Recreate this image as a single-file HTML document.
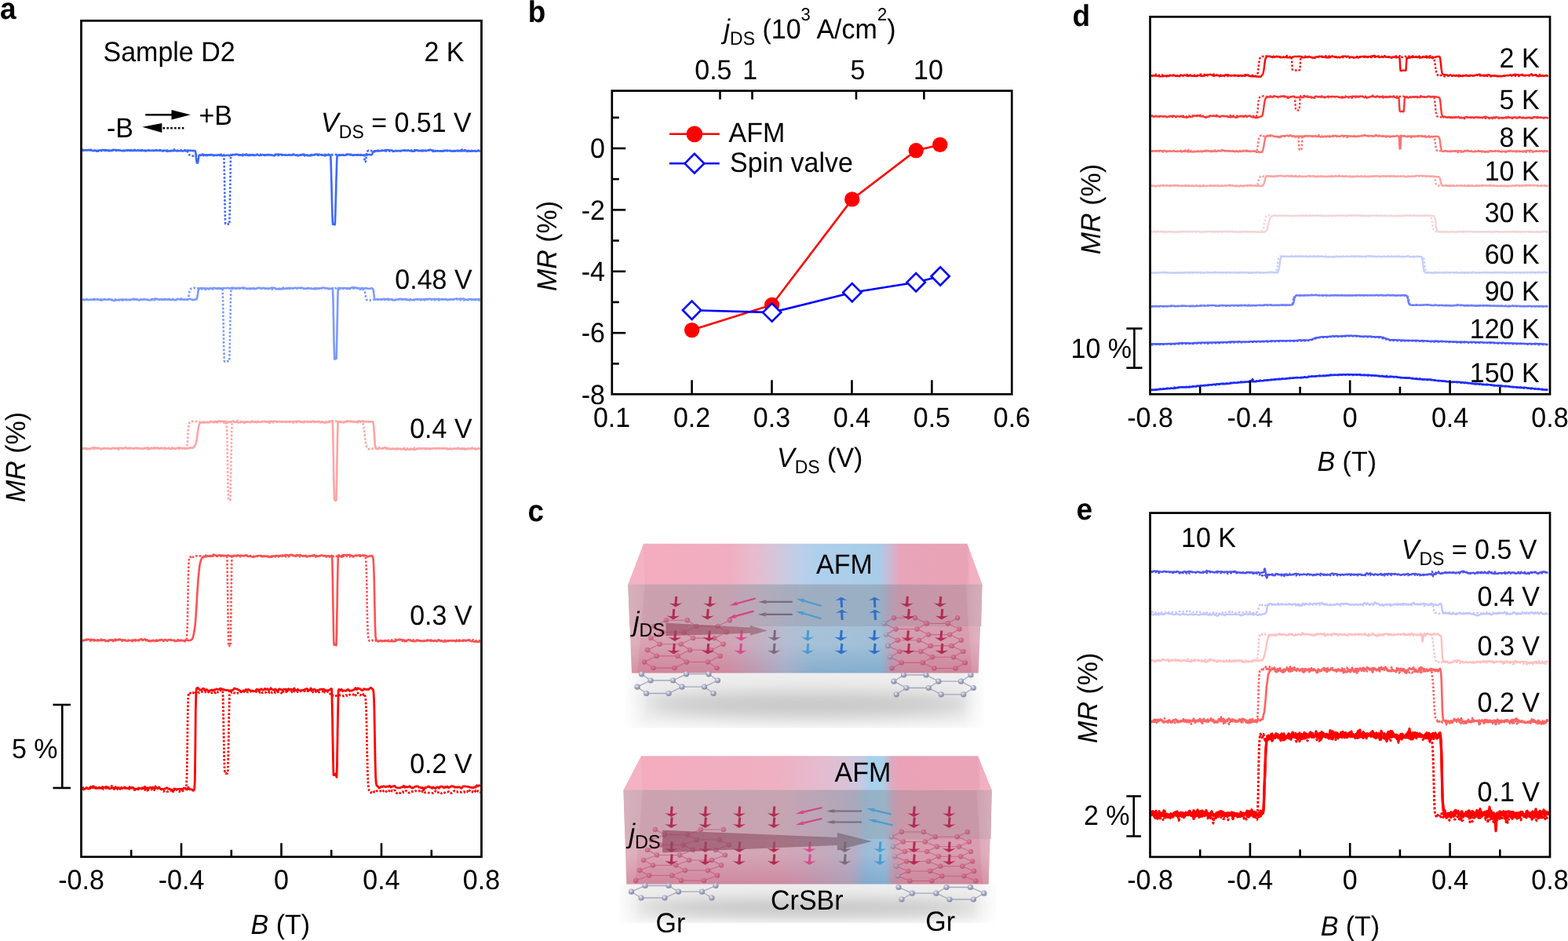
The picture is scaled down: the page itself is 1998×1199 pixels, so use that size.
<!DOCTYPE html>
<html><head><meta charset="utf-8"><title>Figure</title>
<style>
html,body{margin:0;padding:0;background:#fff;overflow:hidden;}
svg{display:block;}
text{font-family:"Liberation Sans", Arial, Helvetica, sans-serif;fill:#000;text-rendering:geometricPrecision;}
</style></head><body>
<svg width="1998" height="1199" viewBox="0 0 1998 1199">
<rect width="1998" height="1199" fill="#fff"/>
<g id="pa">
<path d="M105 191.8l1.5 0 1.5-.4 1.5-.1 1.5 0 1.5-.3 1.5 .4 1.5 0 1.5 .1 1.5 .8 1.5-.3 1.5-.5 1.5 1.1 1.5-.9 1.5-.1 1.5-.1 1.5 0 1.5-.6 1.5 .3 1.5 .8 1.5-.6 1.5 .2 1.5 .5 1.5 0 1.5-.2 1.5 .1 1.5-1.2 1.5 .1 1.5 .1 1.5 .3 1.5 .1 1.5 0 1.5 .3 1.5 .3 1.5 .1 1.5 0 1.5 .1 1.5-.7 1.5-.2 1.5-.1 1.5 .8 1.5 0 1.5-.1 1.5-.2 1.5 .3 1.5-.4 1.5 .5 1.5-.6 1.5 .5 1.5-.5 1.5 .7 1.5-.6 1.5 .4 1.5 .1 1.5 .4 1.5-.9 1.5 .1 1.5 .4 1.5-.4 1.5 .3 1.5-.1 1.5 .2 1.5-.6 1.5 .5 1.5-.2 1.5-.3 1.5 .6 1.5-.5 1.5 .9 1.5-.7 1.5 0 1.5 .5 1.5 .6 1.5-.4 1.5-.1 1.5 0 1.5-.3 1.5 .1 1.5-.4 1.5 .1 1.5 .5 1.5-.2 1.5 0 1.5-.3 1.5-.3 1.5 1 1.5-.3 1.5-.5 1.5 .7 1.5-.9 1.5 .1 1.5 .1 .3 0 .3 0 .4 .1 .3 0 .2 0 .2 0 .3 0 .1 0 .3 .1 .3 0 .1 0 .1 0 .1 0 .1 0 .2 0 .1 0 .2 0 .2 0 .1 .1 .2 0 .1 0 .1 0 .2 0 .2 0 .1 0 .2 0 .2-.1 .2 0 .1 0 .1 0 .1 0 .2 0 .1 0 .1 0 .1 0 .1 0 .1 0 .2 0 .2 .1 .1 0 0 .1 .2 .1 .2 .1 0 .1 .1 .3 .1 .1 .1 .3 0 .1 .1 .1 .1 1 .2 1.7 0 .3 0 .1 .2 1.7 .1 1.7 0 .3 0 .1 .2 1.5 .2 1.4 0 .2 0 .1 .2 1.1 .1 1 0 .1 0 .2 .1 0 .1 .8 .2 .7 0 .1 .2 0 .1 .1 .1 0 .1 0 .2 0 .2 0 .1 0 0-.1 .1-.2 .1-.4 .2-.9 0-.1 0-.1 .1-.9 .2-1.1 0-.2 .1-.1 .1-1.1 .2-1.1 0-.2 0-.1 .2-1 .1-.9 0-.1 0-.1 .2-.6 .2-.4 .2-.1 .1 0 .1 0 .1-.1 .2 0 .2 0 .1-.1 .1 0 .1 0 .1-.1 .1 .1 .2 0 .1 0 .2 .1 .2 0 .1 0 .2 .1 .2 0 .2 0 .1-.1 .2-.2 .2-.1 .2-.2 .2-.1 .1-.2 .2-.2 .2-.1 .1-.1 .1 0 .1 .1 .2 .1 .2 .1 .3 .2 .4 .2 .2 .1 .1 0 .4 0 .3 0 .4 .1 .3 0 1.5 .8 1.5-.2 1.5-.7 1.5 .5 1.5-.9 1.5 .7 1.5-.2 1.5 .3 1.5-.1 1.5 .3 1.5-.2 1.5-.4 1.5 .7 1.5 .3 1.5 0 1.5-.4 1.5 .3 1.5-.1 1.5-.3 1.5-.1 1.5 .7 1.5-1 1.5 .3 1.5-.6 1.5 .2 1.5-.4 1.5-.2 1.5 .1 1.5 1 1.5-.4 1.5 .2 1.5 .7 1.5-.8 1.5-.4 1.5 .7 1.5-.5 1.5 .8 1.5-1.1 1.5 .4 1.5-.2 1.5 .5 1.5-.3 1.5 .3 1.5-.4 1.5-.2 1.5 .8 1.5 .1 1.5-.2 1.5-.7 1.5 .2 1.5 .1 1.5 .3 1.5-.7 1.5 0 1.5 .4 1.5 0 1.5 .4 1.5 .2 1.5 .4 1.5-1 1.5-.6 1.5-.3 1.5 .2 1.5 .1 1.5-.1 1.5 .5 1.5 .1 1.5 .4 1.5 .1 1.5-.1 1.5-.6 1.5 .3 1.5 0 1.5 .3 1.5-1.2 1.5 .6 1.5 .7 1.5 0 1.5 .6 1.5-.3 1.5-.3 1.5-.3 1.5-.8 1.5-.2 1.5 1.1 1.5-.1 1.5 .2 1.5 .5 1.5 .2 1.5-.1 1.5-.6 1.5-.2 1.5 0 1.5-.7 1.5-.4 1.5 .3 1.5 0 1.5 .4 1.5 .1 1.5 .2 1.5 .3 .9 .4 .3 .2 .3 .1 .1 0 .3-.1 .4-.1 .3-.2 .4-.1 .3-.1 .4-.1 .3-.1 .4-.1 .1-.1 .2 0 .4 0 .3 0 .4 .1 .1 0 .1 0 .1 0 .1-.1 .3 0 .1 0 .2 0 .1 0 .3 0 .1 0 .2 0 .1 0 .3 0 .1 0 .2 0 .2 .1 .2 0 .1 0 .2 4.1 .1 2.1 .1 1.3 .2 6 .1 4.5 .2 7.4 .1 5.2 .3 8.2 .1 5.5 .2 8.3 .1 5.3 .1 1.9 .2 5.8 .1 4.8 .1 4.5 .1 2.1 .1 3.8 .2 3.3 .1 1.5 .1 2.5 .1-.1 .1 0 .2 0 .1-.1 .1 .1 .1 .1 .1 0 .1 .1 .2 .1 .1 0 .1 .1 .1 .1 .1 .1 .1 0 .1 .1 .2 .1 .1 0 .1 0 .1-.1 .1 0 .1-.1 .2 0 .1 0 .1-.1 .1-2.6 .1-1.5 .1-3.4 .2-4 .2-6.7 .1-4.8 .2-7.8 .2-5.3 .2-8.3 .1-5.5 .2-8.1 .2-5.2 .2-7.4 .1-3.3 0-1.2 .2-5.9 .2-3.3 .2-3.9 .1 0 .2 .1 .2 .1 .2 .1 .1 .1 .1 0 .1-.1 .2-.1 .2-.2 .1-.1 .2-.1 .2-.1 .2-.2 .1-.1 .2-.1 .1 0 .1 .1 .3 .1 .4 .1 .3 .1 .3 .1 .1 0 .3 0 .4 .1 .3 0 .4 0 .3-.1 .4-.1 .3-.2 .4-.1 .1 0 .2 .1 .4 .1 .9 .5 1.5-.1 1.5-.3 1.5-1.1 1.5 .4 1.5 0 1.5-.1 1.5 1 1.5-.2 1.5 .1 1.5-.2 1.5-.2 1.5-.1 1.5 .5 1.5 .1 1.5-.2 1.5 .3 1.5-.2 1.5 .3 1.5-.6 1.3 .2 .2 .1 .1-.1 .4-.1 .4-.2 .3-.1 .3-.1 .1 0 .3 0 .4 0 .3 0 .3 0 .1 0 .3 .1 .3 .1 .4 .1 .4 .1 .1 0 .2 0 .4-.1 .3-.2 .4-.3 .2-.3 .1-.1 .3-.5 .4-.9 .3-.8 .4-.5 .4-.6 .3-.3 .4-.3 .3-.1 .1-.1 .2 0 .4 0 .3 .1 .4 0 .2 0 .1 0 .4-.1 .4-.1 .3-.1 .3-.1 .1 0 .3 .1 .4 .2 .3 .1 .3 .1 .1 0 1.5 0 1.5-.3 1.5-.6 1.5 .1 1.5 .3 1.5-.6 1.5-.1 1.5-.2 1.5 .2 1.5 .3 1.5-.1 1.5 0 1.5 1.4 1.5-.2 1.5-.8 1.5 .4 1.5-.1 1.5-.1 1.5 .3 1.5-.6 1.5-.1 1.5-.1 1.5-.3 1.5 .6 1.5 .1 1.5-.4 1.5 .6 1.5 0 1.5 .5 1.5-.1 1.5 0 1.5-.8 1.5-.6 1.5 .7 1.5 .1 1.5 .1 1.5-.1 1.5 .5 1.5-.5 1.5-.3 1.5 .5 1.5-.4 1.5-.5 1.5-.4 1.5-.1 1.5 1 1.5 1.2 1.5-.2 1.5-.8 1.5 .3 1.5-.1 1.5 .3 1.5 0 1.5-.1 1.5 .2 1.5-.2 1.5-.4 1.5-.1 1.5 0 1.5 .1 1.5-.2 1.5 .4 1.5 .4 1.5-.2 1.5-.3 1.5 .1 1.5-.3 1.5 .5 1.5 0 1.5-.4 1.5 .6 1.5-.7 1.5 .3 1.5 0 1.5-.2 1.5 .8 1.5-.7 1.5 .7 1.5-.5 1.5 .5 1.5-.5 1.5 0 1.5 .3 1.5 .2 1.5-1.1 1.5 .5 1.5 .6" fill="none" stroke="#3d68ff" stroke-width="2.6" stroke-linejoin="round"/>
<path d="M105 190.4l1.5 .8 1.5 .1 1.5 .1 1.5 0 1.5-.3 1.5 .1 1.5-.5 1.5 .4 1.5 .2 1.5 .4 1.5 .8 1.5-.2 1.5 .1 1.5 .4 1.5 0 1.5-.5 1.5-.5 1.5-.2 1.5-.5 1.5 .5 1.5 .1 1.5-.1 1.5 0 1.5 .9 1.5-.4 1.5-.3 1.5-.1 1.5 .4 1.5-.2 1.5 .1 1.5-.4 1.5 .1 1.5-.6 1.5 .4 1.5 .4 1.5-.4 1.5 0 1.5 .5 1.5-.9 1.5 .1 1.5-.1 1.5-.2 1.5-.2 1.5 .3 1.5 .1 1.5 .4 1.5 .1 1.5-.1 1.5-.3 1.5 .3 1.5-.2 1.5 .4 1.5-.3 1.5 .5 1.5-.8 1.5 .2 1.5 .3 1.5-.3 1.5 .5 1.5-.1 1.5 .2 1.5-.7 1.5 .2 1.5 .5 1.5-.1 1.5-.5 1.5 1 1.5 .3 1.5-.5 1.5-.6 1.5 .2 1.5-.2 1.5 .2 1.5-.2 1.5 .6 1.5-.6 1.5 .2 1.5-1.2 1.5-.3 1.5 1.2 1.5 .4 1.5-.3 1.5 .8 1.5-.5 1.5-.4 .3 0 .4 0 .4 0 .3 0 .1 0 .2 0 .4 0 .3-.1 .4 0 .2-.1 .2 0 .3 .1 .3 0 .4 0 .3 0 .1 0 .3 .1 .3 0 .4 .2 .3 .3 .1 .1 .3 .5 .3 .9 .4 1 .3 1.1 .2 .4 .2 .4 .4 .5 .3 .3 .3 .1 .3 0 .1 .1 .3 .1 .4 .2 .3 .1 .4 .1 .3 .1 .4 0 .4 .1 .3 .1 .1 0 .2 .1 .4 .2 .3 .2 .4 .2 .2 .1 .2-.1 .3-.2 1-.5 1.5 .5 1.5-1.1 1.5 0 1.5 .2 1.5 .2 1.5 .1 1.5-.9 1.5 1.2 1.5-1.1 1.5 0 1.5 .4 1.5 .7 1.5-.8 1.5-.1 1.5 .3 1.5 .5 1.5-.1 1.5 .1 1.5-.4 1.4 0 .1 0 .3-.1 .3-.1 .4-.1 .3-.1 .2 0 .2 0 .3 .1 .4 .1 .3 .1 .3 .1 .1-.1 .3-.3 .4-.3 .3-.3 .4-.2 0-.1 .3 .2 .4 .1 0 .1 .3 .1 .1 0 .3 .2 .1 0 .2 0 .1 0 .3 0 .3-.1 .1 0 .3 0 .2 0 .1 0 .4 5.4 0 1.1 .3 15.3 .1 1.6 .3 19 0 1.8 .3 18 0 1.1 .1 1.7 .3 15.6 0 1.2 .3 6.4 .1 0 .3 0 .3 0 .1 0 .3 .1 .3 0 .1 0 .3 0 .3 0 .1 0 .1 0 .2 0 .3 .1 .1 0 .3 0 .3 0 .1 .1 .2 0 .1 0 .3 .1 .1 .1 .3 .1 .3 .1 .1 0 .3-6.3 0-1.2 .4-15.7 0-1.7 .3-19.1 0-1.8 .4-19 0-1.7 .3-15.3 0-1.1 .1-2.4 .2-3 .1 0 .3-.2 .3-.1 .1-.1 .3-.1 .2-.1 .1 0 .1 0 .3-.1 .4 0 .3-.1 .3 0 .1 0 .3 .1 .4 .1 .3 .1 .4 .1 .3-.1 .4-.1 .3-.1 .4-.2 .1 0 .2 0 .4 .1 .3 .1 .4 .1 .2 .1 .1 0 1.4 .1 1.5 .3 1.5-.7 1.5-.3 1.5 .2 1.5-.1 1.5-.4 1.5 .2 1.5 .2 1.5 .4 1.5 .8 1.5 0 1.5-.5 1.5-.3 1.5 1 1.5-.7 1.5-.6 1.5 .1 1.5 0 1.5 0 1.5 .2 1.5 .4 1.5 .3 1.5 .1 1.5-.5 1.5-.1 1.5 .1 1.5 .4 1.5-.4 1.5 .4 1.5 .3 1.5 0 1.5-1.4 1.5 1 1.5 .5 1.5-.4 1.5-.4 1.5 .2 1.5 0 1.5-.1 1.5-.5 1.5 .6 1.5-.3 1.5 .3 1.5-.2 1.5 .2 1.5 0 1.5-.6 1.5 0 1.5 .8 1.5-.1 1.5-.4 1.5 .4 1.5-.4 1.5 .1 1.5-.5 1.5 .8 1.5 .8 1.5-.7 1.5 .3 1.5-.5 1.5 .4 1.5-.8 1.5-.2 1.5 .9 1.5-.8 1.5-.1 1.5 .5 1.5 .3 1.5 .2 1.5-.3 1.5-.2 1.5 .2 1.5-.3 1.5-.6 1.5 .9 1.5-.4 1.5-.7 1.5 1.1 1.5-.7 1.5 0 1.5 .6 1.5-.6 1.5 0 1.5 .1 1.5 .8 1.5 .1 1.5 0 1.5-.1 1.5-.8 1.5 .7 1.5 .1 1.5-.8 1.5 .2 1.5 .1 1.5 .1 1.5-.3 1.5 1.5 1.5-.7 1.5-.5 1.5 0 1.5 .1 1.5-.1 .2-.1 .4-.2 .3-.1 .4-.2 .2-.1 .1 0 .4 .1 .3 0 .1 .1 .3 0 .1 0 .2 .1 .1 0 .3 0 .1 0 .2 0 .1 0 .2 0 .1 0 .2 .1 .1 0 .1 0 .1 0 .1 0 .1 0 .1 0 .2 .1 .1 0 .1 0 .1 0 .1 0 .1 0 .1 .1 .1 0 .1 0 .1 0 .1 0 .1 0 .1 0 .1 0 .1 .1 .1 0 .1 0 .1 0 .1 0 .1 0 .1 0 .1 0 .1 0 .1 0 .1 0 .1 0 0 .2 .1 .3 .2 .8 0 .7 .1 .4 .1 .5 .1 1.1 .1 .8 .1 .5 0 .5 .2 1 0 .7 .1 .4 .1 .3 .1 .6 .1 0 .1 0 .1-.1 .1 0 .1-.1 .1 0 .1-.1 .1 0 .1 0 0-.1 .1-.2 .1-.5 .1-.4 .1-.4 .1-1.2 .1-.9 .1-.6 0-.5 0-.1 .1-1.5 .1-.9 .1-.7 .1-.6 .1-1.5 .1-.9 0-.5 .1-.4 .2-.4 0-.2 .1-.1 .1-.1 .1-.1 .1-.1 .1-.1 .1 0 .1-.1 0-.1 .1-.1 .1 0 .1-.2 .1 0 .1-.1 .1-.1 .1-.1 .1 0 .1 0 .1-.1 .1-.1 .1 0 .1-.1 .1 0 .1 0 .1 0 .1 0 .1 0 .1 0 .1-.1 .2 0 .1 0 .1 0 .1 0 .1 0 .2 0 .1 0 .1 0 .1 0 .2 0 .2 0 .1 0 .1 0 .1 0 .2 0 .1 0 .3 0 .1 0 .2 .1 .1 .1 .3 .1 .1 .1 .2 .1 .1 .1 .3 .1 .1 .1 .2 0 1.3 .2 1.5 .6 1.5-.8 1.5-.8 1.5 .1 1.5-.2 1.5-.2 1.5 .6 1.5-.2 1.5 .4 1.5 .1 1.5 .2 1.5-.4 1.5 0 1.5 .4 1.5-.4 1.5 .8 1.5-.3 1.5-.7 1.5 .1 1.5 .1 1.5 0 1.5 .3 1.5-.3 1.5 .3 1.5-.6 1.5-.1 1.5 .3 1.5-.6 1.5 .5 1.5-.6 1.5 0 1.5 .1 1.5 0 1.5 .2 1.5-.7 1.5 .3 1.5 0 1.5 .8 1.5-.1 1.5 .1 1.5 0 1.5-.8 1.5 1.1 1.5-.4 1.5 0 1.5-.2 1.5 0 1.5-.5 1.5 0 1.5 .2 1.5 .2 1.5-.5 1.5 1.1 1.5-.1 1.5-.3 1.5 .4 1.5 .2 1.5-.2 1.5 .3 1.5-.9 1.5 .2 1.5-.6 1.5 .9 1.5-.3 1.5 .4 1.5 0 1.5 .6 1.5-.6 1.5 .5 1.5-.4 1.5-.6 1.5 0 1.5 .1 1.5-.3 1.5-.7 1.5-.3 1.5 1.5 1.5-1 1.5 1.1 1.5 .8 1.5-1.3 1.5 .8 1.5-.2 1.5-.7 1.5-.2 1.5 .7 1.5-.1 1.5-.3 1.5 .3 1.5-.3 1.5-.2" fill="none" stroke="#3d68ff" stroke-width="2.6" stroke-linejoin="round" stroke-dasharray="2.6 2.2"/>
<path d="M105 381.8l1.5-.1 1.5 .5 1.5-.4 1.5-.3 1.5 .8 1.5-.3 1.5-.3 1.5 .2 1.5-.3 1.5 .6 1.5-.7 1.5 0 1.5 .1 1.5 .1 1.5 .6 1.5 .4 1.5-.4 1.5-.8 1.5 .3 1.5-.1 1.5 .1 1.5-.4 1.5-.2 1.5 .6 1.5 .7 1.5 0 1.5 .8 1.5-1.1 1.5 .2 1.5-.4 1.5-.3 1.5 .3 1.5-.5 1.5 .1 1.5 .2 1.5-.1 1.5 .3 1.5-.2 1.5 .2 1.5-.2 1.5 .2 1.5-.5 1.5-.4 1.5-.3 1.5 .8 1.5-.1 1.5 .6 1.5 .3 1.5-.3 1.5-.1 1.5-.2 1.5-.4 1.5 .1 1.5 .3 1.5-.3 1.5 .5 1.5 .4 1.5-.5 1.5-.7 1.5-.1 1.5 .2 1.5-.8 1.5 .5 1.5 0 1.5 .8 1.5-.2 1.5-.4 1.5 .7 1.5-.1 1.5-1 1.5 .9 1.5-.1 1.5 0 1.5 .3 1.5-.1 1.5 .2 1.5-.1 1.5 .1 1.5 .5 1.5-.6 1.5-1 1.5 .4 1.5-.1 1.5-.7 1.5 1.2 1.5 .1 1.5-.4 1.5 .4 1.5 .1 1.5-.5 1.5-.7 1.5 .5 1.5 .4 .5 .2 .3 .1 .4 .1 .3 .1 .1 0 .3 0 .3 0 .4 0 .3-.1 .1 0 .3-.1 .3-.1 .4-.1 .3-.2 .2 0 .2 0 .4 0 .3-.1 .3-.2 .3-.2 .1-.1 .3-.7 .4-1.2 .3-1.9 .4-2.3 .3-2.6 .4-2 .4-1.5 .3-.9 .1-.2 .2-.1 .4-.1 .3 .1 .4 .1 .2 .1 .2-.1 .3-.2 .3-.1 .4-.2 .3-.1 .1 0 .3 .1 .4 .1 .3 .1 .3 .1 .1 0 .3 0 .3-.1 .4-.1 .5-.1 1.5 .8 1.5-.6 1.5 .3 1.5 .5 1.5-.8 1.5-.1 1.5 .3 1.5-.1 1.5-.6 1.5 .7 1.5 0 1.5 .5 1.5-1.1 1.5 .7 1.5 .1 1.5-.5 1.5-.2 1.5 .2 1.5 0 1.5-.2 1.5-.1 1.5 .5 1.5 0 1.5-.8 1.5 .5 1.5-.2 1.5 .6 1.5-.6 1.5 .4 1.5-.6 1.5 .5 1.5-.3 1.5-.3 1.5 .2 1.5 .1 1.5 .8 1.5 .1 1.5-.1 1.5-.1 1.5 0 1.5-.1 1.5 .2 1.5 .4 1.5-.1 1.5-.5 1.5-.4 1.5-.4 1.5 .2 1.5 .5 1.5 0 1.5-.6 1.5 .4 1.5 .4 1.5-.1 1.5 .3 1.5-.2 1.5-.6 1.5-.4 1.5 .4 1.5-.3 1.5 .7 1.5 .6 1.5 .2 1.5 .2 1.5 .1 1.5-.6 1.5 .3 1.5-.3 1.5-.2 1.5 0 1.5 0 1.5-.7 1.5-.2 1.5 .5 1.5 .1 1.5-.4 1.5 .1 1.5-.3 1.5 .6 1.5-.6 1.5 .2 1.5-.1 1.5 0 1.5 0 1.5 1.1 1.5-.1 1.5-.1 1.5-.4 1.5 0 1.5 0 1.5 .4 1.5 .2 1.5 0 1.5 0 1.5 .5 1.5-1.2 1.5 .7 1.5-.3 1.5-.5 1.5 .1 1.5-.7 1.5 .2 1.5 0 1.5 .4 .8 0 .4 .1 .3 0 .4 .2 .3 .2 .4 .2 .3 .1 .1 .1 .3-.1 .3-.2 .4-.1 .3-.2 .2 0 .2 0 .2 .1 .1 0 .2 .1 .2 0 .2 .1 .1 0 .2 0 .1 .1 .1-.1 .2 0 .1 0 .2-.1 .2 0 .2 0 .1 0 .2-.1 .2 0 .2 0 .1 0 .2 0 .2 .1 .2 0 .1 .4 .2 6.3 .2 4.3 .1 4.3 0 .9 .1 4.3 .1 5.6 .1 5.3 .1 6 .2 6.1 .1 5.6 .1 6.1 .1 5.9 .1 5.3 .1 5.4 .2 5 .1 4.1 .1 4 .1 3.3 .1 1.8 .2-.1 .1 0 .1 0 .1-.1 .1 0 .1 0 .2-.1 .1 0 .1 0 .1-.1 .1 0 .1 0 .1-.1 .2 0 .1-.1 .1 0 .1 0 .1-.1 .1 0 .2-.1 .1-1.8 .1-3.4 .1-4 .1-3 0-1.2 .1-5 .2-5.4 .1-5.3 .1-5.9 .1-6.1 .1-5.6 .2-6.1 .1-6 .1-5.4 .1-5.5 .2-9.6 .1-2.5 .1-1.7 .2-6.2 .1-.3 .2 .1 .1 0 .3 .1 .1 .1 .2 .1 .1 .1 .1 0 .2-.1 .1 0 .2 0 .1-.1 .3 0 .1 0 .2-.1 .2 0 .1 0 .1 0 .1 0 .2 0 .2 0 .2 0 .3 0 .4 0 .3 0 .4 .1 .3 .1 .4 .1 .1 0 .2 0 .4-.2 .3-.1 .4-.1 .2 0 .1 0 1.4 .2 1.5-.1 1.5 .3 1.5-.2 1.5 .2 1.5-.2 1.5-1 1.5 .4 1.5-.5 1.5 1 1.5-.3 1.5 .7 1.5-.2 1.5 .4 1.5-.4 1.5-.2 1.5 .4 1.5 0 1.5-.5 1.5 .7 1.4 0 .1 0 .2 .1 .4 0 .3 .1 .4 .1 .2 0 .1-.1 .4-.1 .4-.2 .3-.2 .3-.1 .1 0 .3 0 .4 0 .3 0 .3 0 .1 0 .3 .2 .3 .2 .4 .3 .4 .7 .1 .4 .2 .7 .4 2 .3 2.9 .4 2.8 .2 1.5 .1 .5 .3 1.1 .4 .6 .3 .2 .4 .1 .4 0 .3 0 .4 0 .3 0 .1 0 .2 .1 .4 .1 .3 .1 .4 .1 .2 .1 .1-.1 .4-.1 .4-.1 .3-.1 .3-.1 .1 0 1.4-.1 1.5 0 1.5 .1 1.5-.6 1.5 .1 1.5 .6 1.5-.6 1.5-.1 1.5 .6 1.5 0 1.5 .1 1.5 1 1.5-.3 1.5-.5 1.5-.1 1.5-.3 1.5 0 1.5-.7 1.5 .9 1.5-.5 1.5 .4 1.5-.3 1.5-.3 1.5 1.2 1.5 0 1.5 .3 1.5-.3 1.5 .1 1.5-.1 1.5 .4 1.5-1.2 1.5 .2 1.5 .3 1.5-.7 1.5 .8 1.5-.6 1.5 .4 1.5-.3 1.5 .1 1.5-.5 1.5 .7 1.5-.6 1.5-.4 1.5 .6 1.5-.2 1.5 .1 1.5-.3 1.5 .3 1.5 .1 1.5 0 1.5-.5 1.5 .8 1.5-.1 1.5-.2 1.5 .1 1.5 .2 1.5-.4 1.5 1 1.5-.5 1.5-.1 1.5-.5 1.5 .7 1.5-.4 1.5-.1 1.5-.5 1.5-.3 1.5 .7 1.5-.3 1.5-.4 1.5 .2 1.5 .3 1.5-.4 1.5 .9 1.5 .2 1.5 .1 1.5-.4 1.5-.1 1.5-.3 1.5 .2 1.5 .6 1.5-.3 1.5-.2 1.5 .2 1.5 .1 1.5-.4 1.5 0" fill="none" stroke="#7a9aff" stroke-width="2.6" stroke-linejoin="round"/>
<path d="M105 382.7l1.5-.9 1.5 .4 1.5-.8 1.5 0 1.5-.4 1.5 .8 1.5-.1 1.5 .2 1.5-.9 1.5 0 1.5-.8 1.5 .6 1.5 .4 1.5 .5 1.5-.2 1.5-.1 1.5 .6 1.5-.4 1.5-.3 1.5 .6 1.5 .6 1.5-.7 1.5-.3 1.5 .5 1.5-.3 1.5-.1 1.5 .3 1.5-.5 1.5 .5 1.5 1 1.5-.4 1.5-.5 1.5 .5 1.5 .2 1.5-.3 1.5-.1 1.5-.5 1.5 .9 1.5-.6 1.5 .1 1.5-.1 1.5-.4 1.5-.3 1.5 .6 1.5-.3 1.5-.6 1.5 .6 1.5 .4 1.5-.4 1.5-.3 1.5 .6 1.5-.3 1.5-.3 1.5 .4 1.5 .3 1.5 .1 1.5 .3 1.5-.5 1.5 .3 1.5-.8 1.5 1 1.5-.8 1.5 .5 1.5-.7 1.5 .4 1.5-.6 1.5 .4 1.5-.3 1.5-.1 1.5 .8 1.5-.3 1.5-.4 1.5 0 1.5 0 1.5-.2 1.5 .2 1.5-.2 1.5 .1 1.5 0 1.5 .2 1.5 .4 1.5-.3 1.5-.2 1.5 .3 1.5-.5 1.5 .7 .3-.1 .4 0 .4 0 .3-.1 .1 0 .2 0 .4 0 .3-.1 .4 0 .2 0 .2 0 .3 0 .3 0 .4 0 .3-.1 .1 0 .3 0 .3-.3 .4-.4 .3-.7 .1-.2 .3-1.3 .3-2 .4-2.2 .3-2.3 .2-.9 .2-.8 .4-1 .3-.7 .3-.3 .3-.1 .1-.1 .3-.3 .4-.2 .3-.2 .4-.1 .3-.1 .4-.1 .4 0 .3-.1 .1 0 .2-.1 .4-.1 .3 0 .4-.1 .2-.1 .2 .1 .3 .2 1 .4 1.5-.1 1.5-.1 1.5 .4 1.5 .5 1.5-.1 1.5 .6 1.5-.4 1.5 .3 1.5 .4 1.5-.5 1.5-.1 1.5 0 1.5-.6 1.5 .6 1.5 .2 1.5-.6 1.5-.1 1-.4 .4-.1 .1 0 .2 0 .4 0 .3 0 .4 0 .2 .1 .1 0 .4 0 .3 .1 .4 .1 .3 0 .4 .1 .3 0 .4 0 .3 0 .1 0 .3 .1 .3 .1 .4 0 .3 .1 .2 .1 .2-.1 .2 0 .1 0 .2 0 .2-.1 .2 0 .1 0 .2-.1 .1 0 .1 0 .1 3.8 .2 5.7 .2 7.2 .2 7.8 .1 8.9 .2 8.8 .2 9.5 .2 8.7 0 1.6 .1 7.3 .2 7.6 .2 7.1 .2 5.5 .2 3.2 .1 0 .2 0 .2 0 .1 .1 .1 0 .1-.1 .2 0 .2 0 .1 0 .2 0 .2 0 .2 0 .1 0 .1 0 .1-.1 .2 0 .2 0 .1-.1 .2 0 .2-.1 .2 0 .2-.1 .1 0 .2 0 .2 .1 .2 0 .1 0 .2 0 .2 .1 .1 0 .2 0 .1 0 .1 0 .2 0 .1 0 .2-.1 .2 0 .2 0 .1-.1 .2-3.2 .2-5.4 .2-7.1 .2-7.7 .1-8.8 .2-8.7 .2-9.5 .2-8.8 .1-8.8 .2-7.8 .1-4.1 .1-3.1 .1-5.6 .2-3.8 .2 0 .2 0 .1 0 .2 0 .2 0 .2 0 .1 0 .2 0 .4 .1 .3 0 .4 .1 .1 0 .2 0 .4-.1 .3 0 .4 0 .2 0 .1 0 .4-.1 .3 0 .4 0 .3 0 .4 0 .3-.1 .4 0 .3-.1 .1 0 .3 0 .3 0 .9-.1 1.5 .3 1.5-.1 1.5 .2 1.5 .1 1.5-.3 1.5 .8 1.5-.5 1.5 .3 1.5-.9 1.5 .9 1.5-.3 1.5-.1 1.5-.7 1.5 .3 1.5-.5 1.5 .4 1.5-.3 1.5-.2 1.5 .4 1.5 .6 1.5 .2 1.5-.7 1.5 .5 1.5 .1 1.5 .1 1.5 0 1.5 .1 1.5 .8 1.5-.2 1.5-.7 1.5 .6 1.5-.6 1.5 .1 1.5-.5 1.5 0 1.5 .5 1.5-.3 1.5-.6 1.5-.9 1.5 1.2 1.5-.2 1.5-.3 1.5 .4 1.5 .5 1.5-.8 1.5 .8 1.5-.6 1.5 .2 1.5 .1 1.5-.1 1.5 .1 1.5 .1 1.5-.8 1.5 .5 1.5 .8 1.5-.7 1.5 .1 1.5 .1 1.5-.9 1.5 .8 1.5-.2 1.5 .2 1.5 0 1.5 .5 1.5-.7 1.5-.2 1.5 .8 1.5-.8 1.5 .7 1.5-.4 1.5-.3 1.5-.1 1.5 .8 1.5-.6 1.5 .2 1.5-.1 1.5 .5 1.5 .4 1.5 .1 1.5-.7 1.5-.6 1.5 .9 1.5-.8 1.5 1.1 1.5 .2 1.5 0 1.5 0 1.5 0 1.5-.6 1.5-.2 1.5 .2 1.5 0 1.5 .1 1.5-1 1.5 1.1 1.5-.4 1.5 .5 1.5-.5 1.5-.3 1.5 .1 1.5-.8 1.5 1.2 1.5 .2 .9 .5 .4 .2 .2 .1 .1-.1 .3-.2 .4-.3 .3-.3 .4-.2 .4 .3 .3 .3 .4 .3 .3 .3 .1 .1 .2-.2 .4-.1 .3-.1 .4 0 .2 .1 .1 .1 .4 .5 .4 .7 .3 1 .3 1.2 .1 .3 .3 2 .4 2.1 .3 1.8 .3 1.6 .1 .1 .3 .8 .3 .6 .4 .4 .4 .2 .1 .1 .2 .1 .4 .2 .3 .1 .4 .1 .2 0 .1 .1 .3 0 .4 .1 .3 0 .4 0 .4-.2 .3-.2 .4-.1 .4-.3 1.5-.1 1.5-.3 1.5 .1 1.5-.5 1.5 .2 1.5-.2 1.5 .9 1.5-.5 1.5-.1 1.5 .3 1.5 .3 1.5-.5 1.5 .5 1.5-.2 1.5 .1 1.5-.5 1.5 .6 1.5-.8 1.5 .3 1.5 1 1.5-.7 1.5 .2 1.5-.2 1.5-.8 1.5 .2 1.5-.1 1.5 .4 1.5-.2 1.5 .4 1.5 .1 1.5-.5 1.5-.2 1.5 .1 1.5-.4 1.5 .2 1.5 .4 1.5 .1 1.5-.3 1.5-.3 1.5 .2 1.5 .1 1.5 .8 1.5-.4 1.5 .4 1.5-.6 1.5 .7 1.5-1.1 1.5-.4 1.5 .3 1.5 .1 1.5 .2 1.5 .6 1.5 0 1.5 .5 1.5-.9 1.5 .1 1.5 .1 1.5 .5 1.5-.4 1.5-.1 1.5-.5 1.5 .2 1.5-.4 1.5 .2 1.5 .5 1.5 0 1.5-.5 1.5 .4 1.5 .1 1.5-.4 1.5 .2 1.5 .2 1.5-.8 1.5 1.1 1.5-.2 1.5 .3 1.5 0 1.5 .4 1.5-.1 1.5-.5 1.5 .1 1.5-.2 1.5 .4 1.5-.3 1.5 .1 1.5-.2 1.5 .2 1.5-.2 1.5 .2 1.5-.6 1.5-.1 1.5 1.1 1.5-.8" fill="none" stroke="#7a9aff" stroke-width="2.6" stroke-linejoin="round" stroke-dasharray="2.6 2.2"/>
<path d="M105 570.6l1.5 1.2 1.5-.4 1.5 0 1.5 0 1.5 .5 1.5 0 1.5 0 1.5-1.4 1.5 .3 1.5-.5 1.5 .5 1.5 0 1.5 0 1.5 .4 1.5 .1 1.5 .6 1.5-.2 1.5-.5 1.5-.2 1.5 .3 1.5 .2 1.5-.4 1.5 .7 1.5 .2 1.5-.5 1.5-1 1.5 1 1.5-.1 1.5-.6 1.5 1.1 1.5-1.2 1.5 .2 1.5-.2 1.5 1.1 1.5-.4 1.5-.7 1.5 .6 1.5 .2 1.5 .1 1.5-.6 1.5 .4 1.5-.6 1.5 .8 1.5 0 1.5-.9 1.5 .4 1.5 .5 1.5-.5 1.5 .1 1.5 .6 1.5-.2 1.5 .1 1.5-1 1.5 .4 1.5-.6 1.5 0 1.5 1.8 1.5-1.2 1.5-.4 1.5 .9 1.5-.4 1.5 .3 1.5-1 1.5 .7 1.5 .7 1.5-.7 1.5-.6 1.5 .7 1.5-.1 1.5-.6 1.5 .8 1.5 .1 1.5 0 1.5 .1 1.5 .5 1.5-.5 1.5-.4 1.5 .2 1.5 .2 1.5-.6 1.5-.2 1.5-.8 1.5 1.2 1.5-.4 1.5 .5 1.5-.2 1.5-.1 1.5 .3 1.5 0 1.5 .1 1.5-.7 1.5-.5 1.5 .8 .3-.1 .4 0 .4-.1 .3-.1 .1-.1 .2-.2 .4-.4 .3-.4 .4-.4 .2-.3 .2-.1 .3-.4 .3-.4 .4-.6 .3-.6 .1-.1 .3-.9 .3-1.2 .4-1.4 .3-1.7 .1-.3 .3-2 .3-2.4 .4-2.6 .3-2.6 .2-1.1 .2-1.4 .4-2.2 .3-2 .3-1.7 .3-1.1 .1-.3 .3-1.1 .4-.8 .3-.7 .4-.5 .3-.2 .4 0 .4 0 .3 .1 .1 0 .2-.1 .4-.1 .3 0 .4-.1 .2 0 .1 0 .4-.2 1-.3 1.5 .7 1.5-.6 1.5 .2 1.5 .4 1.5-.7 1.5-.5 1.5-.3 1.5 .9 1.5-.5 1.5-.6 1.5 1.4 1.5-1.2 1.5-.4 1.5 .4 1.5-.3 1.5 0 1.5 .2 1.5 0 1.5 .1 1.5 .7 1.5 .4 1.5-.7 1.5 .5 1.5-1 1.5-.4 1.5 .7 1.5 .4 1.5 .1 1.5 .5 1.5 .3 1.5-.4 1.5-.1 1.5-.2 1.5-.2 1.5-.1 1.5 .3 1.5-.6 1.5 .4 1.5 .4 1.5 .1 1.5-1.7 1.5 1.2 1.5 .3 1.5-1 1.5 1.3 1.5-1.2 1.5 .7 1.5 0 1.5 .1 1.5-.3 1.5-.4 1.5-.3 1.5 .5 1.5 .5 1.5-.7 1.5 1.3 1.5-2 1.5 .9 1.5-.6 1.5 .1 1.5 0 1.5 .5 1.5-.2 1.5 .1 1.5 0 1.5 .6 1.5-.3 1.5 0 1.5-.3 1.5 .4 1.5 0 1.5 .2 1.5-.8 1.5 .3 1.5-.1 1.5 0 1.5-.1 1.5-.1 1.5-.2 1.5 .3 1.5-.5 1.5 .7 1.5 .7 1.5-.1 1.5-.6 1.5-.4 1.5 .5 1.5-.4 1.5 .4 1.5 .3 1.5-.7 1.5 0 1.5-.1 1.5 0 1.5 .7 1.5-.3 1.5-.4 1.5 .6 1.5 .7 1.5 0 1.5-.3 1.5-.1 1.5 .8 1.5-1 .6 .1 .4 0 .3 .1 .2 0 .2 0 .3 0 .4 .1 .3 0 .3 0 .1 0 .3-.4 .4-.3 .3-.3 .4-.3 0-.1 .2 .1 .1 0 .2 .1 .2 .1 .2 .1 .1 0 .2 .1 .2 0 .1 .1 .1 0 .1-.1 .2-.1 .2 0 .2-.1 .1 0 .2-.1 .2 0 .2-.1 .1 0 .2 0 .2 .1 .2 0 .1 .5 .2 7 .2 4.7 .1 4.9 .1 5.8 .1 5.1 0 1.1 .1 5.8 .1 6.7 .2 6.7 .1 6.2 .1 6.8 .1 6.5 .1 5.8 .1 5.9 .2 5.6 .1 4.5 .1 4.4 .1 3.7 .1 2 .1 .1 .2 .2 .1 .1 .1 .1 .1 .2 .1 .1 .2 .1 .1 .1 .1 .2 .1 .1 .1 .1 .1 .2 .1 0 .1 0 .1 0 .1-.1 .1 0 .1 0 .1-.1 .1 0 .2 0 .1-2.1 .1-3.7 .1-4.5 .1-4.6 .1-5.6 .1-2.5 .1-3.6 .1-5.8 .1-6.7 .1-6.8 .1-6.2 .1-6.9 .2-6.7 .1-5.9 .1-6.2 .2-10.7 .2-4.7 .1-5 .1-2 .1-.5 .2 .1 .2 .1 .2 .1 .1 .1 .2 .1 .1 0 .3 .1 .1 0 .2-.1 .1-.1 .3-.1 .1-.1 .2-.1 .1 0 .3-.1 .1-.1 .2 .2 .2 .1 .2 .1 .3 .3 .4 .2 .2 .2 .1 0 .4-.1 .3-.1 .4 0 .3-.1 .4 .1 .3 .2 .4 .1 .3 .1 .1 .1 1.5-1.1 1.5 .3 1.5-.9 1.5 .2 1.5 .2 1.5 0 1.5-.2 1.5 .6 1.5 .2 1.5-.1 1.5-.5 1.5 .8 1.5-1.6 1.5 1.1 1.5-.5 1.5-.7 1.5 1 1.5 0 1.5 .1 1.5 0 1.5 .1 .5 0 .4 0 .3 0 .3 .1 .1 0 .3-.1 .4-.1 .3 0 .3-.1 .1 0 .3 .1 .3 0 .4 0 .4 .1 .1 .1 .2-.1 .4 0 .3 .1 .4 .4 .2 .5 .1 .3 .3 1.9 .4 3.1 .3 4.6 .4 5.9 .4 5.9 .3 4.7 .4 3.1 .3 1.9 .1 .4 .2 .6 .4 .5 .3 .2 .4 .1 .2 0 .1 .1 .4 0 .4 .1 .3 .1 .3 0 .1 0 .3-.2 .4-.2 .3-.2 .3-.2 .1 0 .3 0 .3 .1 .9 .1 1.5 .2 1.5-.3 1.5-.1 1.5-1 1.5 .7 1.5 .2 1.5 .2 1.5 .8 1.5 .3 1.5-.7 1.5 .1 1.5 .6 1.5-.7 1.5 1.1 1.5-.9 1.5 0 1.5 .2 1.5 .6 1.5-.8 1.5 .1 1.5 1.1 1.5-.1 1.5-.4 1.5 0 1.5 .1 1.5 0 1.5-.4 1.5 .2 1.5 .2 1.5 .4 1.5-.9 1.5-.4 1.5-.3 1.5-.1 1.5 .5 1.5-.6 1.5 .3 1.5-.2 1.5 .3 1.5-.2 1.5 .1 1.5 .7 1.5-.2 1.5-.8 1.5 .1 1.5 .3 1.5-.4 1.5 0 1.5-.1 1.5 .2 1.5 0 1.5 .2 1.5-.3 1.5-.1 1.5 0 1.5 .7 1.5-.2 1.5 .8 1.5-.7 1.5-.4 1.5 1.1 1.5-.6 1.5 0 1.5-.2 1.5 .1 1.5-1 1.5 .9 1.5 .2 1.5-.5 1.5 .9 1.5-1 1.5 .6 1.5 .6 1.5-.1 1.5-.6 1.5 .3 1.5-.1 1.5-1.2 1.5 1 1.5 0 1.5 .8 1.5-.4 1.5-.5 1.5-.1 1.5 .7" fill="none" stroke="#ffa4a4" stroke-width="2.6" stroke-linejoin="round"/>
<path d="M105 572l1.5-1.2 1.5 1.3 1.5 0 1.5 .1 1.5-.5 1.5-.1 1.5 .1 1.5-.1 1.5 .2 1.5 .3 1.5-1.6 1.5 .7 1.5 .6 1.5-.1 1.5 .3 1.5 .3 1.5 0 1.5-.7 1.5 .2 1.5 .3 1.5-.3 1.5-.2 1.5 .5 1.5-.1 1.5-.4 1.5-.1 1.5-.5 1.5 .5 1.5 .4 1.5-.3 1.5 1.2 1.5-.5 1.5-.5 1.5-.5 1.5-.6 1.5-.3 1.5-.3 1.5 .7 1.5-.2 1.5 .1 1.5 .7 1.5-.1 1.5 .2 1.5-.8 1.5 .6 1.5-.3 1.5-.1 1.5 .5 1.5-.1 1.5 .1 1.5 .1 1.5 .3 1.5-.5 1.5 .5 1.5 .2 1.5 .4 1.5 .3 1.5-1.1 1.5-.8 1.5-.2 1.5-.4 1.5 .5 1.5-.4 1.5 .3 1.5 .5 1.5 .7 1.5-.8 1.5 .4 1.5 .2 1.5 .7 1.5-1.3 1.5-.6 1.5 .4 1.5-.2 1.5-.2 1.5-.3 1.5 1.6 1.5-.4 1.5 .9 1.5-.4 1.5-.2 1.5 .3 1.5-1.3 1.5 .1 1.5 .8 .3 .1 .4 .1 .4 .1 .3 .1 .1 .1 .2-.1 .4-.1 .3-.1 .4-.1 .2 0 .2 0 .3 0 .3 0 .4-.1 .3-.1 .1 0 .3-.2 .3-.4 .4-1 .3-1.7 .1-.3 .3-2.8 .3-4.7 .4-5.9 .3-5.9 .2-2.2 .2-2.2 .4-2.8 .3-1.5 .3-.6 .3-.2 .1-.2 .3-.6 .4-.4 .3-.4 .4-.4 .3 0 .4-.1 .4-.1 .3 0 .1-.1 .2 .1 .4 0 .3 .1 .4 .1 .2 0 .2 0 .3 0 1 .1 1.5 .3 1.5-.5 1.5 .8 1.5-.1 1.5 .2 1.5-.3 1.5 .2 1.5 .3 1.5-.2 1.5-.2 1.5 .5 1.5-.3 1.5-.4 1.5-.4 1.5 .3 1.5 0 1.5 1 1.5-.3 1.5 .8 1.5-.9 1.5 .5 1.5-1.7 .6 .6 .4 .3 .3 .3 .2 .2 .2 0 .3 0 .4 0 .3 .1 .3 0 .1 0 .3 .1 .4 .1 .3 .1 .4 .1 .2 .1 .1 0 .2 0 .2 0 .2 .1 .1 0 .2 0 .2 0 .1 0 .1 0 .1-.1 .2-.2 .2-.1 .2-.2 .1-.1 .2-.1 .2-.1 .2-.2 .1 0 .2 .1 .2 0 .2 .1 .1 .5 .2 7 .2 4.6 .1 4.8 .1 5.7 .1 5.1 0 1 .1 5.8 .1 6.6 .2 6.7 .1 6.1 .1 6.6 .1 6.5 .1 5.7 .1 5.9 .2 5.4 .1 4.5 .1 4.4 .1 3.6 .1 1.9 0 .1 .1 0 .2 .1 .1 0 .1 .1 .1 0 .1 .1 .2 0 .1 .1 .1 0 .1 0 .1 .1 .1 0 .1 .1 .1 0 .1 0 .1 0 .1 .1 .1 0 .1 0 .1 0 .2 .1 .1-2 .1-3.6 .1-4.4 .1-4.5 .1-5.4 .1-2.5 .1-3.5 .1-5.7 .1-6.5 .1-6.7 .1-6.2 .1-6.7 .2-6.6 .1-5.9 .1-6.1 .2-10.5 .2-4.6 .1-4.9 .1-2.1 .1-.5 .2-.1 .2 0 .2-.1 .1 0 .2-.1 .1-.1 .3-.1 .1 0 .2 0 .1 0 .3 0 .1 0 .2 0 .1 0 .3-.1 .1 0 .2-.1 .2-.1 .2-.1 .3-.2 .4-.2 .2-.2 .1 0 .4 0 .3-.1 .4 0 .3 0 .4-.2 .3-.2 .4-.2 .3-.2 .1-.1 1.5 .7 1.5 .2 1.5 .9 1.5 1 1.5 0 1.5 .3 1.5-.5 1.5-.5 1.5-.7 1.5 1.1 1.5-.5 1.5-.3 1.5-.1 1.5 .4 1.5-.5 1.5-.2 1.5 .4 1.5 .1 1.5-.4 1.5 0 1.5-.1 1.5 0 1.5 .1 1.5 .2 1.5-.2 1.5 .5 1.5 .9 1.5-.8 1.5 .1 1.5 .3 1.5 0 1.5-.3 1.5-.2 1.5 .2 1.5 .3 1.5-1.3 1.5 1.7 1.5-1.5 1.5 1.1 1.5-.3 1.5 .1 1.5-.8 1.5 1 1.5-.6 1.5 0 1.5 .4 1.5 .5 1.5 .6 1.5-.9 1.5-.3 1.5 0 1.5-.8 1.5 0 1.5 .5 1.5 .5 1.5 .1 1.5-.4 1.5 .3 1.5-.6 1.5-.1 1.5 .1 1.5 .5 1.5-.6 1.5-.2 1.5 .9 1.5-.5 1.5-.1 1.5-.2 1.5-.4 1.5 .8 1.5-.6 1.5 .4 1.5 0 1.5 .2 1.5 .6 1.5-.9 1.5 0 1.5 .4 1.5-.8 1.5-.7 1.5 .6 1.5 .3 1.5-.6 1.5 .1 1.5 0 1.5 .8 1.5 .2 1.5 0 1.5 .1 1.5 .2 1.5-.6 1.5 .4 1.5-1.7 1.5 .1 1.5 .3 1.5 .5 1.5 .4 1.5-.1 1.5 .2 1.5-.6 1.5 1 1.5 .6 1.5-.1 .3-.1 .3 0 .4-.1 .4-.1 .1 0 .2-.2 .4-.2 .3-.3 .4-.2 .2-.1 .1 .1 .3 .2 .4 .4 .3 .4 .4 .6 .4 .7 .3 .9 .4 1.3 .3 1.8 .1 .5 .2 1.7 .4 2.7 .3 3.2 .4 3.3 .2 2 .1 1.3 .4 2.9 .4 2.5 .3 2 .3 1.3 .1 .3 .3 1.2 .4 .9 .3 .7 .3 .4 .1 .1 .3 .4 .3 .5 .4 .4 .4 .4 .1 .1 .2-.1 .4-.1 .3-.1 .4-.1 .2-.2 .1 .1 .3 .1 1.1 .2 1.5-.1 1.5-.7 1.5 .7 1.5-.9 1.5 .7 1.5-.8 1.5-.6 1.5 .1 1.5 .3 1.5 .5 1.5 .3 1.5 0 1.5 .2 1.5 .6 1.5-1.2 1.5 .9 1.5-.4 1.5 .4 1.5-.2 1.5-1.1 1.5 .8 1.5-.1 1.5-.3 1.5 .6 1.5 0 1.5-.4 1.5 .1 1.5 .1 1.5-.4 1.5 1.1 1.5-1 1.5 .8 1.5 .1 1.5-.4 1.5-.7 1.5-.2 1.5-.1 1.5 .2 1.5 .8 1.5-.4 1.5 .2 1.5 .6 1.5-.6 1.5-.1 1.5 .3 1.5 0 1.5 .7 1.5 0 1.5-.6 1.5-.4 1.5 .7 1.5-.7 1.5 0 1.5 .8 1.5-.8 1.5 .5 1.5-.2 1.5-.2 1.5-.3 1.5 .3 1.5-.3 1.5 0 1.5 .1 1.5 .2 1.5 .7 1.5-.3 1.5-.1 1.5 .2 1.5-.6 1.5 0 1.5 .3 1.5-.3 1.5 .3 1.5-.4 1.5 .6 1.5 .2 1.5 .1 1.5-.6 1.5 1.3 1.5-.7 1.5-.2 1.5-.7 1.5-.1 1.5 1 1.5-.1 1.5-1.4 1.5 .9 1.5 .1 1.5-.5 1.5-.1 1.5 .5 1.5-.3 1.5 .8" fill="none" stroke="#ffa4a4" stroke-width="2.6" stroke-linejoin="round" stroke-dasharray="2.6 2.2"/>
<path d="M105 815.8l1.5 .1 1.5-.1 1.5-.9 1.5 0 1.5-.3 1.5 .9 1.5-.7 1.5 .8 1.5-.5 1.5 0 1.5 .7 1.5 .2 1.5-.7 1.5 .7 1.5-.1 1.5-1.3 1.5 1.4 1.5-.8 1.5 1.2 1.5 .7 1.5-.6 1.5-.2 1.5-1 1.5 .5 1.5-.7 1.5 1.9 1.5-1.6 1.5 1 1.5-1.3 1.5 .5 1.5-.4 1.5-.7 1.5 1 1.5-.1 1.5 .2 1.5 .4 1.5 .4 1.5 .3 1.5-.4 1.5-.3 1.5 0 1.5-.2 1.5-.4 1.5 .3 1.5-.6 1.5 .7 1.5 .3 1.5-.9 1.5 0 1.5-1.2 1.5 1.1 1.5 .3 1.5-1 1.5 1 1.5-.2 1.5 1.7 1.5-.4 1.5 .7 1.5-1 1.5 .2 1.5-.5 1.5 1.3 1.5-.8 1.5 .3 1.5-1.1 1.5 .3 1.5-1 1.5 .5 1.5 .3 1.5-.6 1.5 .2 1.5 .8 1.5-.8 1.5-.1 1.5-.3 1.5 .8 1.5 .1 1.5 .3 1.5 1 1.5-.6 1.5 .2 1.5-1 1.5 .9 1.5-.6 1.5 .1 1.5 .3 1.5-.7 1.5 .1 1.5-.1 1.5 .2 1.5 .2 1.5-.4 1-.6 .3-.3 .2-.1 .2-.3 .4-.6 .3-.7 .3-.9 .3-.7 .1-.3 .3-1.3 .4-1.5 .3-1.7 .4-2.1 .3-2.1 .4-2.5 .4-2.9 .3-3.4 .1-1 .2-3.1 .4-4.8 .3-5.2 .4-5.6 .2-3.3 .2-2.5 .3-5.9 .3-5.9 .4-5.8 .3-4.8 .1-.7 .3-4.7 .3-4.4 .4-3.8 .3-3.3 .1-.5 .3-2.8 .3-2.8 .4-2.5 .3-2 .2-.8 .2-.9 .4-1.3 .3-1 .3-.9 .3-.5 .1-.2 .3-.9 .4-.7 .3-.6 .4-.5 1.5 .1 1.5-1.4 1.5-1.1 1.5 .6 1.5 .4 1.5 .1 1.5 .2 1.5-.3 1.5-1.7 1.5 0 1.5 .5 1.5 .4 1.5 .9 1.5-1.5 1.5 .3 1.5 .1 1.5 .5 1.5-.4 1.5 .3 1.5 .1 1.5-.2 1.5-.4 1.5 1 1.5-.1 1.5 .3 1.5-.3 1.5 0 1.5-.4 1.5 .1 1.5-.8 1.5 .9 1.5-.3 1.5-.2 1.5 .6 1.5 0 1.5-.2 1.5-.7 1.5 1 1.5 .7 1.5-.6 1.5 .1 1.5 .9 1.5 .4 1.5-.7 1.5-.3 1.5-.4 1.5-.3 1.5-.2 1.5 0 1.5 0 1.5 1.5 1.5-1.3 1.5 .6 1.5-.1 1.5-.1 1.5 .5 1.5 .8 1.5-1 1.5-.2 1.5-.3 1.5 .1 1.5-.3 1.5-.1 1.5-.1 1.5 .5 1.5-.4 1.5-.2 1.5 .5 1.5-.4 1.5-.5 1.5-.5 1.5 .3 1.5 .8 1.5-.9 1.5-.3 1.5 0 1.5 .6 1.5 .8 1.5-.4 1.5-.8 1.5 .5 1.5-.1 1.5-.4 1.5 .8 1.5 .7 1.5-.3 1.5 0 1.5 .7 1.5 .5 1.5-1 1.5 0 1.5-.1 1.5-.5 1.5-.1 1.5-.7 1.5 2.2 1.5-1.2 1.5 .8 1.5-.5 1.5-.4 1.5-.6 1.5 .5 1.5 .3 1.5-.3 1.3 .7 .2 .1 .2 0 .3 0 .4 0 .3-.1 .3 0 .1 0 .3-.1 .4-.1 .3-.1 .4-.1 .3 .3 .4 .2 .3 .3 .4 .2 .1 .1 .2-.1 .2-.1 .2-.1 .1-.1 .2-.1 .2-.1 .2-.1 .1-.1 .1-.1 .1 0 .1-.1 .3-.1 .1 0 .2-.1 .1-.1 .3-.1 .1 0 .2-.1 .1 1.3 .3 7.2 .1 5.4 .2 10.5 .2 6.9 .2 12.5 .1 7.7 .2 13.1 .1 4.7 .1 2.9 .1 7.3 .1 4.9 .1 6.7 .1 6.2 .1 4 .1 5.1 .2 4.4 .1 2.4 .1 .7 .1 0 .1-.1 .1 0 .1 0 .1 0 .1-.1 .1 0 .1 0 .1 0 .1 0 .2 0 .1 0 .1 0 .1-.1 .1 0 .2 0 .1 0 .1 .1 .1 .1 .1 .1 .1 .1 .2 .2 .1 .1 .1 .1 .1 .1 .1-.6 .1-2.4 .1-4.3 .2-5.1 .1-3.9 0-1.3 .1-5 .1-6.9 .2-12.4 .2-7.7 .2-13.2 .1-7.7 .2-12.5 .2-7 .2-10.6 .1-5.3 .2-7.3 .2-1.3 .2-.1 .1 0 .2-.1 .2-.1 .2-.1 .1-.1 0 .1 .2 .1 .2 .1 .2 .2 .1 .1 .2 .1 .2 .1 .2 .2 .1 .1 .1 0 .1 .1 .2 .1 .3 .3 .4 .3 .3 .3 .2 .1 .2-.3 .3-.6 .4-.5 .3-.6 .3-.5 .1 0 .3 .1 .4 .1 .3 0 .4 .1 .3-.1 1.2-.2 1.5 .4 1.5-.4 1.5 .1 1.5-.4 1.5 .9 1.5 .3 1.5 1.3 1.5-1.1 1.5-.4 1.5-.1 1.5 .1 1.5-.3 1.5-.1 1.5 .7 1.5-.3 1.5 .3 1.5-.3 1.5 .3 1.5 1.3 1.5-.4 .7-.3 .4-.1 .3-.1 .1-.1 .2 0 .4 0 .3 .1 .4 0 .2 0 .1-.1 .4-.1 .4-.1 .3-.1 .3 0 .1 0 .3 .3 .4 .5 .3 .9 .3 1.7 .1 .3 .3 2.8 .3 5.7 .4 9.7 .4 14.6 .1 7.5 .2 10.7 .4 18.2 .3 14.5 .4 9.6 .2 4.4 .1 1.2 .3 2.8 .4 1.3 .3 .6 .4 .1 .4 .6 .3 .4 .4 .4 .3 .3 .1 .1 .2-.1 .4-.1 .3-.2 .4-.2 .2-.1 .1 0 .4 0 .4-.1 .6-.1 1.5-.4 1.5 .9 1.5-.4 1.5 .4 1.5-.4 1.5 .5 1.5 0 1.5 .2 1.5-.5 1.5 .3 1.5 .3 1.5 0 1.5-.5 1.5-1 1.5-.5 1.5-.2 1.5-.5 1.5 1 1.5 1.2 1.5-1.4 1.5 1.9 1.5-1.2 1.5-.4 1.5-.6 1.5 .2 1.5 .8 1.5 .8 1.5 0 1.5 .2 1.5-.2 1.5-.6 1.5-.8 1.5 1 1.5 .2 1.5 .3 1.5-.1 1.5 0 1.5-.1 1.5-.6 1.5 .2 1.5-.4 1.5-.1 1.5-.4 1.5 .5 1.5 1 1.5-.9 1.5 .7 1.5 .3 1.5-.8 1.5-.9 1.5 1.4 1.5-.1 1.5 .3 1.5 .7 1.5-.8 1.5 .5 1.5-1.2 1.5 .8 1.5-.8 1.5 0 1.5 .4 1.5-.1 1.5-.3 1.5 .3 1.5-.9 1.5 1.1 1.5 .3 1.5-.7 1.5 .2 1.5 .2 1.5-1.2 1.5 .7 1.5 .3 1.5-.9 1.5 .5 1.5 0 1.5 .7 1.5 .4 1.5-.4 1.5 .9 1.5-.1 1.5-.5 1.5 1 1.5-.7 1.5-.2" fill="none" stroke="#ff5050" stroke-width="2.6" stroke-linejoin="round"/>
<path d="M105 816.8l1.5-.7 1.5-.3 1.5-.3 1.5-.2 1.5 .9 1.5-.2 1.5 .4 1.5 0 1.5 .4 1.5-.5 1.5 .1 1.5-.6 1.5 .6 1.5-.1 1.5-.2 1.5 0 1.5-.4 1.5-.3 1.5 0 1.5 1 1.5-.6 1.5 1.2 1.5 .4 1.5-.9 1.5-1.2 1.5 .7 1.5-.2 1.5-1.3 1.5 .2 1.5 .3 1.5-.3 1.5 .4 1.5 .3 1.5 1.5 1.5-.9 1.5-.5 1.5 0 1.5 .9 1.5-.8 1.5 .9 1.5 .2 1.5 .2 1.5 .4 1.5-1.2 1.5 .5 1.5-1.1 1.5 .2 1.5 .5 1.5 .5 1.5-.4 1.5-.7 1.5 .9 1.5-.2 1.5-.5 1.5 .5 1.5 1 1.5-1.3 1.5 .5 1.5-.3 1.5-.4 1.5 .1 1.5-.1 1.5-.2 1.5 0 1.5 .6 1.5-.6 1.5 1.1 1.5-.1 1.5 .3 1.5-.2 1.5-.4 1.5 .2 1.5-.7 1.5-.1 1.5-.1 1.5 .8 1.5-.3 1.5 .1 1.5-1.2 1.5 .1 1.5 .2 1.5 .3 1.5 .4 1.5-.4 1.4 1.2 .1 .1 .2 0 .4 0 .3 0 .4 0 .2 0 .2 .1 .3 0 .3 0 .4 .1 .3 0 .1 0 .3 .1 .3 .1 .4 0 .3-.1 .1-.1 .3-.7 .3-1.5 .4-2.8 .3-5.2 .2-3.5 .2-5.9 .4-15 .3-19.8 .3-19.9 .3-11.3 .1-3.7 .3-9.3 .4-4.9 .3-2.5 .4-1.2 .3-.3 .4 0 .4 .1 .3 .2 .1 0 .2-.3 .4-.4 .3-.4 .4-.4 .2-.2 .2 .1 .3 .4 .3 .4 .4 .4 .3 .3 .1 0 .3-.3 1.1-.9 1.5-.2 1.5 0 1.5 .2 1.5 .4 1.5-.8 1.5 .2 1.5-.2 1.5 1 1.5-1 1.5 1.3 1.5-1.3 1.5-.2 1.5 .1 1.5 .5 1.5 .9 1.5-1 1.5-.5 1.5 .7 1.5-.1 1.5 .1 1.5 .1 1.5-.4 1.2 .2 .3 0 .4-.2 .3-.2 .4-.2 .3-.2 .1 0 .3 .1 .3 .1 .4 .1 .3 .1 .2 .1 .2 0 .2 0 .1 0 .2 0 .2 0 .2 0 .1 .1 .2 0 .1 0 .1 .1 .2 .2 .1 .1 .2 .2 .2 .1 .2 .2 .1 .1 .2 .2 .2 .2 .2-.1 .1-.1 .2-.1 .2-.1 .2-.1 .1 0 .1-.1 .1 0 .2 2.6 .1 3.7 0 1.3 .1 5.1 .1 7.6 .1 5.7 .1 8.9 .2 9.5 .1 6.7 .1 9.8 .1 9.6 .1 6.6 .1 9 .2 8.4 .1 5.3 .1 6.8 .1 5.3 .1 2.3 .2-.1 .1 0 .1-.1 .1-.1 .1 0 .1-.1 .2 0 .1-.1 .1-.1 .1 0 .1-.1 .1 .1 .1 0 .2 .1 .1 .1 .1 0 .1 .1 .1 0 .1 .1 .2 .1 .1-2.3 .1-5.4 .1-6.6 .1-4 0-1.3 .1-8.4 .2-9.1 .1-6.6 .1-9.7 .1-9.8 .1-6.8 .2-9.5 .1-8.9 .1-5.8 .1-7.6 .1-6.5 .1-3.8 .1-2.7 .1 0 .2 .1 .1 .1 .2 .1 .1 0 .3 .1 .1 .1 .2 .1 .1 .1 .1 0 .2-.2 .1-.1 .2-.3 .1-.1 .3-.3 .1-.1 .2-.3 .2-.1 .1-.2 .1 .1 .1 .2 .2 .2 .2 .2 .2 .3 .3 .4 .4 .4 0 .1 .3-.2 .4-.3 .3-.2 .4-.2 .1-.1 .2 .1 .4 .1 .3 .2 .4 .1 .2 .1 1.5 .6 1.5-.7 1.5 .2 1.5-.3 1.5-.8 1.5 .8 1.5 .5 1.5-1.6 1.5 .6 1.5 .7 1.5-1 1.5 0 1.5 .5 1.5 .5 1.5 0 1.5-.1 1.5-.3 1.5 .9 1.5-1.1 1.5 .3 1.5 .1 1.5 .2 1.5-.1 1.5 .2 1.5-.1 1.5 .6 1.5 .8 1.5-.7 1.5-.1 1.5-.1 1.5 .3 1.5-.7 1.5 0 1.5 .7 1.5-.5 1.5-1.2 1.5 .5 1.5-1 1.5 .5 1.5 .5 1.5 .9 1.5-.8 1.5 .4 1.5-.3 1.5-1 1.5-.2 1.5 .4 1.5-.5 1.5 1.1 1.5 .1 1.5 .1 1.5-.1 1.5 .8 1.5-.3 1.5-.8 1.5 .3 1.5 .3 1.5-1.1 1.5 1.3 1.5 .1 1.5-.5 1.5-.3 1.5 1.1 1.5-1.2 1.5 1.1 1.5 .1 1.5-.9 1.5 .7 1.5-.6 1.5-.6 1.5 .1 1.5-.5 1.5 .5 1.5-.4 1.5 1.7 1.5-.4 1.5 .4 1.5-.6 1.5 1.3 1.5-.8 1.5-.7 1.5-.4 1.5-.6 1.5 1.1 1.5-.3 1.5 .1 1.5 .3 1.5-1 1.5 1.4 1.5-.6 1.5-.9 1.5 .3 1.5 .7 1.5-.3 1.5 .9 1.5-1.4 1.5 .6 1.5 .5 1.5-1.4 1.5 .5 1.5-.4 1.5 .9 1.5-.6 1.5 .6 1.5-.8 .1 0 .3-.2 .4-.1 .3-.2 .4-.1 .4 .1 .3 .2 .4 .1 .3 .2 .1 0 .2 0 .4 0 .3 0 .4 .2 .2 .2 .1 .2 .4 .8 .4 1.6 .3 3.1 .3 4.6 .1 1 .3 9.7 .4 14.6 .3 18.2 .3 18.2 .1 2.4 .3 12.2 .3 9.6 .4 5.7 .4 3.2 .1 .8 .2 .8 .4 .8 .3 .5 .4 .2 .2 .1 .1 0 .3 0 .4 0 .3 0 .4-.1 .4-.2 .3-.2 .4-.2 .3-.2 .1-.1 .2 .2 1.3 .6 1.5 .6 1.5-1.1 1.5 2.2 1.5-.8 1.5-.4 1.5 1.3 1.5-1.2 1.5 .3 1.5 .1 1.5-1.5 1.5 .6 1.5-.1 1.5-.7 1.5-.9 1.5 .7 1.5-.1 1.5-.2 1.5-.6 1.5 .2 1.5 .3 1.5 .3 1.5-.6 1.5 .4 1.5 .1 1.5 0 1.5 .8 1.5 .1 1.5 .6 1.5 .1 1.5-.5 1.5-.2 1.5-1 1.5-.2 1.5 .3 1.5 .4 1.5-1 1.5 .8 1.5 1 1.5-.2 1.5 0 1.5 .2 1.5-.1 1.5 .1 1.5-.9 1.5 0 1.5-.3 1.5 .8 1.5 .9 1.5-.2 1.5-.1 1.5 0 1.5-.1 1.5-.9 1.5 .7 1.5-.9 1.5 .3 1.5 .9 1.5-.5 1.5 .1 1.5 .4 1.5-1.1 1.5 .4 1.5-.1 1.5 .4 1.5-.5 1.5 .2 1.5 0 1.5-.1 1.5 1.1 1.5 .1 1.5-.2 1.5-.6 1.5-.8 1.5 .4 1.5-.2 1.5 .1 1.5 1 1.5-1.6 1.5 1.2 1.5 .1 1.5-.8 1.5-.7 1.5 .8 1.5 0 1.5-.8 1.5 1.5 1.5 .2 1.5-.7 1.5 .3 1.5 0 1.5-.1" fill="none" stroke="#ff5050" stroke-width="2.6" stroke-linejoin="round" stroke-dasharray="2.6 2.2"/>
<path d="M105 1003.2l1.5 2.8 1.5-1 1.5-.5 1.5-.7 1.5 1.4 1.5-.7 1.5-2.1 1.5 1.3 1.5-1.9 1.5 .7 1.5 2 1.5-.3 1.5 .2 1.5-1.1 1.5 .8 1.5 .4 1.5-1.8 1.5 .3 1.5 .7 1.5-1.3 1.5 .4 1.5 1.7 1.5 .3 1.5-.2 1.5-1 1.5 .3 1.5 1.4 1.5-2.7 1.5 1 1.5 .6 1.5-.1 1.5 .6 1.5-.2 1.5 0 1.5-.8 1.5-.8 1.5 1.7 1.5-.4 1.5 .6 1.5-2.1 1.5 1.1 1.5 .6 1.5-.9 1.5 1.5 1.5 .1 1.5 .3 1.5-.6 1.5-.9 1.5 .8 1.5 0 1.5-1 1.5 1.2 1.5-2.4 1.5 2.8 1.5-1.5 1.5 1.6 1.5-1.9 1.5-.2 1.5 1.5 1.5-1.8 1.5 1.4 1.5-.2 1.5-.2 1.5 .3 1.5-1.4 1.5 2 1.5 .9 1.5-.4 1.5 .6 1.5-1.3 1.5-.1 1.5-.8 1.5 1.4 1.5-.1 1.5 1.1 1.5-.1 1.5 2.6 1.5-2.5 1.5-.9 1.5 .6 1.5-.4 1.5-.1 1.5-.1 1.5 .2 1.5-.2 1.5-1 1.5-.1 1.5 .3 1.5 1.6 1.5-2.9 1.5 2.6 .5-.1 .3 0 .4 0 .3 0 .1 0 .3 .1 .3 0 .4 .1 .3 .1 .1 0 .3 .2 .3 .4 .4 .3 .3 .3 .2 .1 .2 0 .4-.1 .3-.1 .3-.3 .3-.5 .1-.5 .3-3.1 .4-7.9 .3-19.1 .4-36 .3-32.8 .4-18.7 .4-7.6 .3-2.6 .1-.4 .2-.5 .4-.4 .3-.2 .4-.1 .2-.1 .2 .2 .3 .4 .3 .4 .4 .4 .3 .3 .1 0 .3 .3 .3 .2 .4 .2 .3 .3 .1 0 .3 .1 .3 0 .4 .1 .5 0 1.5-1.5 1.5-.4 1.5 2.5 1.5-1.3 1.5 .3 1.5 1.9 1.5-.7 1.5-.2 1.5-.9 1.5 1.2 1.5-1.1 1.5-.4 1.5-.7 1.5 .4 1.5 .3 1.5-1.4 1.5 .3 1.5 1.2 1.5-.3 1.5 .8 1.5 .1 1.5 .1 1.5 .3 1.5 .8 1.5-.9 1.5 0 1.5-.4 1.5-2.2 1.5 .5 1.5 .4 1.5 .6 1.5 .9 1.5 .6 1.5 1.4 1.5-.7 1.5-.9 1.5 .7 1.5-2.1 1.5 1 1.5-1 1.5 1.1 1.5 .8 1.5-.3 1.5 .8 1.5-.2 1.5 0 1.5-2.2 1.5 0 1.5 2.2 1.5-2.1 1.5-.7 1.5 1.3 1.5 0 1.5-1.6 1.5 1 1.5-.8 1.5 1.1 1.5 0 1.5-2 1.5 1.4 1.5 .7 1.5 .2 1.5-1.2 1.5 2 1.5 .7 1.5-2.7 1.5 .3 1.5 .6 1.5 .7 1.5-1.1 1.5-.1 1.5-.1 1.5 2.7 1.5-3.2 1.5 .8 1.5 0 1.5 .2 1.5-.2 1.5-1.4 1.5 2.5 1.5 0 1.5-1.3 1.5 1.2 1.5 .7 1.5-.7 1.5-.3 1.5 .3 1.5-1 1.5-.8 1.5 0 1.5 2.2 1.5-.4 1.5-2.5 1.5 1.6 1.5 .3 1.5-.6 1.5 .8 1.5 1.5 1.5-1.3 1.5-.2 1.5-1 1.5 .2 1.5 0 1.5-.2 1.5 1.1 .8 .4 .4 .1 .3 .2 .4-.1 .3 0 .4-.1 .3 0 .1 0 .3-.1 .3 0 .4 0 .3 0 .2 0 .2-.1 .3-.1 .4-.1 .3-.2 .3-.1 .1 0 .2-.2 .1-.1 .3-.2 .1-.1 .2-.2 .1 0 .3-.2 .1-.1 .2-.1 .1 0 .3-.1 .1 0 .2-.1 .1 0 .3 2.6 .1 2.9 .1 4.1 .1 6.5 .1 4.4 .3 13.9 .1 5.1 .2 15.5 .1 5.3 .3 15.2 .1 5.1 .2 10.8 .1 2.4 0 4 .3 9.5 .1 2.5 .2 .2 .1 0 .2-.1 .1 0 .1 0 .2 0 .1 0 0-.1 .2-.1 .1-.1 .1-.1 .2-.2 .1-.1 .2-.2 .1-.1 .1 0 .2-.2 .1-.1 .1-.1 .1 .3 .1 .3 .1 .2 .2 .5 .1 .2 0 .3 .2 .4 .1 .3 .1 .2 .2 .5 .1 .3 .2 .7 0-.3 .1-2.5 .3-9.7 .1-4.1 .2-13.4 .1-5.1 .3-15.3 0-5.4 .3-15.6 .1-5.2 .3-14.1 .1-4.3 .2-10.8 .1-3 .3-2.8 .1 0 .2-.2 .1 0 .1 0 .2 .1 .1 .1 .2 .2 .1 .1 .3 .2 .1 .1 .2 .2 .1 .1 .2 .2 .1-.1 0-.1 .3-.3 .4-.3 .3-.4 .4-.4 .3 .5 .4 .5 .3 .6 .4 .6 .1 .2 .2-.1 .4-.2 .3-.2 .4-.2 .2-.1 .1 0 .4 .1 .3 .1 .7 .1 1.5 .3 1.5-1.7 1.5 0 1.5 1.8 1.5-.5 1.5 0 1.5-.8 1.5-.8 1.5-1.8 1.5 2.2 1.5-2.1 1.5 1 1.5 .2 1.5 1.3 1.5 .6 1.5-2.1 1.5 .4 1.5 .5 1.5-.5 1.5 .4 1.1-.8 .3-.3 .1 0 .3-.3 .3-.3 .4-.2 .4-.3 .1-.1 .2 .2 .4 .3 .3 .3 .4 .3 .2 .3 .1 0 .3 .1 .4 .3 .3 .4 .4 .9 .4 2.1 .3 3.8 .4 6.7 .3 11.3 .1 4.3 .2 12.2 .4 20.6 .3 20.5 .4 16.3 .2 6.8 .1 4.1 .4 6.5 .4 3.5 .3 1.9 .3 .9 .1 .1 .3 .5 .4 .2 .3 .2 .3 0 .1 .1 .3 .4 .3 .5 .4 .5 .4 .5 .1 .2 .2-.1 .4-.1 .3-.1 .4-.2 .2 0 1.5-1.4 1.5 .4 1.5-.8 1.5 .8 1.5 0 1.5-.5 1.5 .4 1.5-1.2 1.5 1.8 1.5-.8 1.5-.3 1.5-.6 1.5 1.6 1.5 .6 1.5 .3 1.5 0 1.5 .1 1.5-.9 1.5-.3 1.5-1.4 1.5 2 1.5-.8 1.5 .4 1.5-.3 1.5-.9 1.5 1.6 1.5 .8 1.5-.4 1.5-.9 1.5-.6 1.5-.3 1.5 0 1.5 1.5 1.5 0 1.5 .4 1.5-.3 1.5 3.1 1.5-2.9 1.5-.2 1.5-.7 1.5-.8 1.5 1.1 1.5 0 1.5 1.4 1.5-1.7 1.5 1.3 1.5 .3 1.5-1.5 1.5 .1 1.5 1.3 1.5-2.2 1.5 .1 1.5 .2 1.5 1.5 1.5-1.3 1.5 .7 1.5-1.4 1.5 1.8 1.5-.7 1.5-.7 1.5-.7 1.5 .2 1.5 1.3 1.5-.2 1.5 .1 1.5 .1 1.5-.4 1.5 1 1.5 .7 1.5-2 1.5-.5 1.5 0 1.5 .3 1.5 .2 1.5 .1 1.5 .7 1.5 .1 1.5 .2 1.5 .2 1.5-.8 1.5 .4 1.5-2.5 1.5 .9 1.5-1 1.5 .8" fill="none" stroke="#ff0000" stroke-width="2.8" stroke-linejoin="round"/>
<path d="M105 1005.2l1.5-1.9 1.5-.2 1.5 .3 1.5 1.4 1.5-.3 1.5 .4 1.5-.8 1.5-.7 1.5 .1 1.5 .4 1.5-1.5 1.5 1.8 1.5 .3 1.5-.1 1.5-.8 1.5 .8 1.5 .1 1.5 1.2 1.5-.9 1.5-.6 1.5 1.5 1.5-2.1 1.5-.5 1.5 .3 1.5-2 1.5 1.9 1.5 2 1.5-1.2 1.5 .4 1.5 1.2 1.5-1.9 1.5 1.6 1.5-2.1 1.5 1.3 1.5-.7 1.5 .5 1.5-.4 1.5 .4 1.5 0 1.5 .9 1.5-1.7 1.5-.1 1.5 .5 1.5 2.4 1.5 .1 1.5-.5 1.5-.1 1.5-.1 1.5 .5 1.5-.8 1.5-.7 1.5 1.2 1.5 .5 1.5-1 1.5 1.7 1.5-.8 1.5-.7 1.5 .1 1.5 0 1.5-.5 1.5 1.5 1.5-4.9 1.5 2.7 1.5 .3 1.5-1.1 1.5 1 1.5 .8 1.5 1.7 1.5 1.1 1.5-.7 1.5-.1 1.5 1.1 1.5-.4 1.5-.8 1.5-.2 1.5 .1 1.5-1.8 1.5-.6 1.5 2.5 1.5-1.1 1.5 1.5 1.5 .6 1.5 0 1.5 .8 .8-.7 .3-.3 .4-.3 .3-.2 .4-.2 .4-.2 .3-.2 .1-.1 .2 0 .4 0 .3 0 .4 0 .2 0 .2-.2 .3-.4 .3-.5 .4-.8 .3-1 .1-.1 .3-1.9 .3-4.4 .4-9.7 .3-17.9 .1-3.2 .3-22.1 .3-28.2 .4-18 .3-9.9 .2-2.5 .2-1.9 .4-1.5 .3-.3 .3 .2 .3 .2 .1 0 .3 0 .4 .1 .3 0 .4 .1 .3 .1 .4 .2 .4 .1 .3 .2 .1 0 .2-.2 .4-.4 .3-.3 .4-.3 .2-.2 1.5 2.1 1.5-2 1.5-.4 1.5-1.1 1.5 1.6 1.5-1.2 1.5-.1 1.5 .2 1.5 .4 1.5 .2 1.5-.9 1.5-.7 1.5 1.5 1.5-.4 1.5 1.7 1.5-.6 1.5-.8 1.5-.4 1.5 1.5 1.4-1.7 .1-.1 .3 .1 .3 .2 .4 .2 .3 .2 .2 .1 .2-.3 .3-.5 .4-.5 .3-.5 .3-.4 .1 0 .3-.2 .4-.1 .3-.2 .4-.1 .3 .1 .4 .1 .3 .1 .1 0 .3 .1 .1 0 .2 0 .1 0 .3 .1 .3 0 .1 0 .3 0 .2 .1 .1 0 .4 4.7 0 .9 .3 12.4 .1 1.3 .3 15.8 0 1.6 .3 16.2 0 1.1 .1 1.6 .3 16.5 0 1.5 .3 14.6 .1 1.3 .3 10.9 0 .8 .3 2 .1-.1 0-.1 .3 .6 0 .1 .3 .5 0 .1 .1 0 .3 .6 0 .1 .3 .5 .1 .1 .1 .2 .2 0 .3 0 .1 0 0-.1 .3 0 .3 0 .1-.1 .2 0 .1 0 0-.1 .3-.3 .1 0 .3-2.7 0-.8 .3-11.6 .1-1.3 .3-15.3 0-1.6 .4-17.2 0-1.6 .3-17.4 0-1.6 .4-15.7 0-1.4 .3-12.4 0-.9 .1-2.1 .2-2.1 .1 0 .3 .5 .3 .4 .1 .1 .3 .4 .2 .3 .1 .1 .1 0 .3 .4 .4 .3 .3 .4 .3 .3 .1-.1 .3-.1 .4-.1 .3-.2 .4-.1 .3 .2 .4 .2 .3 .3 .4 .2 .1 .1 .2 .1 .4 .3 .3 .2 .4 .3 .2 .1 .1 0 1.4-.3 1.5-.6 1.5 .3 1.5-1.9 1.5 .4 1.5-.7 1.5 .2 1.5 0 1.5 1.5 1.5-1 1.5 0 1.5-.3 1.5-.7 1.5 1.5 1.5-2 1.5 2.1 1.5-.5 1.5-.9 1.5-.7 1.5 .8 1.5 1.5 1.5-1.2 1.5 1.5 1.5-.5 1.5 .1 1.5-.6 1.5-1.4 1.5 .9 1.5 1.1 1.5-1.3 1.5 1.3 1.5-.9 1.5-.3 1.5 1.5 1.5-1.2 1.5 .4 1.5-.5 1.5 .5 1.5 1.1 1.5-3 1.5 2.5 1.5-.9 1.5-.4 1.5 .3 1.5-2.3 1.5-.8 1.5 .4 1.5 2.9 1.5-1.8 1.5 1.1 1.5 .2 1.5-.6 1.5 .9 1.5-.2 1.5-.2 1.5-.9 1.5 .1 1.5 .4 1.5-.4 1.5-1.1 1.5 1 1.5 .2 1.5 0 1.5-.1 1.5-1.9 1.5 3.6 1.5 1 1.5-1.6 1.5-.1 1.5 1.3 1.5-.7 1.5-.3 1.5-.1 1.5-.5 1.5-1.9 1.5 3.1 1.5 .4 1.5-1.1 1.5-.2 1.5 1 1.5 3.5 1.5 1.1 1.5-.9 1.5 .9 1.5-.3 1.5-.3 1.5-.8 1.5-.2 1.5 .6 1.5-.3 1.5 .4 1.5 1.1 1.5-.5 1.5-1 1.5 1 1.5-1.3 1.5-.3 1.5 .6 1.5-.2 1.5-.4 1.5-1.3 1.5 2.3 1.5-3.1 1.5 0 1.5 1.9 1.5 1 1.5-1 .1-.1 .3-.3 .4-.4 .3-.3 .4-.4 .4 .6 .3 .5 .4 .5 .3 .6 .1 .1 .2-.3 .4-.3 .3-.3 .4 0 .2 .2 .1 .7 .4 2.1 .4 3.4 .3 5.3 .3 6.7 .1 1.3 .3 11.4 .4 15.4 .3 18 .3 14.1 .1 2.4 .3 12.7 .3 11.2 .4 7.4 .4 4.5 .1 1.3 .2 1.6 .4 1.8 .3 1.1 .4 .8 .2 .4 .1 .1 .3 .4 .4 .3 .3 .3 .4 .3 .4-.2 .3-.1 .4-.2 .3-.2 .1 0 .2 .2 1.3 .9 1.5-1.9 1.5 .9 1.5-1.4 1.5-.6 1.5 .8 1.5-.2 1.5-.5 1.5 1.4 1.5-1.6 1.5-.5 1.5 1.8 1.5-1.7 1.5 .3 1.5 1.1 1.5 1.3 1.5-2.3 1.5 .8 1.5-1.1 1.5 .3 1.5 3.4 1.5-1.2 1.5 .2 1.5 .9 1.5-1.9 1.5-.1 1.5 1.1 1.5-1 1.5-1.1 1.5 1.8 1.5 .8 1.5-.3 1.5-1.3 1.5-.2 1.5 .5 1.5-.2 1.5-1 1.5 .6 1.5 .1 1.5-.6 1.5-.4 1.5-.8 1.5 2.3 1.5-.7 1.5 1.6 1.5-.1 1.5 .1 1.5 .4 1.5 .1 1.5 .1 1.5 0 1.5 .2 1.5-.5 1.5-2.4 1.5 2 1.5-.1 1.5 .1 1.5-.3 1.5 1.5 1.5-1 1.5 .7 1.5-.8 1.5-.9 1.5 .2 1.5-.4 1.5 1.9 1.5 .1 1.5-.3 1.5-.9 1.5-2 1.5 .3 1.5 .4 1.5 1.3 1.5 .1 1.5-.4 1.5 .5 1.5-.6 1.5-.7 1.5 1.2 1.5-1 1.5 .2 1.5-2.9 1.5 1.6 1.5 2 1.5-.2 1.5-.9 1.5 1.3 1.5-2.1 1.5 1.7 1.5-1.6 1.5 1.7 1.5 .4" fill="none" stroke="#ff0000" stroke-width="2.8" stroke-linejoin="round" stroke-dasharray="2.6 2.2"/>
<rect x="103.5" y="26.4" width="510.0" height="1065.3999999999999" fill="none" stroke="#000" stroke-width="2.7"/>
<line x1="231" y1="1091.8" x2="231" y2="1074.3" stroke="#000" stroke-width="2.6"/>
<line x1="358.5" y1="1091.8" x2="358.5" y2="1074.3" stroke="#000" stroke-width="2.6"/>
<line x1="486" y1="1091.8" x2="486" y2="1074.3" stroke="#000" stroke-width="2.6"/>
<line x1="167.2" y1="1091.8" x2="167.2" y2="1082.8" stroke="#000" stroke-width="2.6"/>
<line x1="294.8" y1="1091.8" x2="294.8" y2="1082.8" stroke="#000" stroke-width="2.6"/>
<line x1="422.2" y1="1091.8" x2="422.2" y2="1082.8" stroke="#000" stroke-width="2.6"/>
<line x1="549.8" y1="1091.8" x2="549.8" y2="1082.8" stroke="#000" stroke-width="2.6"/>
<text x="103.5" y="1133.2" font-size="34" text-anchor="middle" transform="matrix(1 0 0 1.04 0 -45.3)">-0.8</text>
<text x="231" y="1133.2" font-size="34" text-anchor="middle" transform="matrix(1 0 0 1.04 0 -45.3)">-0.4</text>
<text x="358.5" y="1133.2" font-size="34" text-anchor="middle" transform="matrix(1 0 0 1.04 0 -45.3)">0</text>
<text x="486" y="1133.2" font-size="34" text-anchor="middle" transform="matrix(1 0 0 1.04 0 -45.3)">0.4</text>
<text x="613.5" y="1133.2" font-size="34" text-anchor="middle" transform="matrix(1 0 0 1.04 0 -45.3)">0.8</text>
<text x="357.3" y="1190.4" font-size="34" text-anchor="middle" transform="matrix(1 0 0 1.04 0 -47.6)"><tspan font-style="italic">B</tspan> (T)</text>
<text transform="translate(31.5 582.5) rotate(-90) scale(1 1.04)" font-size="34" text-anchor="middle"><tspan font-style="italic">MR</tspan> (%)</text>
<line x1="79.3" y1="898" x2="79.3" y2="1004" stroke="#000" stroke-width="2.6"/>
<line x1="67.5" y1="898" x2="90" y2="898" stroke="#000" stroke-width="2.6"/>
<line x1="67.5" y1="1004" x2="90" y2="1004" stroke="#000" stroke-width="2.6"/>
<text x="15" y="966.2" font-size="34" transform="matrix(1 0 0 1.04 0 -38.6)">5 %</text>
<text x="131.5" y="78.3" font-size="34" transform="matrix(1 0 0 1.04 0 -3.1)">Sample D2</text>
<text x="591.5" y="78.3" font-size="34" text-anchor="end" transform="matrix(1 0 0 1.04 0 -3.1)">2 K</text>
<text x="600.8" y="168" font-size="34" text-anchor="end" transform="matrix(1 0 0 1.04 0 -6.7)"><tspan font-style="italic">V</tspan><tspan font-size="23" dy="7.7">DS</tspan><tspan dy="-7.7"> = 0.51 V</tspan></text>
<text x="601.6" y="367.8" font-size="34" text-anchor="end" transform="matrix(1 0 0 1.04 0 -14.7)">0.48 V</text>
<text x="601.6" y="557.6" font-size="34" text-anchor="end" transform="matrix(1 0 0 1.04 0 -22.3)">0.4 V</text>
<text x="601.6" y="795.6" font-size="34" text-anchor="end" transform="matrix(1 0 0 1.04 0 -31.8)">0.3 V</text>
<text x="601.6" y="984.8" font-size="34" text-anchor="end" transform="matrix(1 0 0 1.04 0 -39.4)">0.2 V</text>
<text x="136" y="174.6" font-size="34" transform="matrix(1 0 0 1.04 0 -7)">-B</text>
<text x="253.5" y="159" font-size="34" transform="matrix(1 0 0 1.04 0 -6.4)">+B</text>
<line x1="185.3" y1="146.3" x2="222" y2="146.3" stroke="#000" stroke-width="2.5"/>
<path d="M218.5 140.1 L242.8 146.3 L218.5 152.5 Z" fill="#000"/>
<line x1="207.6" y1="163.2" x2="235" y2="163.2" stroke="#000" stroke-width="2.6" stroke-dasharray="2.5 2.35"/>
<path d="M206.4 156.9 L181.3 161.8 L206.4 168.9 Z" fill="#000"/>
</g>
<g id="pb">
<rect x="779.8" y="115.7" width="509.5" height="386.6" fill="none" stroke="#000" stroke-width="2.7"/>
<line x1="881.6" y1="502.3" x2="881.6" y2="484.3" stroke="#000" stroke-width="2.6"/>
<line x1="983.5" y1="502.3" x2="983.5" y2="484.3" stroke="#000" stroke-width="2.6"/>
<line x1="1085.5" y1="502.3" x2="1085.5" y2="484.3" stroke="#000" stroke-width="2.6"/>
<line x1="1187.4" y1="502.3" x2="1187.4" y2="484.3" stroke="#000" stroke-width="2.6"/>
<line x1="779.8" y1="189" x2="797.2" y2="189" stroke="#000" stroke-width="2.6"/>
<line x1="779.8" y1="267.4" x2="797.2" y2="267.4" stroke="#000" stroke-width="2.6"/>
<line x1="779.8" y1="345.8" x2="797.2" y2="345.8" stroke="#000" stroke-width="2.6"/>
<line x1="779.8" y1="424.2" x2="797.2" y2="424.2" stroke="#000" stroke-width="2.6"/>
<line x1="779.8" y1="149.8" x2="788.8" y2="149.8" stroke="#000" stroke-width="2.6"/>
<line x1="779.8" y1="228.2" x2="788.8" y2="228.2" stroke="#000" stroke-width="2.6"/>
<line x1="779.8" y1="306.6" x2="788.8" y2="306.6" stroke="#000" stroke-width="2.6"/>
<line x1="779.8" y1="385" x2="788.8" y2="385" stroke="#000" stroke-width="2.6"/>
<line x1="779.8" y1="463.4" x2="788.8" y2="463.4" stroke="#000" stroke-width="2.6"/>
<line x1="917.5" y1="115.7" x2="917.5" y2="126.7" stroke="#000" stroke-width="2.6"/>
<line x1="958.5" y1="115.7" x2="958.5" y2="126.7" stroke="#000" stroke-width="2.6"/>
<line x1="1091" y1="115.7" x2="1091" y2="126.7" stroke="#000" stroke-width="2.6"/>
<line x1="1177.4" y1="115.7" x2="1177.4" y2="126.7" stroke="#000" stroke-width="2.6"/>
<text x="779.6" y="543.6" font-size="34" text-anchor="middle" transform="matrix(1 0 0 1.04 0 -21.7)">0.1</text>
<text x="881.6" y="543.6" font-size="34" text-anchor="middle" transform="matrix(1 0 0 1.04 0 -21.7)">0.2</text>
<text x="983.5" y="543.6" font-size="34" text-anchor="middle" transform="matrix(1 0 0 1.04 0 -21.7)">0.3</text>
<text x="1085.5" y="543.6" font-size="34" text-anchor="middle" transform="matrix(1 0 0 1.04 0 -21.7)">0.4</text>
<text x="1187.4" y="543.6" font-size="34" text-anchor="middle" transform="matrix(1 0 0 1.04 0 -21.7)">0.5</text>
<text x="1289.4" y="543.6" font-size="34" text-anchor="middle" transform="matrix(1 0 0 1.04 0 -21.7)">0.6</text>
<text x="771" y="201.2" font-size="34" text-anchor="end" transform="matrix(1 0 0 1.04 0 -8)">0</text>
<text x="771" y="279.6" font-size="34" text-anchor="end" transform="matrix(1 0 0 1.04 0 -11.2)">-2</text>
<text x="771" y="358" font-size="34" text-anchor="end" transform="matrix(1 0 0 1.04 0 -14.3)">-4</text>
<text x="771" y="436.4" font-size="34" text-anchor="end" transform="matrix(1 0 0 1.04 0 -17.5)">-6</text>
<text x="771" y="514.8" font-size="34" text-anchor="end" transform="matrix(1 0 0 1.04 0 -20.6)">-8</text>
<text x="908.9" y="101.2" font-size="34" text-anchor="middle" transform="matrix(1 0 0 1.04 0 -4)">0.5</text>
<text x="955.6" y="101.2" font-size="34" text-anchor="middle" transform="matrix(1 0 0 1.04 0 -4)">1</text>
<text x="1093" y="101.2" font-size="34" text-anchor="middle" transform="matrix(1 0 0 1.04 0 -4)">5</text>
<text x="1183" y="101.2" font-size="34" text-anchor="middle" transform="matrix(1 0 0 1.04 0 -4)">10</text>
<text x="922.5" y="49" font-size="34" transform="matrix(1 0 0 1.04 0 -2)"><tspan font-style="italic">j</tspan><tspan font-size="23" dy="7.7">DS</tspan><tspan dy="-7.7"> (10</tspan><tspan font-size="22" dy="-22">3</tspan><tspan dy="22"> A/cm</tspan><tspan font-size="22" dy="-22">2</tspan><tspan dy="22">)</tspan></text>
<text x="990" y="595.2" font-size="34" transform="matrix(1 0 0 1.04 0 -23.8)"><tspan font-style="italic">V</tspan><tspan font-size="23" dy="7.7">DS</tspan><tspan dy="-7.7"> (V)</tspan></text>
<text transform="translate(708.8 313.5) rotate(-90) scale(1 1.04)" font-size="34" text-anchor="middle"><tspan font-style="italic">MR</tspan> (%)</text>
<polyline points="881.6,420.6 983.6,388.5 1085.8,253.9 1167.3,191.8 1197.8,184.4" fill="none" stroke="#ff0000" stroke-width="2.6"/>
<circle cx="881.6" cy="420.6" r="9.7" fill="#ff0000"/>
<circle cx="983.6" cy="388.5" r="9.7" fill="#ff0000"/>
<circle cx="1085.8" cy="253.9" r="9.7" fill="#ff0000"/>
<circle cx="1167.3" cy="191.8" r="9.7" fill="#ff0000"/>
<circle cx="1197.8" cy="184.4" r="9.7" fill="#ff0000"/>
<polyline points="881.6,395.2 983.6,398.1 1085.8,372.7 1167.2,359.7 1198.2,352" fill="none" stroke="#0000ff" stroke-width="2.6"/>
<path d="M870 395.2 L881.6 383.6 L893.2 395.2 L881.6 406.8 Z" fill="#fff" stroke="#0000ff" stroke-width="2.6"/>
<path d="M972 398.1 L983.6 386.5 L995.2 398.1 L983.6 409.7 Z" fill="#fff" stroke="#0000ff" stroke-width="2.6"/>
<path d="M1074.2 372.7 L1085.8 361.1 L1097.4 372.7 L1085.8 384.3 Z" fill="#fff" stroke="#0000ff" stroke-width="2.6"/>
<path d="M1155.6 359.7 L1167.2 348.1 L1178.8 359.7 L1167.2 371.3 Z" fill="#fff" stroke="#0000ff" stroke-width="2.6"/>
<path d="M1186.6 352 L1198.2 340.4 L1209.8 352 L1198.2 363.6 Z" fill="#fff" stroke="#0000ff" stroke-width="2.6"/>
<line x1="853" y1="170.8" x2="916.8" y2="170.8" stroke="#ff0000" stroke-width="2.6"/>
<circle cx="884.9" cy="170.8" r="10.4" fill="#ff0000"/>
<line x1="853" y1="208.3" x2="916.8" y2="208.3" stroke="#0000ff" stroke-width="2.6"/>
<path d="M872.5 208.3 L884.9 195.9 L897.3 208.3 L884.9 220.7 Z" fill="#fff" stroke="#0000ff" stroke-width="2.6"/>
<text x="928.5" y="181" font-size="34" transform="matrix(1 0 0 1.04 0 -7.2)">AFM</text>
<text x="930" y="218.7" font-size="34" transform="matrix(1 0 0 1.04 0 -8.7)">Spin valve</text>
</g>
<g id="pd">
<path d="M1467 96.1l1.5 0 1.5 .2 1.5 .3 1.5-.2 1.5 .3 1.5 .2 1.5 .5 1.5 0 1.5-.2 1.5 0 1.5-.6 1.5 .1 1.5 .8 1.5-1.2 1.5 .8 1.5-1.2 1.5 .4 1.5 .3 1.5-.6 1.5 .2 1.5 .9 1.5-.7 1.5 .3 1.5 .7 1.5-1.7 1.5 .4 1.5 .5 1.5-.7 1.5 0 1.5 .7 1.5 .1 1.5 0 1.5-.8 1.5 .6 1.5 .2 1.5 .1 1.5-.1 1.5 .5 1.5-.4 1.5-.5 1.5-.6 1.5 .9 1.5 .1 1.5 .1 1.5-.2 1.5-.6 1.5-.3 1.5 0 1.5-.6 1.5-.2 1.5 .6 1.5 .6 1.5 .7 1.5-.3 1.5-.7 1.5 .3 1.5-.1 1.5 1.2 1.5-.4 1.5-.1 1.5-.5 1.5 .6 1.5-1.7 1.5 .6 1.5-.6 1.5 .9 1.5 .4 1.5 .1 1.5-.3 1.5 .1 1.5-.7 1.5 .6 1.5 .5 1.5-.2 1.5 .2 1.5-.8 1.5 .8 1.5 0 1.5-.8 1.5-.7 1.5 .7 1.5-.4 1.5 1.3 1.5 .2 1.5 .2 1.5 .1 1.5-.3 1.5 .3 1.5 .4 1.5-.3 1.5 .5 .5-.2 .3 0 .4-.1 .3-.1 .4 .1 .3 .1 .4 .1 .4 0 .3-.3 .4-.5 .3-.4 .3-.5 .2-.3 .2-.1 .3-.3 .4-.6 .3-.7 .3-.8 .1-.3 .4-1.5 .3-2 .4-2.3 .3-2.6 .3-2.8 .4-2.5 .3-2.2 .4-1.8 .1-.4 .2-.7 .4-.8 .4-.5 .3-.3 .2-.1 .2-.1 .3-.2 .3-.2 .4-.1 .3-.1 .4 0 .3 0 .4 0 .4 .1 .3 0 .4 0 .3 0 .5 .1 1.5 .4 1.5 .8 1.5-.8 1.5 .3 1.5-.9 1.5 .7 1.5-.5 1.5 1.1 1.5 .1 1.5-.2 1.5 .1 1.5 0 1.5-.6 1.5 .8 1.5-.2 1.5 .3 1.5-.1 1.5 .5 1.5-1 1.5-.6 1.5-.3 1.5 .1 1.5 .1 1.5-.3 1.5 .2 1.5 0 1.5 .4 1.5 1 1.5 0 1.5-.5 1.5 0 1.5 .1 1.5-1.1 1.5 .9 1.5 .1 1.5 .9 1.5-.6 1.5-.1 1.5-.6 1.5-.3 1.5 0 1.5-.5 1.5 .5 1.5-.5 1.5 .9 1.5 0 1.5 .6 1.5 .2 1.5-.4 1.5 .3 1.5-.3 1.5-1.4 1.5 0 1.5 .7 1.5 .2 1.5-.2 1.5 1.2 1.5-.8 1.5 .7 1.5-.6 1.5-.8 1.5-.4 1.5 .1 1.5-.1 1.5 1 1.5-1 1.5 1 1.5 .6 1.5-.7 1.5 .3 1.5 .7 1.5-.1 1.5-.4 1.5-.2 1.5 .8 1.5-1.4 1.5 .1 1.5-.3 1.5 0 1.5-.1 1.5-.1 1.5 .9 1.5 .3 1.5-1.1 1.5 .6 1.5-1 1.5 .1 1.5-.7 1.5 .3 1.5 1.2 1.5-.6 1.5 .9 1.5 .4 1.5-.6 1.5 .1 1.5 .3 1.5-.7 1.5 .1 1.5 .5 1.5-.1 1.5 .4 1.5-.5 1.5 1.3 1.5-.7 1-.3 .3-.1 .2 0 .2-.1 .3-.1 .4-.1 .3 0 .3-.1 .1 0 .3 .3 .4 .2 .3 .2 .4 .2 0 .1 .3-.1 .4-.1 .3-.1 .4-.1 .1 0 .2 0 .3-.1 .1 0 .2 0 .1 0 .3-.1 .1 0 .2 0 .1 0 .3 .2 .1 .1 .2 .1 .1 .1 .3 .2 .1 0 .2 .6 .1 .5 0 .3 .3 3.7 .1 1.3 .2 4.6 .1 1.3 .3 3.6 .1 .6 .2 .1 .1 0 .1 0 .2 0 .1 0 .2 0 .1 0 .3 0 .1 0 .2 0 .1 0 .2 0 .1-.1 .1 0 .2-.1 .1 0 .2-.1 .1 0 .1 0 .2-.1 .1 0 0-.1 .2 0 .1 0 .1 0 .2 0 .1 .1 .2 0 .1 0 .1 0 .2 .1 .1 0 .2 .1 .1 0 .1 0 .2 0 .3 0 .1-.1 .3 0 .3 0 .1 0 .2 0 .1 0 .1 0 .2 0 .1-.7 .3-3.6 0-1.3 .3-4.5 .1-1.4 .3-3.7 0-.3 0-.4 .3-.3 .1 0 .3 .1 .3 .1 .1 0 .3 .1 .1 .1 .2-.1 .1 0 .3-.1 .1 0 .2-.1 .1 0 .3-.1 .2 0 .1 0 .4 0 .3-.1 .4 0 .3 0 .4-.3 .3-.3 .4-.3 .3-.3 .1-.1 .3 .2 .3 .2 .4 .2 .3 .2 .2 .1 .2-.1 .3-.1 1-.4 1.5 .4 1.5 0 1.5 .2 1.5-.9 1.5 1.7 1.5-.9 1.5 .3 1.5-1.3 1.5 .7 1.5-.1 1.5 .9 1.5-1.2 1.5 1.3 1.5-.4 1.5-.2 1.5 1.2 1.5-.9 1.5-.5 .7-.1 .3-.1 .4 0 .1-.1 .2 0 .4-.2 .4-.1 .3-.1 .2-.1 .2 0 .3 0 .3 0 .4 0 .3 .1 .4-.1 .3 0 .4 .1 .4 .4 0 .1 .3 .9 .4 1.5 .3 2.3 .3 3 .2 1.4 .2 1.9 .3 3.3 .4 2.8 .3 2 .3 1 .1 .3 .4 .9 .3 .5 .4 .3 .3 .1 .3 .2 .4 .2 .3 .2 .4 .1 .1 .1 .2-.1 .4 0 .4 0 .3-.1 .2 0 .2 0 .3 0 .3 0 .4 0 .3 0 1.5 .7 1.5-.1 1.5-.6 1.5 .6 1.5 .3 1.5-.3 1.5 .5 1.5 .1 1.5-.5 1.5 1.2 1.5-.3 1.5-.5 1.5 .6 1.5-.5 1.5 0 1.5-.8 1.5 .1 1.5 .9 1.5-.6 1.5-.2 1.5 0 1.5 .6 1.5-.6 1.5 .2 1.5-.7 1.5 .4 1.5-1 1.5-.3 1.5 1.5 1.5 .2 1.5 .1 1.5 .6 1.5-1 1.5-.3 1.5-.3 1.5-.1 1.5 1.5 1.5-.5 1.5 .3 1.5-.1 1.5 .4 1.5-.4 1.5 .6 1.5-.5 1.5 .6 1.5-.3 1.5 .2 1.5-.6 1.5 .4 1.5-.8 1.5 .3 1.5-.4 1.5 0 1.5-.7 1.5 1.1 1.5-1 1.5 .1 1.5-1.1 1.5 1.3 1.5-.6 1.5 .2 1.5 .7 1.5-.7 1.5 .1 1.5 .9 1.5 .1 1.5-.4 1.5-.1 1.5 0 1.5 .1 1.5-1 1.5-.7 1.5 1.8 1.5-.1 1.5-.6 1.5 .9 1.5 .7 1.5 .2 1.5-.8 1.5 .5 1.5-.6 1.5 .6 1.5-.1 1.5-.6 1.5 0 1.5 1.3" fill="none" stroke="#ff0000" stroke-width="2.4" stroke-linejoin="round"/>
<path d="M1467 96.3l1.5 .6 1.5-1 1.5-.1 1.5-1 1.5 .7 1.5 .4 1.5-.2 1.5 .5 1.5-.8 1.5 .5 1.5-.1 1.5 .8 1.5 0 1.5-.4 1.5 .1 1.5-.3 1.5-.6 1.5 .1 1.5 .1 1.5 .2 1.5 1.1 1.5-.3 1.5 0 1.5-.4 1.5-.6 1.5-.4 1.5 1.3 1.5-.9 1.5-.5 1.5-.3 1.5 .7 1.5 .9 1.5-1 1.5 1.2 1.5-.4 1.5 0 1.5-.6 1.5 1 1.5-.4 1.5-1.3 1.5 .2 1.5-.5 1.5 .4 1.5-.2 1.5 .1 1.5 .5 1.5-1.2 1.5 2.4 1.5-.8 1.5-1 1.5 .9 1.5-.8 1.5-.3 1.5 .9 1.5-.3 1.5 .5 1.5 .4 1.5 .2 1.5-.6 1.5 .2 1.5 .2 1.5 .9 1.5 .6 1.5-.7 1.5-.1 1.5 .6 1.5-.2 1.5-1.2 1.5 .7 1.5-.1 1.5-.1 1.5-.5 1.5-.6 1.5 1.1 1.5 .8 1.5-.2 1.5-1.1 1.5 .9 1.5-.2 1.5 0 1.5-.7 1.5 .2 1.5-.2 1.5 .1 1.5-.2 1.5 0 .7-.1 .3-.1 .4-.1 .1 0 .2 .1 .4 .2 .4 .1 .3 .2 .2 .1 .2 .1 .3 .1 .3 .2 .4 .2 .3 .1 .4-.2 .3-.3 .4-.5 .4-.6 0-.1 .3-.7 .4-1.4 .3-2 .3-2.8 .2-1.4 .2-2 .3-3.3 .4-2.9 .3-2.2 .3-1.1 .1-.4 .4-.9 .3-.7 .4-.4 .3-.2 .3-.3 .4-.2 .3-.2 .4-.2 .1-.1 .2 0 .4 0 .4 0 .3 0 .2 0 .2 0 .3 .2 .3 .1 .4 .1 .3 .1 1.5-.8 1.5-.1 1.5 .6 1.5 .2 1.5-.6 1.5 1.2 1.5-.4 1.5-.9 1.5 .1 1.5 .5 1.5-.4 1.5 1.3 1.5-1 1.5 .7 1.5-.4 1.5 .4 1.5-1.4 1.1-.3 .4-.1 .3 .1 .4 .1 .3 .1 .4 0 .1 .1 .2-.1 .4-.1 .3-.2 .4-.1 .2 0 .1 0 .4 .1 .3 .1 .4 .1 .3 .1 0 .1 .4 .3 .3 .3 .4 .2 .3 .3 .1 .1 .3-.2 .3-.2 .4-.2 .3-.2 0-.1 .2-.1 .2 .1 .3 2.7 0 .7 .3 6.2 .1 .9 .3 5.5 0 .5 .3 .7 .1 0 .3 0 .3 0 .1 0 .3 0 .4 0 .3 .1 .4 0 .3 0 .3 .1 .1 0 .1 0 .2 .1 .3 .1 .1 0 .3 .2 .3 .1 .1 0 .2 .1 .1 0 .3 0 .4 .1 .3 0 .1 0 .3 0 .3-.1 .4-.1 .3 0 0-.1 .4 0 0-.1 .1 0 .2 0 .4 0 .3-.1 .4 0 .2 0 .1 0 .1 0 .3-.7 0-.5 .3-5.5 0-.8 .4-6.2 0-.7 .3-2.6 .4 .2 .3 .2 .4 .2 .3 .1 .1 .1 .3-.2 .3-.1 .4-.2 .3-.2 .2-.2 .2 0 .3-.1 .4-.1 .3-.1 .3-.1 .1 0 .3 0 .4 0 .3 0 .4 0 .3 .4 .4 .5 .3 .5 .4 .5 .1 .2 .2-.2 .4-.4 .9-1 1.5-.3 1.5 1.1 1.5-.1 1.5 .1 1.5 .5 1.5 .2 1.5-.5 1.5-.5 1.5-.1 1.5-.4 1.5-.1 1.5 .6 1.5-.8 1.5-.4 1.5 0 1.5-.7 1.5 1.3 1.5-.7 1.5 .2 1.5 .5 1.5-.4 1.5 1.7 1.5-.4 1.5-.4 1.5-.2 1.5 .2 1.5 .5 1.5-.4 1.5 .1 1.5 .1 1.5 .3 1.5-1.3 1.5 .6 1.5 1 1.5 .3 1.5-.5 1.5 0 1.5 0 1.5-.2 1.5 .3 1.5-.8 1.5-.6 1.5-.3 1.5 .9 1.5-.3 1.5 .1 1.5 .2 1.5 .1 1.5 .2 1.5-.9 1.5 .6 1.5 .5 1.5-.5 1.5 .3 1.5-.5 1.5-.4 1.5 .7 1.5-.8 1.5-.6 1.5 .2 1.5 .2 1.5 .2 1.5 0 1.5 1 1.5-1.8 1.5 .5 1.5-.1 1.5 .7 1.5 0 1.5-.2 1.5 .5 1.5 .1 1.5-.3 1.5-.6 1.5-.2 1.5-.2 1.5 .2 1.5-.2 1.5-1.1 1.5 2.6 1.5-.7 1.5-.1 1.5-.2 1.5 .8 1.5-.6 1.5-.3 1.5-.2 1.5 .6 1.5-.8 1.5 .8 1.5 .6 1.5-.8 1.5-.7 1.5-.4 1.5 1.3 1.5-.6 1.5 .8 1.5-.3 1.5 .3 1.5-.8 1.5 .1 1.5 .7 1.5-.5 1-.6 .3-.1 .2-.1 .2 .2 .3 .4 .4 .4 .3 .3 .3 .3 .1 0 .4-.1 .3 0 .4-.1 .3 0 .3 .4 .4 .4 .3 .6 .4 .7 .1 .3 .2 .5 .4 1 .4 1.4 .3 1.8 .2 1.2 .2 1 .3 2.6 .3 2.5 .4 2.3 .3 1.7 0 .2 .4 1.5 .3 1.1 .4 .8 .4 .5 0 .1 .3 .4 .4 .3 .3 .3 .3 .2 .2 .1 .2 0 .3 .1 .4 .1 .3 0 .3 .1 .1-.1 .4-.1 .3-.2 .4-.2 .3-.1 1.5 0 1.5 .1 1.5 1.3 1.5-.4 1.5 .2 1.5-.4 1.5 .1 1.5-.1 1.5-.1 1.5 0 1.5 .1 1.5-.2 1.5-.7 1.5 .4 1.5-.5 1.5 .1 1.5-.3 1.5 1 1.5-.5 1.5 .9 1.5-.7 1.5 .2 1.5 .8 1.5-.6 1.5 .1 1.5 .4 1.5-.3 1.5-.6 1.5-.2 1.5-.4 1.5 .1 1.5 1.4 1.5-.7 1.5-.1 1.5-.1 1.5-.5 1.5 .1 1.5-.3 1.5 1.3 1.5 .1 1.5-.4 1.5 .5 1.5 .4 1.5-1.5 1.5 .3 1.5-.1 1.5 .7 1.5 .3 1.5 .2 1.5-1.2 1.5 1.1 1.5-.3 1.5-.6 1.5 .4 1.5 0 1.5-.9 1.5 .2 1.5 0 1.5 .8 1.5-.2 1.5 0 1.5-.1 1.5-.2 1.5 .7 1.5 .2 1.5-.3 1.5-.2 1.5-.5 1.5-1 1.5-.3 1.5 1.3 1.5 .1 1.5-.2 1.5 .1 1.5 .4 1.5-.5 1.5 1.1 1.5-1.4 1.5-.3 1.5 0 1.5-.1 1.5-.8 1.5 .6 1.5-.2 1.5-.1 1.5 1.2 1.5 .2 1.5 0 1.5 .5 1.5-1.1 1.5 .5" fill="none" stroke="#ff0000" stroke-width="2.4" stroke-linejoin="round" stroke-dasharray="2.6 2.2"/>
<path d="M1467 148l1.5-.3 1.5 1.2 1.5-.5 1.5-.3 1.5 .4 1.5-.1 1.5 .4 1.5-.9 1.5 .2 1.5 .5 1.5-.6 1.5 .6 1.5 .5 1.5-.1 1.5-.8 1.5-.2 1.5 .2 1.5-.5 1.5-.2 1.5 .6 1.5 1.3 1.5-1.5 1.5 .5 1.5-.1 1.5-.3 1.5 .5 1.5 .8 1.5 0 1.5-.2 1.5 .7 1.5-.2 1.5-1 1.5 .1 1.5 .3 1.5-.5 1.5-.8 1.5-.3 1.5 .5 1.5 .2 1.5-1 1.5 1 1.5 .2 1.5 0 1.5 .2 1.5 .4 1.5 .8 1.5-.2 1.5-.9 1.5-.6 1.5-.6 1.5 .2 1.5 .3 1.5-.4 1.5 .2 1.5 .7 1.5-.6 1.5 .5 1.5 .3 1.5-.1 1.5-.9 1.5 0 1.5 .3 1.5 .5 1.5-.1 1.5 .2 1.5 .5 1.5 .2 1.5 0 1.5-.5 1.5 .2 1.5 .4 1.5 .5 1.5-.5 1.5-.7 1.5-.4 1.5-.4 1.5 .2 1.5-.2 1.5 .5 1.5-1.1 1.5 1.4 1.5-.6 1.5-.3 1.5 .1 1.5 1 1.5 .7 1.5 0 1.5-.1 1.5 1 1.5-.7 1.4-.1 .1 0 .2-.1 .4-.1 .4-.1 .3-.2 .2-.1 .2 0 .3-.2 .3-.1 .4-.2 .3-.1 .4 0 .3 0 .4-.2 .4-.2 0-.1 .3-.5 .4-.9 .3-1.2 .3-1.6 .2-.8 .2-1.2 .3-2.5 .4-2.6 .3-2.7 .3-1.7 .1-.7 .4-2.1 .3-1.6 .4-1.2 .3-.9 .3-.5 .4-.4 .3-.2 .4-.1 .1 0 .2-.3 .4-.2 .4-.3 .3-.2 .2-.1 .2 0 .3 0 .3 .1 .4 0 .3 .1 .4 0 1.1 .1 1.5-.4 1.5 .7 1.5-1.3 1.5-.1 1.5 .3 1.5 .3 1.5 .2 1.5-.1 1.5-.6 1.5 .3 1.5-.8 1.5 1.4 1.5-.7 1.5 .6 1.5 1.6 1.5-.7 1.5-1 1.5 0 1.5-.4 1.5-.4 1.5 .9 1.5 .8 1.5-.3 1.5-.2 1.5 .5 1.5-.1 1.5-.4 1.5 .3 1.5-.9 1.5-.3 1.5 .7 1.5 0 1.5 .3 1.5-.5 1.5 1.2 1.5-.5 1.5 .4 1.5-1.1 1.5-.9 1.5 .6 1.5 .1 1.5-.2 1.5 .8 1.5-.6 1.5 .7 1.5-.4 1.5 .1 1.5 0 1.5-.8 1.5 .2 1.5 .4 1.5-.3 1.5-.2 1.5 .3 1.5 .3 1.5-.4 1.5-.1 1.5 .8 1.5 .3 1.5-.3 1.5 1 1.5-.8 1.5 .4 1.5-.7 1.5-.3 1.5 0 1.5 .3 1.5-.6 1.5 .3 1.5-.8 1.5 .4 1.5-.4 1.5 .4 1.5-.2 1.5 .3 1.5-.3 1.5-.1 1.5 .2 1.5 0 1.5 1.4 1.5-.9 1.5 1.4 1.5-.9 1.5 .2 1.5-.8 1.5-.3 1.5 .1 1.5-.2 1.5 .8 1.5-.4 1.5-.9 1.5 .7 1.5 1 1.5-1 1.5 .5 1.5 .9 1.5-1 1.5 .3 1.5-.1 1.5 .5 1.5-1.3 1.5 .7 1.5-.4 1.5 .1 .1 .1 .4 0 .3 .1 .4 0 .3 .1 .4 .1 .3 0 .4 .1 .3 .1 .1 0 .3 .1 .3 .2 .4 .1 .3 .2 .2 .1 .2 0 .3 .1 .4 0 .3 0 .3 .1 .1-.1 .3-.1 .4-.2 .3-.1 .1-.1 .3-.1 .3-.2 .4 3.4 0 .2 .3 6 0 .2 .4 5.6 0 .2 .1 1.2 .2 1 .1 0 .3 .2 .3 .1 .1 0 .3 .1 .2 .1 .1 0 .1 0 .3-.1 0-.1 .3-.1 .1 0 .3-.1 .3-.1 0 .1 .1 0 .3 .1 .3 .2 .1 0 .3 .1 .3 .2 .1 0 .3-.1 0-.1 .3-.1 .1 0 .3-2.4 0-.2 .3-6 .1-.2 .1-2.7 .2-3.4 0-.2 .3-3.4 .1 0 .3 .2 .3 .1 .1 0 .2 .1 .1 0 .4 0 .3 .1 .4 0 .3 0 .3 .1 .1 0 .3 .1 .4 .1 .3 .1 .1 .1 .3-.1 .3-.1 .4-.1 .3-.1 .2 0 .2 0 .3 0 .4-.1 .3 0 .3 0 .1 0 .3 0 .4 0 .7-.1 1.5-.8 1.5 .7 1.5-.2 1.5-.6 1.5 1.1 1.5-.7 1.5 .6 1.5-.7 1.5-.3 1.5 .3 1.5 .3 1.5 0 1.5-.1 1.5-.2 1.5-.8 1.5 .8 1.5 0 1.5-.4 1.5 .5 1.5-.2 .5 .1 .3 0 .4 0 .3 0 .4 .1 .3 .1 .4 0 .4 .1 .3 .1 .4 0 .3 .1 .3 .1 .2 0 .2 0 .3 .1 .4 .3 .3 .4 .3 .6 .1 .3 .4 1.6 .3 2.4 .4 3.1 .3 3.8 .3 3.4 .4 3 .3 2.1 .4 1.4 .1 .2 .2 .8 .4 .7 .4 .4 .3 .3 .2 .2 .2-.1 .3-.1 .3-.2 .4-.2 .3-.1 .4 .3 .3 .2 .4 .3 .4 .2 .3 0 .4 0 .3 0 .5 0 1.5-.1 1.5-.3 1.5 .5 1.5-.1 1.5 .7 1.5-.3 1.5-.1 1.5-.2 1.5-.2 1.5-.5 1.5 1.5 1.5-.1 1.5 .2 1.5-.4 1.5-.3 1.5-.4 1.5-.3 1.5 .8 1.5-.2 1.5 .2 1.5 0 1.5-.5 1.5 1.1 1.5-.8 1.5-.4 1.5 .7 1.5-.5 1.5 .6 1.5-.3 1.5 .5 1.5-.7 1.5-.5 1.5-.3 1.5 .7 1.5 .2 1.5 1.4 1.5-.7 1.5-.7 1.5 1.4 1.5-1.5 1.5 .3 1.5-.6 1.5 .2 1.5 .2 1.5 .7 1.5-.4 1.5 .6 1.5-.3 1.5 .2 1.5-.8 1.5 .9 1.5-1.7 1.5 1.2 1.5-.1 1.5-.2 1.5-.1 1.5 .1 1.5-.6 1.5 .8 1.5 .7 1.5-1 1.5 .2 1.5 .1 1.5 .1 1.5-.3 1.5 .6 1.5 .1 1.5 0 1.5-.5 1.5-.4 1.5 .3 1.5 1 1.5-.5 1.5-1.4 1.5 .3 1.5 .3 1.5-.7 1.5 1 1.5 .3 1.5-.4 1.5 .4 1.5-.1 1.5 0 1.5-.1 1.5-.1 1.5 1.3" fill="none" stroke="#ff3535" stroke-width="2.4" stroke-linejoin="round"/>
<path d="M1467 147.8l1.5-.2 1.5-.1 1.5 .7 1.5-.5 1.5 .3 1.5 .9 1.5-1 1.5-.3 1.5 .2 1.5 1 1.5-1.2 1.5 .6 1.5 .8 1.5-.8 1.5 .2 1.5-.5 1.5 .1 1.5 1 1.5-1.4 1.5 .9 1.5 .4 1.5 0 1.5-.5 1.5 0 1.5 .4 1.5-.8 1.5-.5 1.5 1 1.5-.9 1.5 1.1 1.5 .1 1.5-1.3 1.5 .6 1.5 0 1.5-1 1.5 .6 1.5 .4 1.5-.4 1.5-.8 1.5 1 1.5-.6 1.5-.8 1.5 1.7 1.5-.5 1.5 .4 1.5-.2 1.5 1.3 1.5-.4 1.5 .3 1.5-1.2 1.5 1 1.5-.7 1.5-.8 1.5-.1 1.5-.3 1.5 .2 1.5 1.3 1.5 .2 1.5 0 1.5-.1 1.5-.5 1.5 0 1.5 0 1.5-.3 1.5 .5 1.5 .1 1.5-1.5 1.5 2.1 1.5-.9 1.5-.8 1.5 .4 1.5 .3 1.5-.4 1.5 .8 1.5 0 1.5-.1 1.5-.9 1.5 1.4 1.5-.3 1.5-.9 1.5 .7 1.5 1.2 1.5-.5 1.5-1.2 1.5 .9 1.5-.2 .3-.2 .4-.2 .3-.2 .4-.1 .1-.1 .2 .1 .4 .2 .4 .2 .3 .2 .2 .1 .2 0 .3 .1 .3 .1 .4 0 .3 0 0-.1 .4-.4 .3-.7 .4-1 .4-1.7 0-.3 .3-2.1 .4-3.2 .3-3.8 .3-3.8 .2-1.5 .2-1.5 .3-2 .4-1.3 .3-.7 .3-.3 .1-.2 .4-.3 .3-.2 .4-.1 .3-.1 .3-.1 .4-.1 .3-.1 .4-.1 .1 0 .2-.1 .4-.2 .4-.2 .3-.1 .2-.1 .2 .1 .3 .1 1 .6 1.5 0 1.5 .2 1.5 .2 1.5-.3 1.5-.7 1.5-.1 1.5-.4 1.5 .4 1.5 .4 1.5 .6 1.5 0 1.5 .8 1.5-1.4 1.5 .3 1.5-.4 1.5 0 1.5 0 1.5 0 1.5 1.3 1.5-.5 1.2-.3 .3 0 .4 .1 .3 .2 .4 .1 .4 .2 .3-.2 .4-.1 .3-.2 .3-.2 .2-.1 .2 .1 .3 .2 .4 .2 .3 .2 .3 .2 .1 0 .4-.1 .3 0 .4-.1 .3-.1 .3 .1 .4 .1 .3 .1 .4 .1 .1 .9 .2 3.2 .4 5.8 .4 5.1 .3 1.2 .2-.1 .2 0 .3 .1 .3 .2 .4 .1 .3 .1 .4 0 .3-.1 .4 0 .4 0 .3-.2 .4-.2 .3-.2 .3-1.6 .2-2.1 .2-3.3 .3-6.1 .4-4.3 .3-.1 .3 0 .1 0 .4 0 .3 0 .4 0 .3 0 .3 0 .4 0 .3 .1 .4 0 .1 0 .2-.1 .4-.2 .4-.1 .3-.2 .2-.1 .2 .1 .3 .2 .3 .2 .4 .1 .3 .2 .4 0 .3 0 .4 0 .4 .1 1.5-.2 1.5 .5 1.5-.2 1.5 1 1.5 0 1.5 .5 1.5 .4 1.5-.7 1.5-.3 1.5-.4 1.5-.3 1.5-.6 1.5 0 1.5 1.8 1.5 .1 1.5-.1 1.5 .6 1.5-1.2 1.5 .7 1.5 .2 1.5-1 1.5-.7 1.5-.2 1.5 .6 1.5 0 1.5 .1 1.5 .5 1.5 .3 1.5-1.2 1.5 .7 1.5-.5 1.5 .4 1.5-.9 1.5 2.3 1.5-.4 1.5-.5 1.5 0 1.5 .7 1.5-.2 1.5-.2 1.5-.1 1.5-.3 1.5-.9 1.5 .9 1.5-.9 1.5 1 1.5-1.2 1.5 .7 1.5-.4 1.5-.3 1.5 1.3 1.5 0 1.5-.3 1.5-.7 1.5-.5 1.5-.8 1.5 1.1 1.5 .2 1.5 .5 1.5 .6 1.5 .1 1.5-1 1.5 0 1.5 .5 1.5-1.4 1.5 .4 1.5 .2 1.5 .5 1.5 .1 1.5 .1 1.5-.8 1.5-.4 1.5 .5 1.5-.7 1.5-.3 1.5 .2 1.5 .9 1.5-1.4 1.5 1.3 1.5 0 1.5 .2 1.5-.5 1.5 .4 1.5 1 1.5-.9 1.5 1 1.5-.8 1.5-.1 1.5 .3 1.5 .2 1.5-.4 1.5-.3 1.5 0 1.5 .9 1.5-1.2 1.5 .4 1.5-1 1.5 1.2 1.5 0 1.5 .1 1.5 .5 1.5-.4 1.5-.8 1.5 .4 1 .4 .3 .2 .2 .1 .2-.1 .3-.1 .4-.1 .3-.1 .3-.1 .1 0 .4 .2 .3 .1 .4 .2 .3 .2 .3-.2 .4-.1 .3 0 .4 .1 .1 .1 .2 .3 .4 .9 .4 1.5 .3 2.3 .2 1.6 .2 1.5 .3 3.9 .3 3.8 .4 3.3 .3 2.1 0 .3 .4 1.4 .3 .8 .4 .5 .4 .2 .3 .1 .4 0 .3 0 .3 0 .2 0 .2 0 .3 0 .4 0 .3 .1 .3 0 .1 0 .4 .2 .3 .1 .4 .2 .3 .1 1.5 1.1 1.5-.9 1.5-.5 1.5 .2 1.5 .8 1.5-.3 1.5-.6 1.5 1.2 1.5-.8 1.5 .3 1.5-.8 1.5 .3 1.5 .4 1.5 .1 1.5-.7 1.5 1.5 1.5-1 1.5 .6 1.5 .3 1.5 .9 1.5-1.6 1.5-.1 1.5-.1 1.5-1.1 1.5 .9 1.5-.1 1.5-.2 1.5 .6 1.5 .1 1.5-.4 1.5 .5 1.5-.2 1.5-.2 1.5-.1 1.5 .7 1.5 1 1.5-.4 1.5 .1 1.5 .4 1.5-.5 1.5-.7 1.5 1.4 1.5-.7 1.5-.9 1.5 .4 1.5 .5 1.5-1.1 1.5 .8 1.5 .5 1.5-.7 1.5 .1 1.5 .3 1.5-1.1 1.5-.3 1.5 .3 1.5 .1 1.5-1.4 1.5 1.4 1.5 .5 1.5 .9 1.5-.4 1.5 .4 1.5-.7 1.5-.1 1.5-.9 1.5 .3 1.5-.5 1.5 .7 1.5 .8 1.5-.6 1.5 .2 1.5 .2 1.5-.5 1.5 .3 1.5-.5 1.5 1 1.5-1 1.5-.1 1.5 .3 1.5-.1 1.5-.5 1.5 1.2 1.5-.5 1.5-.1 1.5-.1 1.5 .2 1.5 .6 1.5-.5 1.5 .2 1.5-.1 1.5-.3" fill="none" stroke="#ff3535" stroke-width="2.4" stroke-linejoin="round" stroke-dasharray="2.6 2.2"/>
<path d="M1467 193l1.5-.7 1.5 .1 1.5-.3 1.5 .7 1.5-.6 1.5 0 1.5-.2 1.5-.1 1.5 .2 1.5 .3 1.5-.6 1.5 .9 1.5-.2 1.5 .6 1.5-.7 1.5 0 1.5 .5 1.5-.4 1.5 0 1.5 .3 1.5 .1 1.5-.1 1.5 0 1.5 .1 1.5-1 1.5 1.7 1.5-.8 1.5 .1 1.5 .2 1.5-.9 1.5 1.2 1.5 .1 1.5-.6 1.5 .4 1.5 .2 1.5-.2 1.5-.3 1.5-.1 1.5 .1 1.5-.2 1.5 .5 1.5-.9 1.5 1 1.5-.7 1.5-.6 1.5-.1 1.5-.3 1.5 .6 1.5-.2 1.5 .7 1.5 .5 1.5-.5 1.5-.3 1.5 .1 1.5 .4 1.5-.3 1.5-.5 1.5 .4 1.5-.3 1.5-.1 1.5-.5 1.5 .2 1.5 .4 1.5-.1 1.5 0 1.5 .3 1.5 0 1.5 0 1.5-.3 1.5 .3 1.5 .9 1.5-.7 1.5 .1 1.5 .7 1.5-1.1 1.5 .7 1.5-.3 1.5-.7 1.5 .2 1.5 .3 1.5-1.1 1.5 1.2 1.5-.2 1.5 .1 1.5 0 1.5 0 1.5 0 1.5 0 1.5 .9 1.5 .5 1.5-.8 .3 .2 .4 .2 .3 .2 .3 .3 .2 .1 .2-.1 .3-.1 .4-.1 .3-.1 .3-.1 .1 0 .4 .1 .3 .1 .4 0 .3 0 .3-.6 .4-.7 .3-.9 .4-1.1 .1-.4 .2-1.1 .4-1.8 .4-2.1 .3-2.3 .2-1.4 .2-.8 .3-1.9 .3-1.5 .4-1.2 .3-.8 0-.1 .4-.8 .3-.5 .4-.3 .4-.3 0-.1 .3-.1 .4-.2 .3-.1 .3-.1 .2 0 .2 0 .3 .1 .4 .1 .3 .2 .3 0 .1 0 .4-.2 .3-.2 .7-.5 1.5 .6 1.5 .1 1.5 .8 1.5-.1 1.5 .3 1.5 .4 1.5 0 1.5 1 1.5-1.9 1.5 .2 1.5-.6 1.5 .4 1.5-.1 1.5-.6 1.5 .1 1.5 .5 1.5-1.1 1.5 1.1 1.5 0 1.5 .1 1.5 .2 1.5 .3 1.5-.5 1.5 .1 1.5 .1 1.5-.2 1.5 .4 1.5 .2 1.5-.6 1.5-.4 1.5 .2 1.5 .2 1.5-.5 1.5 .5 1.5 .1 1.5 .5 1.5-.4 1.5-.6 1.5 .6 1.5 .5 1.5-.5 1.5 .6 1.5 .5 1.5-.6 1.5 .3 1.5-.6 1.5-.2 1.5 .3 1.5-.5 1.5 .8 1.5 0 1.5-.3 1.5-.9 1.5 0 1.5 0 1.5-.1 1.5 .5 1.5 .5 1.5-.1 1.5-.2 1.5-1.1 1.5 .8 1.5-.3 1.5 .1 1.5 .2 1.5 0 1.5 0 1.5 .4 1.5-.4 1.5 .4 1.5-.2 1.5 .5 1.5-.2 1.5 .3 1.5-.6 1.5 0 1.5-.3 1.5-.5 1.5 .4 1.5-1 1.5 .4 1.5 .7 1.5-.2 1.5 .4 1.5-.5 1.5 .2 1.5-.1 1.5 .9 1.5-.9 1.5 0 1.5 0 1.5 .8 1.5-1.1 1.5 .6 1.5 .5 1.5 .1 1.5-.5 1.5 .3 1.5-.3 1.5 .1 1.5 .3 1.5 .7 1.5-.7 1.5-.1 .8 .1 .4 0 .3 0 .4 0 .3 0 .3 0 .1 0 .2 0 .1 0 .1 0 .2-.1 .1 0 .2-.1 .1 0 .3-.1 .1 0 .2-.1 .1 0 .2-.1 .1 0 .1 0 .2 0 .1 0 .2 0 .1 0 .1 0 .2-.1 .1 0 .2 0 .1 0 .1 0 .2 .1 .1 0 .2 .1 .1 0 .1 0 .2 .1 .1 0 .2 0 .1 .1 .1 0 .2 0 .1 0 .2 0 .1 0 .1 .6 .2 3.2 0 1.3 .1 1.4 .2 4.2 .1 1.3 .1 1.3 .1 1.9 .1 .8 .1 .2 .2-.1 .1-.1 .1 0 .2-.1 .1-.2 .2-2.9 .1-1.3 .1-1.3 .2-4.3 0-.5 0-.9 .1-1.3 .2-3.1 .1-.7 .1 .1 .2 0 .1 .1 .2 0 .1 0 .1 .1 .2 0 .1 .1 .2 0 .1 0 .1 0 .2 0 .1 0 .2 0 .1-.1 .1 0 .2 0 .1 0 .1 0 .1 0 .1 0 .1 0 .2 0 0-.1 .1 0 .2 0 .1 0 .1 0 .2-.1 .1 0 .2 0 .1 0 .3 .2 .3 .2 .1 0 .3 .1 .1 .1 .2 .1 .1 0 .3 .1 .3 .1 .4 .1 .3 0 .2 .1 .2 0 1.3-.1 1.5-.5 1.5-.3 1.5 .6 1.5-.4 1.5 0 1.5 .1 1.5-.1 1.5 .1 1.5 .1 1.5-.5 1.5 .3 1.5 .2 1.5 .3 1.5-.2 1.5 .8 1.5-.1 1.5-.3 1.5 .4 1.5-.1 1.5-.6 1.5 .4 1.5-.2 1.4-.4 .1-.1 .2 .1 .4 .1 .4 0 .3 .1 .2 0 .2 0 .3 0 .3 0 .4-.1 .3 0 .4 .1 .3 0 .4 .1 .4 .2 .3 .2 .4 .5 .3 .7 .3 1.1 .2 .7 .2 1 .3 2.4 .4 2.8 .3 2.7 .3 1.8 .1 .5 .4 1.7 .3 1 .4 .7 .3 .3 .3 .3 .4 .2 .3 .1 .4 0 .1 .1 .2-.1 .4-.1 .4-.1 .3-.1 .2-.1 .2 0 .3-.1 .3-.1 .4-.1 .3-.1 .4 .2 1.1 .6 1.5 .1 1.5-.2 1.5 .2 1.5 .2 1.5-.8 1.5 .1 1.5-.4 1.5 .4 1.5 0 1.5-.2 1.5 .1 1.5-.2 1.5 1.4 1.5-.3 1.5-.5 1.5-.2 1.5-.9 1.5 .1 1.5 1 1.5 0 1.5 .1 1.5 .4 1.5 .1 1.5-.9 1.5 .3 1.5 .1 1.5-.9 1.5 .9 1.5-.2 1.5 .8 1.5-.4 1.5-.2 1.5 .2 1.5-.1 1.5-.2 1.5-.4 1.5-.1 1.5 .4 1.5-.1 1.5 .5 1.5-.5 1.5-.2 1.5 0 1.5 .6 1.5-.2 1.5 .6 1.5-.4 1.5-.1 1.5 0 1.5 .3 1.5-.3 1.5-.2 1.5 .2 1.5-.9 1.5 .5 1.5 .6 1.5-.7 1.5 .6 1.5 .6 1.5-1.3 1.5 1.1 1.5-.5 1.5 0 1.5 .3 1.5-.7 1.5 .5 1.5-.7 1.5-.3 1.5 0 1.5 .3 1.5-.6 1.5 .5 1.5 .5 1.5 .4 1.5-.2 1.5-.3 1.5 .1 1.5 0 1.5-.3 1.5 .2 1.5-.2 1.5 .8 1.5-1.1 1.5 .3 1.5 .1 1.5 .3" fill="none" stroke="#ff7272" stroke-width="2.4" stroke-linejoin="round"/>
<path d="M1467 192.9l1.5-.1 1.5-.7 1.5-.1 1.5 .7 1.5-.9 1.5 .8 1.5 .2 1.5 .5 1.5-.2 1.5 .5 1.5-.7 1.5 .5 1.5-.4 1.5 .4 1.5-.5 1.5-.8 1.5 .2 1.5 0 1.5 .1 1.5 .4 1.5 .1 1.5 .2 1.5-.7 1.5 .1 1.5 .1 1.5-.5 1.5 .3 1.5-.4 1.5-.3 1.5 .6 1.5-.6 1.5-.8 1.5 2.1 1.5-1 1.5 0 1.5 .6 1.5 .7 1.5-.4 1.5-.3 1.5 0 1.5 .6 1.5-.2 1.5 0 1.5-.9 1.5 .7 1.5-.2 1.5-1.3 1.5 1.2 1.5-.2 1.5 .8 1.5-1.1 1.5 .6 1.5-.1 1.5-.9 1.5-.4 1.5 1.1 1.5-.7 1.5 .6 1.5-.4 1.5-.8 1.5 .4 1.5 .9 1.5 .3 1.5-.2 1.5 .8 1.5-.5 1.5-.5 1.5 .4 1.5 .1 1.5 .2 1.5-.1 1.5-.5 1.5 .5 1.5-.4 1.5 .1 1.5-.4 1.5 .2 1.5-.5 1.5 .7 1.5-.2 1.5 .3 1.5 0 1.5-.2 1.5 .9 1.5-.6 1.5-.7 .3 .1 .4 .1 .3 .1 .4 .1 .1 0 .2 .1 .4 .2 .4 .1 .3 .1 .2 .1 .2 0 .3 0 .3 0 .4 0 .3-.1 .4-.4 .3-.5 .4-.8 .4-1.2 0-.2 .3-1.5 .4-2.3 .3-2.7 .3-2.7 .2-1 .2-1.3 .3-1.7 .4-1.1 .3-.7 .3-.3 .1-.2 .4-.5 .3-.5 .4-.3 .3-.4 .3-.1 .4-.2 .3-.1 .4-.2 .1 0 .2 .2 .4 .3 .4 .3 .3 .3 .2 .2 .2 0 .3 .1 1 .1 1.5-.7 1.5 .8 1.5 0 1.5-.5 1.5 .6 1.5-.6 1.5 .5 1.5 .4 1.5 .1 1.5 .2 1.5 .4 1.5-.3 1.5-.8 1.5 1 1.5-1.2 1.5-.1 1.5 .4 1.5-.3 1.5 0 1.5 .1 1.5-.4 1.5-.9 1.5 .7 1.5 1.3 .3 0 .4-.1 .3-.1 .4 0 .1 0 .2 0 .4 .2 .4 .1 .3 .1 .2 0 .2 0 .1 0 .2 .1 .2 0 .1 0 .2 0 .2 0 .2 0 .1 0 .2 0 .2 0 .2 0 .2 0 .2 0 .1 0 .2 0 .2 0 .2 0 .1 0 .2 0 .2 0 .1 0 .2 0 .2 .1 .1 0 .1 0 .1 0 0 .4 .2 1.7 0 .7 .2 2.5 .1 2.7 .1 .9 .2 2.7 .1 2.3 0 .6 .2 1.5 .2 0 0-.1 .2 0 .1 0 .1 0 .1 0 .2 .1 .2 0 .1 0 .2 .1 .2 0 .1 .1 .2 0 .2-.1 .1 0 .1 0 .1 0 .2-.1 .2 0 .1-1.6 .1-.7 .2-2.4 .1-2.8 0-.9 .1-1 .1-1.8 .2-2.6 0-.7 .2-1.8 .1-.5 .1 0 .1 0 .2 0 .2 0 .1 0 .2-.1 .2 .1 .1 0 .2 .1 .2 0 .2 .1 .1 0 .2 .1 .2 0 .1 .1 .1-.1 .2-.1 .2-.1 .1-.1 .2-.1 .2-.1 .2-.2 .1-.1 .2-.1 .2 .1 .1 0 .2 .1 .2 .1 .3 .1 .4 .1 .1 .1 .2 0 .4 0 .4 0 .3 0 .2 0 .2-.1 .3-.1 1-.2 1.5 0 1.5 .1 1.5-.2 1.5 .7 1.5 0 1.5-1.1 1.5 .3 1.5-1.2 1.5 .6 1.5-.2 1.5 .9 1.5 .8 1.5 .1 1.5-.1 1.5 .5 1.5-.6 1.5-.1 1.5-1 1.5 .5 1.5 .5 1.5 .4 1.5-.2 1.5-.6 1.5 .8 1.5 .2 1.5-.7 1.5-.4 1.5 .4 1.5 .2 1.5 .2 1.5 0 1.5 .7 1.5 .1 1.5 .1 1.5-1.1 1.5-.7 1.5-.3 1.5 .3 1.5 .1 1.5 .4 1.5-.4 1.5 .1 1.5-1 1.5 .6 1.5 .1 1.5-.4 1.5-.3 1.5 .4 1.5 0 1.5 .7 1.5-.1 1.5 .4 1.5-.2 1.5-.1 1.5-.5 1.5-.6 1.5-.6 1.5 1.3 1.5-.2 1.5 0 1.5 0 1.5 .9 1.5-.7 1.5 1.3 1.5-.3 1.5 .6 1.5 .1 1.5-.2 1.5-1.3 1.5 .3 1.5 .1 1.5-.2 1.5-.6 1.5 0 1.5-.1 1.5 .2 1.5 .6 1.5-.9 1.5-.3 1.5 .7 1.5-.1 1.5-.3 1.5 .8 1.5-.2 1.5 .6 1.5 .5 1.5 .8 1.5-1 1.5-.1 1.5 0 1.5-.4 1.5 0 1.5-.8 1.5-.3 1.5 .2 1.5 .2 1.5 .4 1.5-.7 1.5 .6 1.5-.5 1.5 .5 1.5-.1 1 .4 .3 .1 .2 .1 .2 0 .3 0 .4 .1 .3 0 .3 0 .1 0 .4 0 .3 0 .4 0 .3 .1 .3 0 .4 .1 .3 .2 .4 .2 .1 .1 .2 .2 .4 .6 .4 1 .3 1.6 .2 1.2 .2 1 .3 2.8 .3 2.7 .4 2.3 .3 1.6 0 .1 .4 1.1 .3 .6 .4 .3 .4 .1 .3 .2 .4 .2 .3 .2 .3 .2 .2 0 .2 0 .3-.1 .4 0 .3-.1 .3-.1 .1 0 .4 0 .3 0 .4 0 .3 0 1.5 1.3 1.5-.7 1.5-.1 1.5 0 1.5-.5 1.5 .3 1.5-.3 1.5 0 1.5 .2 1.5-.3 1.5 .1 1.5 .6 1.5-.6 1.5 1 1.5 .9 1.5-1.4 1.5 .7 1.5-.8 1.5 .1 1.5-.9 1.5 .2 1.5 .7 1.5-.3 1.5-1.1 1.5 .6 1.5 .5 1.5-.5 1.5-.1 1.5 1.2 1.5-.4 1.5-.3 1.5-.5 1.5 1 1.5-.3 1.5-.3 1.5 .1 1.5 1.3 1.5 0 1.5-1.3 1.5 1.4 1.5-.7 1.5-1.4 1.5 .8 1.5 0 1.5-.3 1.5-.3 1.5 .8 1.5 .3 1.5-.8 1.5 .3 1.5 .8 1.5-.3 1.5 .5 1.5-.1 1.5 .5 1.5-1.2 1.5 .2 1.5-1.1 1.5 .3 1.5 .2 1.5 .5 1.5-.5 1.5-.1 1.5 .1 1.5 .7 1.5-.6 1.5-.1 1.5 1.2 1.5-1 1.5 1 1.5-.7 1.5 .8 1.5-.2 1.5 .2 1.5-.8 1.5 .9 1.5-.4 1.5 .6 1.5-1.3 1.5 .5 1.5-1 1.5 .4 1.5-.3 1.5 .2 1.5-.2 1.5 .3 1.5 .1 1.5 .5 1.5-.8 1.5 .7 1.5-.3" fill="none" stroke="#ff7272" stroke-width="2.4" stroke-linejoin="round" stroke-dasharray="2.6 2.2"/>
<path d="M1467 236.7l1.5 .1 1.5-.1 1.5 .3 1.5-.1 1.5-.3 1.5 0 1.5 .1 1.5-.4 1.5-.2 1.5-.2 1.5 .7 1.5 0 1.5-.3 1.5 .1 1.5 .3 1.5 .1 1.5-.4 1.5 .3 1.5-.7 1.5 .3 1.5 0 1.5-.1 1.5 .3 1.5 .1 1.5 0 1.5 .5 1.5-.3 1.5-.4 1.5 .6 1.5-.5 1.5 .2 1.5 .3 1.5-.1 1.5-.2 1.5 0 1.5 .2 1.5-.1 1.5 0 1.5 .1 1.5 .2 1.5 .1 1.5-.1 1.5 .3 1.5-.3 1.5 0 1.5 0 1.5-.2 1.5 0 1.5 0 1.5-.6 1.5 .2 1.5 .4 1.5-.4 1.5 0 1.5 0 1.5 0 1.5-.1 1.5 .5 1.5-.1 1.5-.3 1.5 .4 1.5-.2 1.5-.4 1.5 .4 1.5-.4 1.5 0 1.5-.3 1.5 .3 1.5 .3 1.5 0 1.5 .4 1.5 .4 1.5-.3 1.5 .1 1.5 0 1.5-.8 1.5 .4 1.5-.1 1.5 .1 1.5-.3 1.5-.4 1.5 .2 1.5 0 1.5-.1 1.5 .1 1.5 .3 1.5 0 1.5-.1 1.5 .1 1.5 .5 1.5-1 1 .6 .3 .2 .2 .1 .2 0 .3 0 .4 0 .3 0 .3 0 .1 0 .4 0 .3 0 .4 0 .3 0 .3-.2 .4-.2 .3-.3 .4-.4 .1-.1 .2-.3 .4-.5 .4-.8 .3-1.1 .2-.7 .2-.6 .3-1.4 .3-1.4 .4-1.2 .3-.8 0-.2 .4-.9 .3-.6 .4-.5 .4-.3 0-.1 .3 0 .4-.1 .3 0 .3 0 .2 0 .2 0 .3 0 .4 0 .3 0 .3 0 .1 .1 .4 0 .3 .1 .4 .1 .3 0 1.5 .2 1.5 .3 1.5-.7 1.5 0 1.5 0 1.5-.4 1.5 .2 1.5-.3 1.5 .2 1.5 .3 1.5-.2 1.5 .4 1.5 .2 1.5-.8 1.5 0 1.5 .5 1.5-.2 1.5 .8 1.5-.9 1.5 .7 1.5 .2 1.5-.2 1.5 0 1.5 .4 1.5-.9 1.5 .4 1.5-.2 1.5 .5 1.5-.4 1.5 .2 1.5-.2 1.5-.5 1.5-.2 1.5 .5 1.5-.1 1.5 0 1.5 .2 1.5 .4 1.5 .3 1.5-.8 1.5 .1 1.5 .2 1.5-.4 1.5 0 1.5 .6 1.5-.1 1.5 .1 1.5-.1 1.5 .2 1.5-.5 1.5 .1 1.5 .2 1.5 .2 1.5-.4 1.5-.2 1.5-.2 1.5 .4 1.5 0 1.5-.2 1.5 .1 1.5-.2 1.5 .1 1.5 .7 1.5-.7 1.5 .1 1.5 .2 1.5 .5 1.5 .1 1.5-.1 1.5-.2 1.5 .2 1.5-.1 1.5-.7 1.5 .4 1.5 0 1.5-.2 1.5 .4 1.5 0 1.5 0 1.5-.3 1.5 .2 1.5 0 1.5-.3 1.5 0 1.5 .1 1.5 .1 1.5-.3 1.5 .1 1.5-.5 1.5-.1 1.5 .3 1.5 .2 1.5 .6 1.5-.4 1.5-.4 1.5 .1 1.5 0 1.5 .2 1.5 0 1.5-.1 1.5-.3 1.5 .2 1.5 0 1.5-.1 1.5 .3 1.5 .1 1.5-.1 1.5 .5 1.5-.7 1.5 .1 1.5 0 1.5-.2 1.5 0 1.5 .4 1.5 .4 1.5 .2 1.5-.4 1.5-.1 1.5-.1 1.5 .1 1.5-.2 1.5 .1 1.5-.3 1.5-.4 1.5-.1 1.5 0 1.5 .3 1.5-.4 1.5 0 1.5 .3 1.5-.1 1.5 .5 1.5 .2 1.5-.4 1.5 .3 1.5-.2 1.5 .5 1.5-.6 1.5 .5 1.5 0 .1 0 .4 .1 .3 0 .4 .1 .3 .1 .3 0 .4 0 .3 0 .4 0 .1 0 .2 0 .4 0 .4 0 .3 .1 .2 0 .2 0 .3 .1 .3 .2 .4 .4 .3 .6 0 .1 .4 1 .3 1.3 .4 1.6 .4 1.7 0 .2 .3 1.2 .4 1.1 .3 .8 .3 .5 .2 .2 .2 .1 .3 0 .4 .1 .3 0 .3-.1 .1 0 .4 0 .3 0 .4 0 .3 0 .3 0 .4 0 .3 0 .4 0 .1 0 .2 .1 .4 .1 .9 .4 1.5-.5 1.5 .3 1.5 .2 1.5-.4 1.5-.3 1.5 .4 1.5 .2 1.5-.1 1.5-.4 1.5 .5 1.5-.6 1.5 .3 1.5 .2 1.5 0 1.5-.1 1.5-.1 1.5 .3 1.5 .4 1.5-.4 1.5-.2 1.5-.1 1.5 .2 1.5 .3 1.5-.1 1.5 .1 1.5-.6 1.5 .3 1.5 .3 1.5-.7 1.5-.2 1.5 .1 1.5 0 1.5 .1 1.5 .2 1.5 0 1.5 .2 1.5-.1 1.5-.1 1.5-.1 1.5 .4 1.5-.1 1.5 .3 1.5-.1 1.5 .1 1.5-.2 1.5-.2 1.5 .2 1.5-.3 1.5 .4 1.5 0 1.5-.1 1.5 .3 1.5-.5 1.5 .2 1.5-.1 1.5-.4 1.5 .3 1.5-.1 1.5-.3 1.5-.2 1.5 0 1.5 .6 1.5-.1 1.5 .2 1.5-.6 1.5 .1 1.5-.4 1.5 .1 1.5 0 1.5 .3 1.5-.1 1.5 .2 1.5-.3 1.5 0 1.5 0 1.5 .3 1.5 .3 1.5 .3 1.5 .1 1.5-.3 1.5-.4 1.5 .2 1.5-.2 1.5 .2 1.5 .5 1.5 .3" fill="none" stroke="#ffa4a4" stroke-width="2.4" stroke-linejoin="round"/>
<path d="M1467 236.6l1.5 .3 1.5 .1 1.5 0 1.5 .5 1.5-.5 1.5 .1 1.5-.2 1.5 .4 1.5 0 1.5-.6 1.5 0 1.5 .2 1.5-.3 1.5-.1 1.5 0 1.5-.3 1.5 .1 1.5-.5 1.5 .1 1.5 .3 1.5 0 1.5 .9 1.5-.6 1.5 .5 1.5 0 1.5 0 1.5-.3 1.5 .1 1.5-.2 1.5-.5 1.5-.3 1.5 .7 1.5-.4 1.5 .4 1.5 0 1.5 .2 1.5-.2 1.5 0 1.5-.3 1.5 0 1.5-.1 1.5 .8 1.5-.4 1.5-.3 1.5 0 1.5 .3 1.5 .3 1.5 .1 1.5-.5 1.5 .2 1.5 .2 1.5-.4 1.5 .6 1.5-.1 1.5-.1 1.5 .2 1.5 .1 1.5-.6 1.5-.1 1.5 .7 1.5-.7 1.5 .3 1.5-.4 1.5 .4 1.5-.3 1.5-.5 1.5 .6 1.5-.3 1.5 .1 1.5 .5 1.5-.3 1.5 .2 1.5-.2 1.5 .1 1.5 .4 1.5-.2 1.5-.2 1.5 .7 1.5-.3 1.5-.6 1.5 .4 1.5-.4 1.5-.5 1.5 .4 1.5-.4 1.5 .8 .5-.1 .3-.1 .4-.1 .3 0 .4 0 .3 0 .4 .1 .4 0 .3-.1 .4 0 .3-.1 .3-.1 .2 0 .2 0 .3-.1 .4-.2 .3-.2 .3-.3 .1-.1 .4-.6 .3-1 .4-1.3 .3-1.6 .3-1.7 .4-1.4 .3-1 .4-.6 .1-.2 .2-.3 .4-.3 .4-.3 .3-.1 .2-.1 .2 0 .3-.2 .3-.1 .4-.1 .3-.1 .4 .1 .3 .2 .4 .1 .4 .2 .3-.2 .4-.3 .3-.2 .5-.4 1.5 .5 1.5 .1 1.5-.4 1.5 .1 1.5 .8 1.5-.4 1.5 .4 1.5-.1 1.5 .4 1.5-.9 1.5 .6 1.5-.8 1.5 .5 1.5-.8 1.5-.1 1.5 .7 1.5 .3 1.5-.1 1.5 0 1.5-.2 1.5 .2 1.5 0 1.5-.7 1.5-.1 1.5 .5 1.5-.4 1.5 .1 1.5 .7 1.5-.2 1.5-.3 1.5 .6 1.5 .2 1.5 .1 1.5-.3 1.5 .2 1.5-.1 1.5-.6 1.5-.1 1.5 .9 1.5-.7 1.5 0 1.5-.1 1.5 .3 1.5-.1 1.5 .4 1.5 .1 1.5 .2 1.5-.2 1.5 0 1.5 .8 1.5-.9 1.5-.2 1.5 .6 1.5-.5 1.5-.1 1.5-.6 1.5-.2 1.5 .5 1.5 .5 1.5-.5 1.5 0 1.5-.3 1.5-.3 1.5 .2 1.5 .5 1.5 .2 1.5 .2 1.5 .6 1.5-.8 1.5-.4 1.5-.2 1.5 .1 1.5 .1 1.5-.4 1.5 .5 1.5 .1 1.5 .2 1.5 0 1.5-.2 1.5 0 1.5 .2 1.5-.2 1.5-.3 1.5 .9 1.5-.2 1.5-.4 1.5 .7 1.5 .2 1.5-.4 1.5 .2 1.5-.4 1.5-.6 1.5 .4 1.5-.2 1.5 0 1.5 .1 1.5 0 1.5 .5 1.5 0 1.5-.8 1.5 0 1.5 .1 1.5 .5 1.5-.4 1.5 .6 1.5 .1 1.5-.4 1.5-.2 1.5 .2 1.5-.5 1.5-.6 1.5 .2 1.5 1 1.5-.8 1.5 .4 1.5 .4 1.5-.3 1.5-.4 1.5 .6 1.5-.3 1.5 .4 1.5-.3 1.5 .3 1.5-.2 1.5 .3 1.5-.2 1.5-.3 1.5 .1 1.5-.5 1.5 .4 1.5-.2 1.5 .1 1.5 .6 1.5-.1 1.5-.6 1.5 .3 1.5 .4 1.5-.5 1.5 .4 1.5 0 1-.3 .3-.1 .2 0 .2 0 .3 .2 .4 .1 .3 .1 .3 .1 .1 0 .4-.1 .3 0 .4-.1 .3 0 .3 .1 .4 .1 .3 .1 .4 .2 .1 .1 .2 .3 .4 .5 .4 .8 .3 1.1 .2 .9 .2 .6 .3 1.5 .3 1.5 .4 1.3 .3 .8 0 .1 .4 .7 .3 .4 .4 .2 .4 .1 .3 .2 .4 .2 .3 .1 .3 .2 .2 0 .2 0 .3-.1 .4-.1 .3-.1 .3-.1 .1 0 .4 0 .3 .1 .4 0 .3 0 1.5 0 1.5 .2 1.5-.6 1.5 .1 1.5 .1 1.5 0 1.5 0 1.5 .1 1.5-.1 1.5 .5 1.5 .1 1.5-1.1 1.5 .4 1.5 .2 1.5-.4 1.5 .1 1.5 .2 1.5-.3 1.5 0 1.5 .3 1.5-.3 1.5 .4 1.5-.2 1.5-.2 1.5 .2 1.5 0 1.5-.1 1.5 .3 1.5 .2 1.5-.4 1.5 .5 1.5-.6 1.5 .8 1.5-.2 1.5 .2 1.5-.3 1.5 .4 1.5-.6 1.5 0 1.5 0 1.5 .2 1.5-1 1.5-.1 1.5 .3 1.5 1 1.5-.8 1.5 .8 1.5-.1 1.5 .1 1.5 0 1.5 .2 1.5 0 1.5-.1 1.5-.1 1.5 0 1.5 .3 1.5 .4 1.5-.6 1.5 .7 1.5-.4 1.5-.7 1.5 0 1.5 .2 1.5 .1 1.5 .4 1.5-.2 1.5 .2 1.5 .1 1.5-.9 1.5 .2 1.5-.1 1.5 .2 1.5-.2 1.5-.3 1.5-.2 1.5 .2 1.5 0 1.5 0 1.5 0 1.5 .2 1.5 .3 1.5-.5 1.5 .4 1.5-.2 1.5 .2 1.5 .5 1.5-.6 1.5 .1 1.5-.3 1.5 .1 1.5-.6" fill="none" stroke="#ffa4a4" stroke-width="2.4" stroke-linejoin="round" stroke-dasharray="2.6 2.2"/>
<path d="M1467 295.2l1.5 0 1.5-.2 1.5 .1 1.5 .2 1.5-.3 1.5 0 1.5 .2 1.5-.2 1.5 0 1.5 .2 1.5 0 1.5 .5 1.5-.4 1.5-.1 1.5 .1 1.5 0 1.5-.1 1.5 .2 1.5 .2 1.5 0 1.5-.1 1.5 0 1.5-.1 1.5 .1 1.5-.3 1.5-.3 1.5 .1 1.5 .3 1.5-.1 1.5-.2 1.5 .3 1.5 .1 1.5-.4 1.5 0 1.5 .1 1.5-.2 1.5 0 1.5 .4 1.5-.3 1.5 .1 1.5 .5 1.5-.3 1.5 .2 1.5 .1 1.5-.1 1.5-.2 1.5 .1 1.5-.2 1.5-.1 1.5-.3 1.5 .1 1.5 .4 1.5 .2 1.5-.4 1.5 .1 1.5 .2 1.5-.4 1.5 .2 1.5-.1 1.5-.1 1.5 .1 1.5-.4 1.5 0 1.5 .3 1.5-.1 1.5 .1 1.5 .1 1.5-.1 1.5 .1 1.5 .4 1.5-.1 1.5-.2 1.5 .3 1.5 .1 1.5-.1 1.5-.2 1.5 .2 1.5-.3 1.5-.1 1.5 .1 1.5-.2 1.5 .3 1.5 0 1.5 .1 1.5 .3 1.5-.4 1.5 .1 1.5-.1 1.5 .3 1.5-.1 1.5 .3 1.5-.1 1.5-.1 1.5 .1 1.5-.2 .3 .1 .4 0 .3 .1 .4 0 .1 0 .2-.1 .4-.1 .4-.2 .3-.2 .2-.1 .2-.1 .3-.3 .3-.4 .4-.4 .3-.5 0-.1 .4-.8 .3-.9 .4-1.1 .4-1.2 0-.2 .3-1.1 .4-1.4 .3-1.4 .3-1.5 .2-.6 .2-.8 .3-1.3 .4-1.2 .3-1.1 .3-.6 .1-.2 .4-.7 .3-.6 .4-.4 .3-.4 .3-.2 .4-.1 .3-.1 .4-.1 .1 0 .2-.1 .4-.1 .4 0 .3-.1 .2 0 .2-.1 .3-.1 1-.2 1.5 0 1.5 .5 1.5-.4 1.5 .4 1.5 0 1.5-.2 1.5 .4 1.5-.4 1.5-.2 1.5 .3 1.5 0 1.5 0 1.5 .1 1.5 0 1.5 .1 1.5 0 1.5-.5 1.5 .3 1.5-.1 1.5 0 1.5-.1 1.5 .2 1.5-.2 1.5 .1 1.5 .1 1.5-.2 1.5 .3 1.5-.1 1.5 .1 1.5 0 1.5-.1 1.5-.3 1.5 .3 1.5 0 1.5-.2 1.5-.2 1.5 .3 1.5-.1 1.5 .1 1.5 .2 1.5 0 1.5 .3 1.5-.1 1.5-.3 1.5 0 1.5 .1 1.5-.4 1.5 .1 1.5-.1 1.5 0 1.5 .5 1.5-.3 1.5-.1 1.5 0 1.5-.1 1.5-.1 1.5 .3 1.5 0 1.5 .2 1.5-.2 1.5-.3 1.5 .4 1.5-.5 1.5 0 1.5 .3 1.5-.1 1.5-.2 1.5 0 1.5 .1 1.5 0 1.5-.1 1.5 .2 1.5-.1 1.5 .2 1.5-.2 1.5 .7 1.5-.2 1.5-.2 1.5 .4 1.5-.1 1.5 .1 1.5-.4 1.5 .1 1.5 0 1.5-.3 1.5 .2 1.5 .3 1.5-.2 1.5 0 1.5 .2 1.5-.3 1.5 .1 1.5-.3 1.5 .4 1.5-.1 1.5 0 1.5 0 1.5 0 1.5-.1 1.5 .3 1.5 0 1.5-.1 1.5-.1 1.5 .2 1.5-.2 1.5 .3 1.5 .1 1.5-.5 1.5 0 1.5 .2 1.5-.1 1.5-.3 1.5 0 1.5-.2 1.5 .2 1.5 .1 1.5 0 1.5 0 1.5 .1 1.5 .2 1.5 0 1.5-.4 1.5 .3 1.5-.2 1.5-.1 1.5 .3 1.5-.3 1.5-.1 1.5 0 1.5 .1 1.5-.3 1.5 .5 .3 0 .4 0 .3 0 .4 0 .1 0 .2 0 .4 0 .4 .1 .3 0 .2 .1 .2 0 .3 0 .3 .1 .4 .1 .3 .1 0 .1 .4 .2 .3 .5 .4 .7 .4 1.3 0 .2 .3 1.6 .4 2.5 .3 3 .3 2.9 .2 1.2 .2 1.2 .3 1.7 .4 1.1 .3 .6 .3 .2 .1 .1 .4 .3 .3 .2 .4 .1 .3 .1 .3 0 .4 .1 .3 0 .4 .1 .1 0 .2 0 .4 .1 .4 0 .3 .1 .2 .1 .2-.1 .3 0 1-.2 1.5-.1 1.5 .2 1.5-.1 1.5-.1 1.5 .5 1.5-.2 1.5-.1 1.5-.1 1.5 .1 1.5-.1 1.5 .2 1.5 0 1.5 0 1.5-.3 1.5-.3 1.5 .3 1.5 .2 1.5-.4 1.5 .3 1.5-.2 1.5-.1 1.5 .1 1.5 .1 1.5-.2 1.5 .1 1.5 .2 1.5 .2 1.5-.1 1.5-.3 1.5 .1 1.5 .3 1.5 0 1.5-.4 1.5 .1 1.5 .2 1.5 0 1.5-.2 1.5 .1 1.5 .2 1.5-.3 1.5 .5 1.5 .1 1.5-.3 1.5-.4 1.5 .2 1.5-.4 1.5 .2 1.5 .1 1.5-.1 1.5 .3 1.5 .2 1.5-.2 1.5 .1 1.5-.2 1.5-.2 1.5 .3 1.5-.1 1.5-.2 1.5 .2 1.5-.1 1.5 .3 1.5 0 1.5-.2 1.5 .3 1.5-.5 1.5 .2 1.5 0 1.5 0 1.5 .1 1.5-.1 1.5-.2 1.5 0 1.5 .3 1.5 .1 1.5-.3 1.5 .6 1.5-.5 1.5 .3 1.5-.1 1.5-.3 1.5 0 1.5 .7 1.5-.5 1.5 .1 1.5 0 1.5-.2 1.5-.3 1.5-.2 1.5 .7 1.5-.1" fill="none" stroke="#f2d6d8" stroke-width="2.4" stroke-linejoin="round"/>
<path d="M1467 294.9l1.5 .3 1.5 0 1.5 .4 1.5 .1 1.5 .1 1.5-.4 1.5 .2 1.5-.3 1.5 .5 1.5-.4 1.5 .6 1.5-.6 1.5 .4 1.5-.5 1.5 .2 1.5-.1 1.5-.2 1.5-.1 1.5 .5 1.5-.1 1.5 .3 1.5 .1 1.5-.4 1.5 .1 1.5-.3 1.5 .1 1.5-.6 1.5 .2 1.5 .1 1.5 .3 1.5-.2 1.5 .3 1.5 .3 1.5-.9 1.5 .4 1.5 .2 1.5-.2 1.5 .4 1.5-.5 1.5 .3 1.5-.2 1.5 .4 1.5-.1 1.5-.4 1.5 .1 1.5 0 1.5-.1 1.5-.3 1.5 .8 1.5-.3 1.5 .1 1.5-.3 1.5-.2 1.5-.2 1.5 .6 1.5-.4 1.5 .3 1.5 .2 1.5 0 1.5-.1 1.5 .1 1.5 .5 1.5-.7 1.5 .1 1.5-.8 1.5 .7 1.5-.8 1.5 .4 1.5-.1 1.5 .6 1.5-.2 1.5 .1 1.5 0 1.5 .3 1.5-.7 1.5 .3 1.5 0 1.5-.2 1.5-.2 1.5 .5 1.5 .1 1.5-.2 1.5 .4 1.5-.2 1.5-.1 1.5-.4 1.5 .1 1.5 .3 1.5-.3 1.5 .1 1.5 .3 .5 0 .3 0 .4 0 .3 0 .4-.1 .3-.1 .4-.1 .4-.1 .3-.1 .4 0 .3-.1 .3-.2 .2-.1 .2-.1 .3-.3 .4-.5 .3-.7 .3-.6 .1-.3 .4-1.3 .3-1.6 .4-2 .3-2.1 .3-2.3 .4-2.1 .3-1.7 .4-1.4 .1-.4 .2-.6 .4-.6 .4-.4 .3-.2 .2-.1 .2-.1 .3-.1 .3-.1 .4 0 .3 0 0-.1 .4-.1 .3-.2 .4-.2 .4-.1 .3 .1 .4 .2 .3 .1 .5 .3 1.5 .3 1.5-.1 1.5-.2 1.5 .3 1.5-.3 1.5 .2 1.5-.6 1.5 .1 1.5 .1 1.5 .1 1.5 .1 1.5-.2 1.5 .3 1.5 0 1.5-.3 1.5 .2 1.5 .6 1.5-.4 1.5 .1 1.5-.1 1.5 0 1.5-.3 1.5-.1 1.5 .5 1.5-.6 1.5 0 1.5 .1 1.5-.3 1.5 .2 1.5-.1 1.5 0 1.5 .3 1.5-.6 1.5 .3 1.5 .3 1.5-.4 1.5 .4 1.5-.3 1.5 .3 1.5-.1 1.5-.1 1.5 .2 1.5 .1 1.5 .3 1.5-.1 1.5-.2 1.5-.1 1.5-.1 1.5 .2 1.5 .3 1.5 .1 1.5 .1 1.5-.1 1.5 0 1.5-.3 1.5-.1 1.5 0 1.5-.3 1.5 .3 1.5 .2 1.5-.2 1.5 0 1.5 0 1.5 .5 1.5-.1 1.5-.5 1.5-.2 1.5 .1 1.5 0 1.5-.1 1.5-.1 1.5 0 1.5 .3 1.5-.3 1.5 .2 1.5 .1 1.5 .4 1.5 0 1.5 .1 1.5-.1 1.5-.5 1.5 0 1.5-.5 1.5-.1 1.5 .6 1.5 0 1.5 .1 1.5-.1 1.5-.5 1.5 .3 1.5 0 1.5 0 1.5 .1 1.5 .2 1.5 0 1.5 .5 1.5-.3 1.5 .3 1.5-.2 1.5 .2 1.5-.6 1.5 .3 1.5 0 1.5 .1 1.5-.2 1.5 .1 1.5 .1 1.5-.1 1.5-.3 1.5 0 1.5 .4 1.5-.1 1.5 .2 1.5-.4 1.5-.1 1.5 .2 1.5 0 1.5-.2 1.5 0 1.5 .3 1.5-.3 1.5-.2 1.5-.1 1.5 .5 1.5-.3 1.5 .3 1.5 0 1.5-.1 1.5 .4 1.5-.3 1.5 0 1.5 .1 1.5 0 .3 0 .4 .1 .3 0 .4 .1 .1 0 .2-.1 .4 0 .4 0 .3-.1 .2 0 .2 .1 .3 .1 .3 .1 .4 .2 .3 .3 0 .1 .4 .3 .3 .6 .4 .9 .4 1.2 0 .2 .3 1.5 .4 2.1 .3 2.2 .3 2.2 .2 .9 .2 1.1 .3 1.7 .4 1.2 .3 1 .3 .5 .1 .1 .4 .5 .3 .3 .4 .2 .3 .1 .3 .2 .4 .1 .3 .1 .4 0 .1 0 .2 0 .4 0 .4 0 .3 0 .2 0 .2 .1 .3 0 1 .3 1.5-.1 1.5 .1 1.5 0 1.5 0 1.5-.3 1.5 .4 1.5-.1 1.5-.1 1.5 .2 1.5-.1 1.5-.3 1.5 .6 1.5-.2 1.5-.1 1.5-.5 1.5 .2 1.5 .4 1.5-.2 1.5-.2 1.5 .3 1.5 .1 1.5-.2 1.5-.3 1.5 .1 1.5-.1 1.5-.2 1.5 .2 1.5 .2 1.5 0 1.5 0 1.5 .2 1.5-.1 1.5-.2 1.5-.2 1.5 .2 1.5 0 1.5 .2 1.5 0 1.5-.2 1.5 .1 1.5 .1 1.5-.5 1.5 .1 1.5 .1 1.5 0 1.5 .1 1.5 .4 1.5-.4 1.5 0 1.5 .1 1.5 .2 1.5 0 1.5-.3 1.5 .1 1.5 0 1.5-.2 1.5 .5 1.5-.2 1.5-.2 1.5 .3 1.5-.4 1.5 .1 1.5-.5 1.5 .2 1.5 .3 1.5 .3 1.5 0 1.5 .7 1.5-.4 1.5 0 1.5-.2 1.5 .1 1.5-.3 1.5 .3 1.5-.4 1.5 0 1.5 .1 1.5-.1 1.5 .3 1.5-.4 1.5 0 1.5 .4 1.5-.3 1.5-.1 1.5 0 1.5 0 1.5 .2 1.5-.4 1.5-.2 1.5 .2 1.5 .6 1.5-.1 1.5-.2" fill="none" stroke="#f2d6d8" stroke-width="2.4" stroke-linejoin="round" stroke-dasharray="2.6 2.2"/>
<path d="M1467 347.4l1.5 0 1.5 .3 1.5 .1 1.5-.4 1.5 0 1.5 0 1.5 0 1.5-.4 1.5 .2 1.5-.2 1.5-.1 1.5 .1 1.5 .2 1.5-.1 1.5 .5 1.5-.1 1.5 .3 1.5-.2 1.5 .1 1.5 0 1.5-.2 1.5 .1 1.5-.1 1.5-.1 1.5 .3 1.5-.3 1.5 .2 1.5-.2 1.5-.2 1.5-.2 1.5 .3 1.5-.3 1.5 .2 1.5-.2 1.5 .3 1.5-.4 1.5 0 1.5 .5 1.5-.3 1.5 .1 1.5 .2 1.5 .3 1.5-.1 1.5 0 1.5-.4 1.5 .2 1.5-.4 1.5 0 1.5 .1 1.5 .1 1.5-.1 1.5 .1 1.5 .1 1.5-.2 1.5-.1 1.5 .2 1.5 .1 1.5-.2 1.5 .2 1.5 0 1.5-.1 1.5 .1 1.5 .1 1.5-.4 1.5 0 1.5 .4 1.5-.2 1.5-.1 1.5 .3 1.5-.1 1.5-.3 1.5 .3 1.5 .2 1.5-.2 1.5 .2 1.5-.1 1.5-.1 1.5 0 1.5-.4 1.5 .5 1.5-.1 1.5 .2 1.5 .1 1.5 .2 1.5-.3 1.5-.2 1.5 .1 1.5-.2 1.5 0 1.5-.2 1.5 .1 1.5 0 1.5 .1 1.5 .3 1.5 .1 1.5-.1 1.5-.1 1.5-.3 1.5 0 1.5 .2 1.5-.3 1.5 0 1.5 0 1.5 .1 .5 .1 .3 0 .4 0 .3 .1 .4-.1 .3 0 .4 0 .4-.1 .3 .1 .4 .1 .3 0 .3 0 .2 0 .2-.2 .3-.3 .4-.5 .3-.7 .3-.7 .1-.3 .4-1.2 .3-1.6 .4-2.1 .3-2.4 .3-2.5 .4-2.3 .3-1.8 .4-1.3 .1-.3 .2-.7 .4-.6 .4-.5 .3-.2 .2-.2 .2 0 .3-.1 .3 0 .4 0 .3 0 .4 0 .3-.1 .4 0 .4 0 .3 0 .4 0 .3 0 .5 0 1.5 .1 1.5 .1 1.5 .2 1.5-.2 1.5 .2 1.5-.2 1.5-.2 1.5 .3 1.5-.5 1.5 .3 1.5-.3 1.5 .4 1.5-.4 1.5-.3 1.5 .6 1.5 .1 1.5-.4 1.5 .6 1.5-.2 1.5 .1 1.5-.1 1.5 0 1.5 0 1.5-.1 1.5 0 1.5 .1 1.5-.2 1.5-.2 1.5 .5 1.5-.1 1.5 0 1.5 .4 1.5-.2 1.5-.2 1.5 .4 1.5 .1 1.5-.4 1.5 .1 1.5 0 1.5-.1 1.5 .2 1.5 0 1.5-.5 1.5 .2 1.5 0 1.5 .3 1.5-.2 1.5-.1 1.5-.5 1.5 .3 1.5 .2 1.5 0 1.5 0 1.5 .2 1.5-.2 1.5-.4 1.5-.1 1.5 .3 1.5-.2 1.5 .1 1.5-.1 1.5 0 1.5 .5 1.5-.3 1.5 .1 1.5 0 1.5-.2 1.5 .4 1.5-.4 1.5-.3 1.5 .1 1.5-.2 1.5 .3 1.5 .1 1.5 .1 1.5 .1 1.5 .1 1.5-.3 1.5 .2 1.5-.1 1.5 .2 1.5 .2 1.5-.3 1.5-.1 1.5 .4 1.5-.1 1.5-.3 1.5 0 1.5 .1 1.5-.1 1.5 .2 1.5-.3 1.5 .1 1.5-.1 1.5 .1 1.5 .2 1.5-.2 1.5 .5 1.5 .1 1.5-.3 1.5 .3 1.5-.4 1.5-.2 1.5-.1 1.5-.1 1.5 .6 1.5-.2 1.5 .5 1.5-.3 1.5 0 1.5-.2 1.5 0 .3 0 .4 0 .3 0 .3 0 .2 .1 .2 0 .3 0 .4 0 .3 0 .3 0 .1 0 .4-.1 .3 0 .4 0 .3 0 .3 .2 .4 .2 .3 .4 .4 .8 .1 .3 .2 .9 .4 1.9 .4 2.5 .3 2.9 .2 1.7 .2 1.2 .3 2.5 .3 1.9 .4 1.2 .3 .7 0 .1 .4 .4 .3 .3 .4 .2 .4 .2 .3 0 .4-.1 .3 0 .3 0 .2 0 .2 0 .3 0 .4 0 .3 0 .3 0 .1 0 .4 0 .3 .1 .7 .1 1.5 0 1.5 0 1.5 .2 1.5 0 1.5-.3 1.5-.1 1.5 0 1.5 .1 1.5 0 1.5 0 1.5 .1 1.5 0 1.5 0 1.5 0 1.5-.2 1.5 0 1.5-.1 1.5 .1 1.5-.2 1.5 0 1.5 .1 1.5 .1 1.5 .2 1.5-.1 1.5 .2 1.5 0 1.5-.1 1.5-.2 1.5 0 1.5 .3 1.5-.5 1.5 .2 1.5 .1 1.5 0 1.5 0 1.5-.2 1.5-.4 1.5 .2 1.5-.1 1.5 .5 1.5 .1 1.5 0 1.5 .1 1.5-.1 1.5-.2 1.5-.1 1.5 0 1.5-.3 1.5 .5 1.5-.2 1.5 0 1.5 .1 1.5 .2 1.5 0 1.5-.2 1.5 .1 1.5-.4 1.5 .1 1.5 .4 1.5 0 1.5-.6 1.5 .2 1.5 .2 1.5-.2 1.5-.2 1.5 .5 1.5 .1 1.5-.2 1.5 0 1.5 .2 1.5-.2 1.5-.2 1.5 0 1.5 .1 1.5-.1 1.5 .1 1.5 0 1.5 .1 1.5-.2 1.5 .1 1.5-.3 1.5 .4 1.5-.4 1.5 0 1.5 .3 1.5 0 1.5-.4 1.5 .2 1.5 .2 1.5 .6 1.5-.5 1.5-.2 1.5 .3 1.5-.4 1.5 .1 1.5-.2 1.5 .2 1.5-.4 1.5 .2 1.5 .2 1.5 0" fill="none" stroke="#c6ceff" stroke-width="2.4" stroke-linejoin="round"/>
<path d="M1467 347.5l1.5-.1 1.5 .1 1.5-.2 1.5 .1 1.5 0 1.5-.2 1.5-.1 1.5 0 1.5 .3 1.5-.4 1.5 .5 1.5-.4 1.5 .7 1.5-.4 1.5-.2 1.5 .2 1.5 .1 1.5 0 1.5 .1 1.5 .4 1.5-.6 1.5 0 1.5-.3 1.5 0 1.5 0 1.5 .4 1.5-.1 1.5-.1 1.5 .2 1.5-.3 1.5 .4 1.5 0 1.5 .3 1.5 0 1.5-.2 1.5-.1 1.5-.1 1.5 0 1.5-.6 1.5 .2 1.5-.2 1.5 0 1.5 0 1.5 .5 1.5 0 1.5 .2 1.5 .1 1.5-.3 1.5 .2 1.5-.2 1.5 0 1.5-.1 1.5-.2 1.5-.1 1.5-.1 1.5 .1 1.5 .1 1.5 .2 1.5 0 1.5 .2 1.5-.3 1.5 .3 1.5 .4 1.5-.2 1.5-.2 1.5 .1 1.5-.2 1.5-.5 1.5 .3 1.5-.2 1.5 .2 1.5-.2 1.5 .6 1.5-.6 1.5 .3 1.5-.3 1.5-.1 1.5 .3 1.5 .4 1.5-.7 1.5 .4 1.5 .5 1.5-.6 1.5 .2 1.5 0 1.5 .2 1.5-.2 1.5-.1 1.5 .2 1.5 .1 1.5-.3 1.5 .2 1.5 0 1.5 .2 1.5-.4 1.5-.1 1.5 .2 1.5 0 1.5-.5 1.5 .2 1.5-.3 1.5-.1 1 .3 .3 .1 .2 .1 .2 0 .3 0 .4 0 .3 0 .3 0 .1 0 .4 .1 .3 .1 .4 0 .3 .1 .3-.2 .4-.3 .3-.4 .4-.5 .1-.1 .2-.5 .4-.8 .4-1.2 .3-1.8 .2-1.2 .2-1 .3-2.5 .3-2.5 .4-2.3 .3-1.6 0-.2 .4-1.4 .3-1 .4-.6 .4-.5 .3-.2 .4-.2 .3 0 .3-.1 .2 0 .2 0 .3 .1 .4 .1 .3 .1 .3 0 .1 0 .4 0 .3 0 .4-.1 .3 0 1.5 .4 1.5-.1 1.5 0 1.5 .2 1.5-.4 1.5-.2 1.5-.2 1.5 .3 1.5-.2 1.5 .1 1.5 .4 1.5 0 1.5 0 1.5-.2 1.5 .1 1.5 .3 1.5-.2 1.5-.3 1.5 .1 1.5-.1 1.5-.1 1.5 .2 1.5-.4 1.5 .2 1.5 .3 1.5-.3 1.5 .1 1.5 .5 1.5-.1 1.5-.5 1.5 .2 1.5 0 1.5-.2 1.5 .4 1.5-.2 1.5 .1 1.5 0 1.5 .3 1.5 .1 1.5 .2 1.5 0 1.5-.3 1.5 .1 1.5-.4 1.5 .2 1.5-1 1.5 .7 1.5 .2 1.5 .1 1.5-.1 1.5 .3 1.5-.4 1.5-.3 1.5-.1 1.5 .1 1.5-.2 1.5 .4 1.5 0 1.5 .1 1.5-.3 1.5 .7 1.5-.4 1.5 0 1.5-.2 1.5 .4 1.5-.6 1.5 .8 1.5-.2 1.5 .1 1.5-.1 1.5-.3 1.5-.1 1.5-.1 1.5-.2 1.5 .2 1.5 .4 1.5-.3 1.5 .4 1.5 .2 1.5-.1 1.5 0 1.5 .2 1.5-.2 1.5-.2 1.5 .2 1.5-.3 1.5 0 1.5 0 1.5-.4 1.5 0 1.5 .3 1.5-.1 1.5 .5 1.5 .1 1.5-.1 1.5-.2 1.5-.4 1.5-.1 1.5 .3 1.5-.1 1.5 .1 1.5 .2 1.5-.5 1.5 .3 1.5-.3 1.5 .6 1.5 0 1.5 .2 1.5-.2 1.5 0 1.5-.3 1.5 .3 1.5-.1 1.5-.2 1.5 .1 1 .2 .3 0 .2 0 .2 0 .3 .1 .4 0 .3 0 .3 0 .1 0 .4 .1 .3 .1 .4 .1 .3 .1 .3-.1 .4 0 .3 .1 .4 .1 .1 .1 .2 .4 .4 .8 .4 1.3 .3 1.9 .2 1.4 .2 1.1 .3 2.9 .3 2.8 .4 2.5 .3 1.5 0 .3 .4 1.2 .3 .8 .4 .5 .4 .3 .3 0 .4 0 .3-.1 .3-.1 .2-.1 .2 .1 .3 0 .4 .1 .3 .1 .3 0 .1 0 .4 .1 .3 0 .4 0 .3 0 1.5 .2 1.5-.5 1.5-.2 1.5 0 1.5 0 1.5 .2 1.5 0 1.5-.2 1.5 .3 1.5-.1 1.5 .1 1.5-.1 1.5-.3 1.5 0 1.5 .5 1.5-.1 1.5 .2 1.5 .1 1.5-.1 1.5-.2 1.5-.1 1.5-.3 1.5 .4 1.5-.3 1.5 .1 1.5 0 1.5 .5 1.5 0 1.5 .4 1.5-.5 1.5 .1 1.5-.1 1.5 .1 1.5 0 1.5 .1 1.5-.1 1.5-.3 1.5 .3 1.5-.1 1.5-.3 1.5 0 1.5 0 1.5-.2 1.5 .3 1.5-.2 1.5-.3 1.5 .8 1.5-.3 1.5-.1 1.5 .1 1.5 0 1.5-.1 1.5-.3 1.5 .3 1.5-.4 1.5 .3 1.5 0 1.5-.3 1.5 .4 1.5 .1 1.5-.1 1.5 0 1.5 .1 1.5 .4 1.5-.3 1.5 0 1.5 .2 1.5 .2 1.5-.4 1.5-.1 1.5-.1 1.5-.5 1.5 .6 1.5 .1 1.5-.1 1.5 .3 1.5 .4 1.5-.4 1.5 0 1.5-.3 1.5-.1 1.5 .4 1.5-.2 1.5-.1 1.5 .2 1.5-.2 1.5-.3 1.5-.4 1.5 .6 1.5-.2 1.5-.1 1.5-.1 1.5 .3 1.5 0 1.5 .5 1.5-.2 1.5 .3 1.5-.2 1.5-.3 1.5 0" fill="none" stroke="#c6ceff" stroke-width="2.4" stroke-linejoin="round" stroke-dasharray="2.6 2.2"/>
<path d="M1467 390.4l1.5 .1 1.5-.2 1.5-.1 1.5 0 1.5-.1 1.5 .4 1.5-.2 1.5-.2 1.5 0 1.5 .4 1.5-.2 1.5-.3 1.5 .3 1.5-.1 1.5-.2 1.5-.1 1.5-.6 1.5 .6 1.5-.2 1.5 .1 1.5 .4 1.5-.2 1.5 0 1.5-.1 1.5 0 1.5-.4 1.5 .3 1.5-.1 1.5 .3 1.5 .1 1.5-.2 1.5 0 1.5 .1 1.5-.2 1.5 .2 1.5 0 1.5 .2 1.5-.1 1.5-.4 1.5 .3 1.5-.4 1.5-.5 1.5 .3 1.5 0 1.5 .1 1.5 .1 1.5 0 1.5-.1 1.5-.3 1.5-.1 1.5-.2 1.5 0 1.5 .2 1.5 .2 1.5 .4 1.5-.1 1.5 .3 1.5-.6 1.5 0 1.5-.3 1.5 .1 1.5-.1 1.5 .6 1.5-.3 1.5 .1 1.5-.2 1.5 .2 1.5-.3 1.5-.1 1.5 .1 1.5 .2 1.5-.4 1.5 .6 1.5 0 1.5-.3 1.5 0 1.5 .2 1.5-.3 1.5-.1 1.5-.2 1.5 .5 1.5 .3 1.5-.4 1.5 .5 1.5-.7 1.5 .2 1.5-.3 1.5 .4 1.5-.2 1.5-.2 1.5 0 1.5 0 1.5 0 1.5 .3 1.5-.3 1.5 .1 1.5-.7 1.5 .3 1.5-.2 1.5 .2 1.5-.1 1.5 .2 1.5 .3 1.5-.1 1.5-.2 1.5 .2 1.5-.2 1.5 .1 1.5 .1 1.5-.3 1.5 .1 1.5-.2 1.5 .2 1.5-.1 1.5-.2 1.5 .3 1.2-.1 .3 0 .4 0 .3 0 .4 0 .4 0 .3 0 .4 0 .3 0 .3-.1 .2 0 .2 0 .3-.1 .4 0 .3-.2 .3-.1 .1-.1 .4-.3 .3-.5 .4-.9 .3-1.3 .3-1.7 .4-1.9 .3-2 .4 .1 .1-.4 .2-.8 .4-.8 .4-.6 .3-.3 .2-.1 .2-.1 .3-.1 .3 0 .4-.1 .3 0 .4 .1 .3 .1 .4 .1 .4 .2 .3-.1 .4-.2 .3-.1 .3-.1 .2 0 .2 0 1.3 .1 1.5 .1 1.5 .1 1.5-.4 1.5 .1 1.5 .1 1.5-.1 1.5 .1 1.5-.1 1.5-.4 1.5 .2 1.5 .1 1.5 0 1.5-.4 1.5 .7 1.5-.3 1.5 .3 1.5 0 1.5-.1 1.5-.2 1.5 0 1.5 .3 1.5-.2 1.5 .4 1.5-.2 1.5 .2 1.5-.4 1.5 0 1.5 .1 1.5-.2 1.5 .2 1.5-.2 1.5 .4 1.5-.2 1.5-.1 1.5-.2 1.5 .5 1.5 0 1.5-.2 1.5 .2 1.5-.2 1.5 .2 1.5-.2 1.5 .2 1.5-.1 1.5 0 1.5-.1 1.5 .3 1.5-.4 1.5 0 1.5-.4 1.5 .3 1.5 .1 1.5 .1 1.5 0 1.5 0 1.5-.1 1.5 .3 1.5-.1 1.5-.1 1.5 0 1.5 .1 1.5-.2 1.5-.1 1.5-.1 1.5 0 1.5 .2 1.5 0 1.5-.3 1.5 .1 1.5 .3 1.5 .2 1.5-.1 1.5-.3 1.5-.3 1.5 .3 1.5 .1 1.5 0 1.5 .1 1.5 .1 1.5-.1 1.5 .6 1.5-.5 1.5-.1 1.5 .2 1.5 0 1.5-.2 .5 0 .3 0 .4 0 .3 0 .4 0 .3 0 .4 0 .4 0 .3 0 .4 0 .3 0 .3 0 .2 0 .2 0 .3 0 .4 .1 .3 .2 .3 .3 .1 .2 .4 .9 .3 1.2 .4-.1 .3 2 .3 2.1 .4 1.8 .3 1.3 .4 .9 .1 .2 .2 .3 .4 .3 .4 .2 .3 0 .2 .1 .2 0 .3 .1 .3 .1 .4 .1 .3 .1 .4 0 .3-.1 .4 0 .4 0 .3 0 .4 .1 .3 0 .5 .1 1.5 .1 1.5-.1 1.5-.1 1.5 0 1.5 .2 1.5-.3 1.5 .2 1.5 0 1.5-.4 1.5-.1 1.5-.2 1.5 .3 1.5-.1 1.5 .6 1.5 .1 1.5 .1 1.5 .1 1.5-.4 1.5 0 1.5 .1 1.5 0 1.5 0 1.5 0 1.5 .1 1.5 .2 1.5 .2 1.5-.2 1.5 .1 1.5 0 1.5 0 1.5 .1 1.5 .1 1.5-.1 1.5-.2 1.5-.2 1.5-.1 1.5-.5 1.5 .2 1.5 .2 1.5-.2 1.5 0 1.5 .6 1.5-.1 1.5 .4 1.5-.5 1.5 .3 1.5-.1 1.5 0 1.5-.2 1.5 .1 1.5 .2 1.5 .5 1.5-.3 1.5 .2 1.5-.5 1.5 .1 1.5 0 1.5 .1 1.5-.3 1.5 .1 1.5 .1 1.5-.1 1.5 .1 1.5 .2 1.5 .2 1.5-.1 1.5 0 1.5 .2 1.5 .1 1.5-.3 1.5 .1 1.5 .1 1.5-.2 1.5 .4 1.5-.3 1.5 .4 1.5 0 1.5-.1 1.5 .1 1.5 .4 1.5-.3 1.5 .1 1.5-.5 1.5-.1 1.5 .3 1.5-.3 1.5 0 1.5 .2 1.5-.1 1.5 .5 1.5-.2 1.5 .2 1.5-.1 1.5 .1 1.5-.1 1.5 0 1.5-.4 1.5 .3 1.5-.3 1.5 .5 1.5-.2 1.5 .1 1.5 .2 1.5-.2 1.5 0 1.5 .1 1.5 0 1.5-.3 1.5 .3 1.5 .1 1.5 0 1.5-.3 1.5-.1 1.5 .2" fill="none" stroke="#6e7eff" stroke-width="2.4" stroke-linejoin="round"/>
<path d="M1467 390.6l1.5-.3 1.5 0 1.5 .1 1.5-.3 1.5 .2 1.5-.1 1.5 0 1.5-.3 1.5 .5 1.5-.1 1.5 0 1.5-.1 1.5-.2 1.5 .2 1.5-.1 1.5 .2 1.5 .1 1.5 .1 1.5 .2 1.5-.4 1.5-.2 1.5 .2 1.5-.4 1.5 .2 1.5-.2 1.5 .1 1.5-.3 1.5-.4 1.5 .5 1.5 0 1.5-.2 1.5 .3 1.5 .4 1.5-.3 1.5 0 1.5-.2 1.5 .1 1.5-.4 1.5 .2 1.5 .3 1.5-.3 1.5 .1 1.5-.1 1.5-.3 1.5 0 1.5 0 1.5 0 1.5-.5 1.5 .5 1.5 0 1.5-.2 1.5 0 1.5 .5 1.5-.1 1.5-.2 1.5 .2 1.5-.1 1.5-.2 1.5-.1 1.5 .1 1.5 0 1.5 .3 1.5-.5 1.5 .8 1.5-.3 1.5 .1 1.5-.1 1.5-.2 1.5-.1 1.5-.1 1.5 .3 1.5-.5 1.5 .2 1.5-.3 1.5-.2 1.5 0 1.5 .3 1.5-.2 1.5 .1 1.5 .3 1.5 0 1.5-.5 1.5 .1 1.5 0 1.5 0 1.5 .5 1.5-.2 1.5 .4 1.5-.2 1.5 0 1.5 0 1.5-.3 1.5 0 1.5 .1 1.5-.2 1.5-.3 1.5 .5 1.5-.2 1.5 .2 1.5 .1 1.5-.1 1.5-.5 1.5 .2 1.5 0 1.5 .3 1.5 .2 1.5-.2 1.5 0 1.5-.1 1.5-.2 1.5-.3 1.5 .6 1.5-.1 1.5-.1 1.5 .2 1.5-.2 .3 0 .4 0 .3 .1 .4 0 .1 0 .2-.1 .4 0 .4-.1 .3-.1 .2 0 .2-.1 .3 0 .3-.1 .4-.1 .3-.1 .4-.2 .3-.2 .4-.5 .4-.8 0-.1 .3-1.1 .4-1.7 .3-2 .3-2 .2-.7 .2 .9 .3-1.2 .4-.9 .3-.5 .3-.2 .1-.1 .4-.2 .3-.1 .4-.1 .3-.1 .3 0 .4-.1 .3 0 .4-.1 .1 0 .2 .1 .4 0 .4 .1 .3 0 .2 .1 .2 0 .3 0 1 .1 1.5 0 1.5-.7 1.5 .1 1.5 .4 1.5-.3 1.5-.3 1.5 .2 1.5 0 1.5-.1 1.5 0 1.5 0 1.5-.5 1.5 .4 1.5 .1 1.5 0 1.5 0 1.5 .4 1.5-.1 1.5 .4 1.5 .1 1.5 .4 1.5-.5 1.5-.1 1.5-.1 1.5-.1 1.5 .2 1.5-.2 1.5-.2 1.5 0 1.5 .2 1.5-.4 1.5 .2 1.5 .1 1.5-.1 1.5 0 1.5 0 1.5 0 1.5 .1 1.5-.1 1.5 .3 1.5-.4 1.5 .1 1.5-.2 1.5 .3 1.5 .1 1.5 .2 1.5-.3 1.5-.1 1.5-.2 1.5 .2 1.5 .1 1.5 .3 1.5 0 1.5 .2 1.5-.5 1.5 0 1.5-.3 1.5 .1 1.5 .2 1.5-.3 1.5 .2 1.5-.3 1.5 .1 1.5 .4 1.5-.2 1.5 0 1.5 .3 1.5-.1 1.5 0 1.5-.1 1.5 .1 1.5-.4 1.5 .4 1.5 0 1.5-.1 1.5 .1 1.5 0 1.5-.3 1.5-.2 1.5 .3 1.5 0 1.5 0 1.5 0 1.5 .5 1.5-.6 1.5 .3 1.5 .3 1.5-.2 .3 0 .4 0 .3 0 .4 0 .1 0 .2 0 .4 0 .4 0 .3 .1 .2 0 .2 0 .3 0 .3 0 .4 .1 .3 .1 .4 .1 .3 .3 .4 .4 .4 .8 0 .2 .3 1.1 .4-.1 .3 2 .3 2 .2 .8 .2 1 .3 1.2 .4 .9 .3 .5 .3 .2 .1 .1 .4 .2 .3 .1 .4 0 .3 0 .3 .1 .4 .1 .3 .1 .4 .1 .1 0 .2 0 .4-.1 .4 0 .3 0 .2-.1 .2 0 .3 0 1 0 1.5-.4 1.5 .1 1.5 .1 1.5 .3 1.5-.3 1.5 .2 1.5-.1 1.5 .1 1.5 .5 1.5-.4 1.5-.3 1.5 .3 1.5 .1 1.5-.1 1.5-.3 1.5-.1 1.5 .1 1.5 .3 1.5-.1 1.5 .6 1.5 .1 1.5-.2 1.5-.5 1.5 .3 1.5 0 1.5-.4 1.5 .6 1.5-.2 1.5 0 1.5 .4 1.5-.6 1.5 .3 1.5 0 1.5-.1 1.5 .1 1.5-.2 1.5-.2 1.5 .5 1.5-.1 1.5 .3 1.5-.2 1.5 0 1.5 .3 1.5-.1 1.5 0 1.5-.2 1.5 .1 1.5 .1 1.5-.1 1.5-.3 1.5 .7 1.5-.3 1.5 0 1.5 .1 1.5 0 1.5-.2 1.5 0 1.5 .3 1.5-.4 1.5 .2 1.5 0 1.5 0 1.5-.1 1.5 .5 1.5-.4 1.5-.2 1.5 .1 1.5 .5 1.5-.1 1.5 .2 1.5-.1 1.5 .2 1.5-.1 1.5-.3 1.5-.1 1.5 .1 1.5 0 1.5-.2 1.5 .3 1.5 0 1.5 .2 1.5-.2 1.5-.1 1.5 .3 1.5 .2 1.5 .1 1.5 .1 1.5-.5 1.5 0 1.5 .1 1.5-.1 1.5 0 1.5 .4 1.5-.2 1.5 .2 1.5-.1 1.5 .3 1.5-.3 1.5 .2 1.5-.2 1.5 .3 1.5-.1 1.5 .1 1.5-.2 1.5 .1 1.5 .2 1.5 .3 1.5-.2 1.5-.2 1.5-.2 1.5 .1 1.5 .1 1.5 0" fill="none" stroke="#6e7eff" stroke-width="2.4" stroke-linejoin="round" stroke-dasharray="2.6 2.2"/>
<path d="M1467 438.3l1.5-.1 1.5 .1 1.5 .1 1.5-.2 1.5 .1 1.5 .2 1.5-.4 1.5 .2 1.5 0 1.5 .2 1.5-.3 1.5 .2 1.5-.5 1.5 .2 1.5-.2 1.5 .1 1.5-.1 1.5 .1 1.5 .1 1.5-.3 1.5-.1 1.5-.1 1.5-.2 1.5-.3 1.5 .4 1.5-.5 1.5 .1 1.5 0 1.5 .2 1.5 0 1.5 0 1.5 0 1.5 .2 1.5-.1 1.5-.1 1.5-.2 1.5-.3 1.5 .4 1.5-.5 1.5-.1 1.5 .2 1.5-.1 1.5-.2 1.5 .1 1.5-.1 1.5 .1 1.5-.1 1.5-.1 1.5 .1 1.5 0 1.5 .1 1.5-.3 1.5 .1 1.5-.1 1.5 .2 1.5-.2 1.5 0 1.5-.1 1.5-.1 1.5 .1 1.5-.2 1.5 0 1.5 .1 1.5-.2 1.5 .1 1.5-.3 1.5-.2 1.5 0 1.5 0 1.5 0 1.5-.1 1.5 .2 1.5 0 1.5-.3 1.5 0 1.5 .3 1.5 0 1.5-.1 1.5 .1 1.5 0 1.5-.2 1.5 .2 1.5-.2 1.5-.1 1.5-.1 1.5 0 1.5-.2 1.5 0 1.5 .1 1.5-.1 1.5 0 1.5 0 1.5 0 1.5 0 1.5-.3 1.5 .2 1.5-.2 1.5-.2 1.5 .1 1.5 .1 1.5-.1 1.5-.3 1.5 .2 1.5-.1 1.5 0 1.5 0 1.5-.1 1.5-.1 1.5 0 1.5 0 1.5 0 1.5 0 1.5 .1 1.5 .1 1.5-.2 1.5-.1 1.5 0 1.5-.2 1.5 .4 1.5-.2 1.5-.1 1.5 .2 1.5-.3 1.5-.1 1.5-.2 1.5-.3 1.5 0 1.5 .5 1.5-.3 1.5-.2 1.5 .1 1.5 0 1.5 .2 1.5-.2 1.5-.5 1.5 0 1.5-.7 1.5-.7 1.5-.8 1.5-.2 1.5-.2 1.5-.4 1.5-.3 1.5-.2 1.5-.1 1.5-.1 1.5 .1 1.5-.1 1.5-.1 1.5-.1 1.5-.1 1.5-.2 1.5-.1 1.5-.3 1.5 .1 1.5 0 1.5-.1 1.5-.1 1.5 .4 1.5-.2 1.5 0 1.5-.3 1.5 .1 1.5-.2 1.5 0 1.5-.4 1.5 .1 1.5 0 1.5 0 1.5 .1 1.5 .3 1.5-.1 1.5-.1 1.5-.2 1.5 .4 1.5 0 1.5 .4 1.5 .1 1.5 .1 1.5-.1 1.5 0 1.5-.2 1.5 .3 1.5-.1 1.5 0 1.5-.2 1.5 .4 1.5 .3 1.5 .1 1.5 .2 1.5 .1 1.5-.3 1.5 .1 1.5 0 1.5 .1 1.5 .3 1.5 .2 1.5 .9 1.5 .4 1.5 .5 1.5 .4 1.5 .5 1.5 .5 1.5 0 1.5 .1 1.5-.2 1.5 .1 1.5 .1 1.5 .2 1.5 0 1.5-.1 1.5 .4 1.5-.3 1.5 .3 1.5 .1 1.5 0 1.5 .2 1.5-.2 1.5 0 1.5 .2 1.5-.1 1.5-.2 1.5 .4 1.5-.3 1.5 .2 1.5-.2 1.5 .4 1.5 .3 1.5-.2 1.5-.3 1.5 .4 1.5-.2 1.5 .2 1.5 .1 1.5 0 1.5 .4 1.5-.3 1.5 0 1.5 .2 1.5-.2 1.5-.2 1.5 .3 1.5-.2 1.5 .5 1.5 0 1.5-.2 1.5-.1 1.5 .2 1.5 .2 1.5 0 1.5-.1 1.5 .4 1.5-.1 1.5 0 1.5 .1 1.5 .3 1.5-.2 1.5 .2 1.5-.4 1.5 .4 1.5 0 1.5 .1 1.5-.3 1.5 .5 1.5-.3 1.5-.2 1.5 .3 1.5-.1 1.5 .2 1.5 .3 1.5-.4 1.5-.1 1.5 .2 1.5-.1 1.5 .1 1.5 .2 1.5-.1 1.5 .3 1.5 0 1.5-.3 1.5 .1 1.5 .3 1.5 .1 1.5 .1 1.5 0 1.5 0 1.5-.3 1.5-.2 1.5 .3 1.5 .1 1.5 0 1.5 .5 1.5-.1 1.5 0 1.5-.1 1.5 .1 1.5 0 1.5-.1 1.5 0 1.5 .3 1.5 0 1.5 .1 1.5 .1 1.5-.1 1.5 .2 1.5-.3 1.5 .3 1.5 0 1.5 .1 1.5 .1 1.5-.1 1.5 .4 1.5-.1 1.5-.1 1.5 .2 1.5 0 1.5 .1 1.5 0 1.5 .1 1.5-.2 1.5 0 1.5 0 1.5 .1 1.5 .3 1.5-.2 1.5-.3 1.5 .2 1.5-.1 1.5 .2 1.5-.2 1.5 .4 1.5 0 1.5 .1 1.5 0 1.5 .2 1.5 .3 1.5-.2" fill="none" stroke="#4a5aff" stroke-width="2.4" stroke-linejoin="round"/>
<path d="M1467 439.3l1.5 0 1.5-.2 1.5 0 1.5-.2 1.5-.1 1.5 0 1.5 .2 1.5 0 1.5-.1 1.5-.2 1.5-.1 1.5-.1 1.5-.1 1.5 .1 1.5 .4 1.5 0 1.5-.2 1.5-.1 1.5-.2 1.5 .2 1.5-.3 1.5 0 1.5-.3 1.5 .2 1.5 0 1.5-.2 1.5-.1 1.5 0 1.5 .2 1.5-.1 1.5-.1 1.5 .1 1.5-.1 1.5-.5 1.5 .6 1.5-.2 1.5-.3 1.5 0 1.5 0 1.5 .1 1.5 .1 1.5-.1 1.5 0 1.5 .1 1.5-.7 1.5 .4 1.5-.3 1.5 .7 1.5-.4 1.5 0 1.5-.4 1.5 .3 1.5-.2 1.5-.1 1.5 .2 1.5-.1 1.5 .1 1.5-.1 1.5-.3 1.5-.2 1.5-.2 1.5 .1 1.5-.2 1.5 .2 1.5 0 1.5 .2 1.5-.1 1.5-.1 1.5 0 1.5 0 1.5-.5 1.5 .4 1.5-.4 1.5 .4 1.5-.3 1.5 .3 1.5-.2 1.5 .1 1.5-.2 1.5-.3 1.5 .1 1.5-.2 1.5 0 1.5 .2 1.5-.1 1.5-.1 1.5 .2 1.5-.5 1.5 .2 1.5-.1 1.5 .2 1.5-.5 1.5 .3 1.5-.1 1.5 .2 1.5-.2 1.5-.1 1.5 .1 1.5 .1 1.5-.3 1.5 .1 1.5-.2 1.5 0 1.5-.2 1.5 .2 1.5-.1 1.5-.1 1.5 0 1.5 .1 1.5-.4 1.5-.2 1.5 0 1.5 .1 1.5 .3 1.5-.2 1.5-.2 1.5 0 1.5 .1 1.5-.3 1.5 .1 1.5 .4 1.5-.1 1.5-.1 1.5 0 1.5-.1 1.5-.4 1.5 .3 1.5 0 1.5 0 1.5 .1 1.5-.2 1.5-.6 1.5 .5 1.5-.4 1.5-.3 1.5-.1 1.5-.6 1.5-.7 1.5-.2 1.5-.6 1.5-.5 1.5-.3 1.5-.1 1.5-.3 1.5 .1 1.5-.4 1.5 .1 1.5-.2 1.5 0 1.5 .1 1.5-.5 1.5-.3 1.5 .4 1.5-.3 1.5 0 1.5-.1 1.5 0 1.5-.1 1.5 .3 1.5-.3 1.5-.3 1.5 .3 1.5-.5 1.5 .2 1.5-.1 1.5 .1 1.5-.2 1.5 .1 1.5-.3 1.5 .3 1.5-.1 1.5-.3 1.5 .3 1.5 .3 1.5 0 1.5-.2 1.5 .3 1.5 0 1.5 .4 1.5 .1 1.5-.2 1.5 .2 1.5 .2 1.5 0 1.5-.3 1.5 .2 1.5 0 1.5 0 1.5 .3 1.5 0 1.5 .2 1.5 .3 1.5 0 1.5 .3 1.5 0 1.5 .4 1.5 .7 1.5 .3 1.5 .5 1.5 .4 1.5 .4 1.5 .3 1.5 .3 1.5 .1 1.5-.1 1.5 .1 1.5 0 1.5 .3 1.5 0 1.5 0 1.5-.1 1.5 .2 1.5 .3 1.5-.2 1.5 0 1.5-.1 1.5-.3 1.5 .3 1.5 .2 1.5 0 1.5-.1 1.5 .1 1.5 .1 1.5 .1 1.5-.1 1.5 .1 1.5 .2 1.5-.2 1.5 .2 1.5 .5 1.5-.2 1.5-.3 1.5 .3 1.5-.5 1.5 .2 1.5 .2 1.5 .2 1.5 0 1.5 .1 1.5 .3 1.5-.3 1.5 .3 1.5-.1 1.5 0 1.5 0 1.5-.2 1.5 .1 1.5-.2 1.5 0 1.5 .2 1.5 .2 1.5 .3 1.5 .2 1.5-.2 1.5 0 1.5 0 1.5-.3 1.5 .4 1.5 .2 1.5 .2 1.5-.4 1.5 .4 1.5 .1 1.5-.3 1.5 .1 1.5 .1 1.5-.1 1.5 .3 1.5 0 1.5 .1 1.5-.1 1.5 0 1.5-.1 1.5 .1 1.5 .1 1.5 .2 1.5 .1 1.5-.1 1.5-.3 1.5 .3 1.5 0 1.5-.2 1.5 .2 1.5 0 1.5-.1 1.5 0 1.5-.1 1.5 .6 1.5-.6 1.5 .1 1.5 .4 1.5 .1 1.5-.1 1.5 .3 1.5 0 1.5-.1 1.5 .1 1.5 .1 1.5-.1 1.5 0 1.5 .3 1.5-.1 1.5-.1 1.5 0 1.5 .3 1.5 .1 1.5 .2 1.5 .1 1.5 .1 1.5-.2 1.5 0 1.5-.2 1.5 0 1.5-.2 1.5 .4 1.5-.4 1.5 .3 1.5 0 1.5 0 1.5 .7 1.5-.1 1.5 .2 1.5-.3 1.5 0 1.5-.1 1.5-.1 1.5 .1 1.5 .4 1.5 .3 1.5-.2 1.5 .4 1.5-.5 1.5 .3 1.5-.1 1.5-.1 1.5 .2 1.5-.1" fill="none" stroke="#4a5aff" stroke-width="2.4" stroke-linejoin="round" stroke-dasharray="2.6 2.2"/>
<path d="M1467 496.7l1.5 0 1.5 0 1.5-.1 1.5 .1 1.5-.3 1.5-.3 1.5-.1 1.5-.1 1.5 0 1.5-.2 1.5-.1 1.5-.2 1.5-.1 1.5-.2 1.5-.1 1.5-.1 1.5-.2 1.5 .1 1.5 .2 1.5-.5 1.5-.1 1.5-.3 1.5-.1 1.5-.5 1.5-.3 1.5 .1 1.5-.1 1.5 .2 1.5-.1 1.5-.2 1.5 .2 1.5 .1 1.5-.3 1.5-.2 1.5-.3 1.5-.2 1.5 .1 1.5-.1 1.5-.4 1.5-.1 1.5 0 1.5-.4 1.5 0 1.5-.3 1.5-.2 1.5-.2 1.5 .2 1.5-.1 1.5-.1 1.5-.6 1.5 .1 1.5-.2 1.5-.3 1.5-.1 1.5-.1 1.5-.3 1.5 .1 1.5 0 1.5-.5 1.5 .1 1.5 .1 1.5-.1 1.5 .1 1.5-.4 1.5 .3 1.5-.3 1.5-.2 1.5-.2 1.5-.4 1.5-.2 1.5 .1 1.5-.1 1.5-.2 1.5-.2 1.5-.1 1.5-.1 1.5 0 1.5-.2 1.5 0 1.5-.2 1.5 .1 .5-.2 .3-.1 .4-.1 .3-.1 .4 0 .3-.1 .4 0 .4-.1 .3 0 .4 0 .3 0 .3 0 .2 0 .2 0 .3-.1 .4-.1 .3-.2 .3-.2 .1-.1 .4-.5 .3-.8 .4-.7 .3-.3 .3 .4 .4 .8 .3 .9 .4 .6 .1 .1 .2 .2 .4 .1 .4 0 .3 0 .2-.1 .2 0 .3 0 .3 0 .4 0 .3 0 .4-.1 .3-.1 .4-.1 .4-.2 .3 0 .4 0 .3 0 .5 0 1.5-.2 1.5-.3 1.5 .2 1.5-.1 1.5-.6 1.5 0 1.5-.4 1.5 .2 1.5-.2 1.5-.2 1.5-.1 1.5-.2 1.5-.2 1.5 .1 1.5-.1 1.5-.4 1.5 .1 1.5-.3 1.5 .2 1.5-.2 1.5-.1 1.5-.1 1.5-.3 1.5-.1 1.5-.2 1.5-.1 1.5-.1 1.5-.1 1.5-.2 1.5-.1 1.5-.1 1.5-.1 1.5 0 1.5-.1 1.5 .1 1.5 0 1.5-.4 1.5 .2 1.5-.5 1.5-.1 1.5 .5 1.5-.5 1.5-.5 1.5-.1 1.5-.3 1.5-.1 1.5 0 1.5 .1 1.5-.5 1.5 .1 1.5-.3 1.5-.2 1.5 .3 1.5 0 1.5 .1 1.5-.4 1.5 .2 1.5-.5 1.5 0 1.5 0 1.5-.2 1.5-.3 1.5 0 1.5 .1 1.5-.3 1.5 .1 1.5-.1 1.5 0 1.5-.5 1.5 .6 1.5-.3 1.5-.1 1.5-.1 1.5 0 1.5 0 1.5-.3 1.5 .3 1.5-.1 1.5 .1 1.5 0 1.5 .2 1.5-.1 1.5 0 1.5-.2 1.5 .2 1.5 0 1.5 .5 1.5 0 1.5 .1 1.5-.1 1.5 .1 1.5-.1 1.5-.2 1.5 .2 1.5 .3 1.5-.1 1.5 .1 1.5 .4 1.5 0 1.5 0 1.5 .1 1.5 .4 1.5-.1 1.5 .4 1.5-.3 1.5 .6 1.5-.1 1.5 .5 1.5 0 1.5 .2 1.5-.3 1.5 .2 1.5-.4 1.5 .3 1.5-.1 1.5 .2 1.5-.2 1.5 .7 1.5 .1 1.5 .1 1.5 .2 1.5 .2 1.5 .1 1.5 .1 1.5 .2 1.5-.3 1.5 .2 1.5 .2 1.5-.1 1.5 .5 1.5-.1 1.5 .3 1.5 .4 1.5 .1 1.5 .1 1.5 .1 1.5 0 1.5 0 1.5 .3 1.5 0 1.5 0 1.5 .1 1.5 .1 1.5 0 1.5-.1 1.5 .1 1.5 .4 1.5 .2 1.5 .1 1.5 .2 1.5 .3 1.5 .2 1.5 0 1.5 .1 1.5 .2 1.5 .2 1.5 .1 1.5 0 1.5 .4 1.5 .2 1.5 0 1.5 .2 1.5 .1 1.5 .4 1.5 0 1.5-.2 1.5 0 1.5 0 1.5 .1 1.5-.1 1.5 .2 1.5 .1 1.5 .2 1.5 .2 1.5 .3 1.5 0 1.5 0 1.5 .2 1.5 .3 1.5 0 1.5 .5 1.5 .1 1.5 .3 1.5-.1 1.5 .1 1.5-.2 1.5 .4 1.5-.2 1.5 .1 1.5 .8 1.5 0 1.5 0 1.5 .2 1.5-.1 1.5 .1 1.5 0 1.5 .1 1.5 .4 1.5 .2 1.5 .2 1.5 .2 1.5-.1 1.5 .3 1.5-.2 1.5 0 1.5 .6 1.5 0 1.5 .1 1.5 .2 1.5-.1 1.5 .2 1.5-.1 1.5 .4 1.5 .1 1.5 .3 1.5 0 1.5 .3 1.5 0 1.5 .1 1.5 0 1.5 .3 1.5-.1 1.5 .5 1.5-.1 1.5-.1 1.5-.1 1.5 .2 1.5 .3 1.5 .2 1.5 .1 1.5 .1 1.5 .2 1.5 0 1.5 .3 1.5 .3 1.5 0 1.5 .1 1.5 0 1.5 .2 1.5 .3 1.5-.1 1.5 .4 1.5 .1 1.5 .3 1.5-.3 1.5 .1" fill="none" stroke="#1c2cff" stroke-width="2.6" stroke-linejoin="round"/>
<path d="M1467 496.9l1.5 0 1.5-.1 1.5-.1 1.5-.2 1.5 .1 1.5-.3 1.5-.4 1.5-.4 1.5 .1 1.5 0 1.5-.2 1.5-.5 1.5-.1 1.5 .1 1.5 0 1.5 .1 1.5-.3 1.5-.1 1.5-.5 1.5-.2 1.5 0 1.5-.2 1.5-.1 1.5-.2 1.5 .2 1.5-.3 1.5-.4 1.5 .4 1.5 0 1.5-.2 1.5-.1 1.5-.3 1.5-.1 1.5-.4 1.5 0 1.5 0 1.5 .1 1.5-.3 1.5-.3 1.5-.2 1.5-.1 1.5 0 1.5-.1 1.5 .1 1.5-.1 1.5-.1 1.5 0 1.5-.4 1.5-.2 1.5 .1 1.5-.3 1.5-.2 1.5 .2 1.5 0 1.5-.2 1.5-.5 1.5 .1 1.5 0 1.5-.3 1.5-.2 1.5-.5 1.5 0 1.5 0 1.5-.2 1.5-.3 1.5 .1 1.5-.5 1.5-.3 1.5 .2 1.5-.1 1.5 .1 1.5-.2 1.5 .3 1.5-.6 1.5-.2 1.5-.5 1.5 .2 1.5-.1 1.5 .1 1.5 0 1.5-.1 1.5 0 1.5 0 1.5-.5 1.5 .1 1.5-.1 1.5-.3 1.5-.1 1.5-.2 1.5-.3 1.5-.2 1.5-.3 1.5 0 1.5-.4 1.5 .6 1.5-.3 1.5-.1 1.5-.1 1.5 .1 1.5-.4 1.5-.1 1.5-.2 1.5-.3 1.5 0 1.5 0 1.5 0 1.5-.2 1.5-.4 1.5-.1 1.5 0 1.5-.3 1.5 0 1.5 0 1.5 0 1.5-.2 1.5-.1 1.5-.4 1.5-.1 1.5 .1 1.5-.5 1.5 .3 1.5-.3 1.5-.5 1.5 .1 1.5 .3 1.5-.4 1.5 .2 1.5-.4 1.5 0 1.5-.2 1.5-.1 1.5-.3 1.5 0 1.5-.4 1.5 .2 1.5-.3 1.5-.1 1.5 .4 1.5-.3 1.5-.2 1.5-.1 1.5-.2 1.5-.1 1.5-.2 1.5-.2 1.5 .1 1.5-.2 1.5 .1 1.5-.4 1.5 .1 1.5-.4 1.5-.3 1.5 .2 1.5 0 1.5 0 1.5-.1 1.5 .2 1.5 0 1.5 .1 1.5-.5 1.5-.2 1.5 .2 1.5-.3 1.5 .3 1.5 .2 1.5-.3 1.5 0 1.5 .2 1.5 .1 1.5-.1 1.5 .4 1.5-.3 1.5 .2 1.5-.3 1.5 .2 1.5-.2 1.5 .1 1.5-.2 1.5 .1 1.5 .4 1.5-.1 1.5 .1 1.5 .3 1.5 .1 1.5 0 1.5 0 1.5 .1 1.5-.3 1.5 .4 1.5 .1 1.5 0 1.5 .1 1.5 .1 1.5 .3 1.5 .1 1.5-.4 1.5 .4 1.5 .1 1.5-.1 1.5-.3 1.5 .6 1.5 0 1.5 .1 1.5 .2 1.5 .3 1.5 .1 1.5-.1 1.5 .3 1.5 0 1.5 .4 1.5 .1 1.5 .3 1.5-.1 1.5 .2 1.5 .2 1.5-.3 1.5 .2 1.5 0 1.5 0 1.5 .3 1.5 .4 1.5-.2 1.5 .3 1.5 .2 1.5-.2 1.5 .1 1.5 .5 1.5-.4 1.5 .4 1.5 .3 1.5 .3 1.5 0 1.5 .2 1.5 .3 1.5 0 1.5-.2 1.5 .2 1.5 0 1.5 .2 1.5 .4 1.5 .1 1.5 .3 1.5-.1 1.5 .4 1.5 0 1.5 0 1.5 .1 1.5 .3 1.5-.2 1.5 .2 1.5 .2 1.5-.1 1.5 .2 1.5 .1 1.5 .2 1.5 .1 1.5 .3 1.5 .3 1.5-.1 1.5 .2 1.5 .2 1.5 0 1.5 .3 1.5 .3 1.5-.3 1.5 .3 1.5-.3 1.5 .3 1.5 .3 1.5 0 1.5 .3 1.5 .2 1.5 .3 1.5 .1 1.5-.2 1.5 .3 1.5 .2 1.5 .2 1.5-.2 1.5 .4 1.5 0 1.5 .1 1.5 0 1.5 0 1.5-.1 1.5 .2 1.5 .5 1.5-.2 1.5 .2 1.5 .5 1.5-.1 1.5 .4 1.5 .1 1.5 0 1.5 .1 1.5 .3 1.5-.4 1.5 .5 1.5 .1 1.5 0 1.5-.1 1.5 .3 1.5 0 1.5 .3 1.5-.3 1.5 .7 1.5 .1 1.5 .1 1.5 .2 1.5 0 1.5 .5 1.5-.1 1.5 .2 1.5-.3 1.5 .8 1.5 0 1.5 .1 1.5 .1 1.5-.1 1.5 .2 1.5 .4 1.5 .4 1.5-.6 1.5 .3 1.5 .1 1.5 .2 1.5-.1 1.5 .6 1.5-.1 1.5 .1 1.5 .2 1.5-.1 1.5 .1 1.5 .4 1.5 .1 1.5 .2 1.5-.1" fill="none" stroke="#1c2cff" stroke-width="2.6" stroke-linejoin="round" stroke-dasharray="2.6 2.2"/>
<rect x="1465.5" y="21.4" width="509.5" height="480.9" fill="none" stroke="#000" stroke-width="2.7"/>
<line x1="1592.9" y1="502.3" x2="1592.9" y2="484.5" stroke="#000" stroke-width="2.6"/>
<line x1="1720.2" y1="502.3" x2="1720.2" y2="484.5" stroke="#000" stroke-width="2.6"/>
<line x1="1847.6" y1="502.3" x2="1847.6" y2="484.5" stroke="#000" stroke-width="2.6"/>
<line x1="1529.2" y1="502.3" x2="1529.2" y2="492.8" stroke="#000" stroke-width="2.6"/>
<line x1="1656.6" y1="502.3" x2="1656.6" y2="492.8" stroke="#000" stroke-width="2.6"/>
<line x1="1783.9" y1="502.3" x2="1783.9" y2="492.8" stroke="#000" stroke-width="2.6"/>
<line x1="1911.3" y1="502.3" x2="1911.3" y2="492.8" stroke="#000" stroke-width="2.6"/>
<text x="1465.5" y="543.6" font-size="34" text-anchor="middle" transform="matrix(1 0 0 1.04 0 -21.7)">-0.8</text>
<text x="1592.9" y="543.6" font-size="34" text-anchor="middle" transform="matrix(1 0 0 1.04 0 -21.7)">-0.4</text>
<text x="1720.2" y="543.6" font-size="34" text-anchor="middle" transform="matrix(1 0 0 1.04 0 -21.7)">0</text>
<text x="1847.6" y="543.6" font-size="34" text-anchor="middle" transform="matrix(1 0 0 1.04 0 -21.7)">0.4</text>
<text x="1975" y="543.6" font-size="34" text-anchor="middle" transform="matrix(1 0 0 1.04 0 -21.7)">0.8</text>
<text x="1716.2" y="600.4" font-size="34" text-anchor="middle" transform="matrix(1 0 0 1.04 0 -24)"><tspan font-style="italic">B</tspan> (T)</text>
<text x="1961.6" y="86.2" font-size="34" text-anchor="end" transform="matrix(1 0 0 1.04 0 -3.4)">2 K</text>
<text x="1961.6" y="139" font-size="34" text-anchor="end" transform="matrix(1 0 0 1.04 0 -5.6)">5 K</text>
<text x="1961.6" y="186.8" font-size="34" text-anchor="end" transform="matrix(1 0 0 1.04 0 -7.5)">8 K</text>
<text x="1961.6" y="229.9" font-size="34" text-anchor="end" transform="matrix(1 0 0 1.04 0 -9.2)">10 K</text>
<text x="1961.6" y="283.3" font-size="34" text-anchor="end" transform="matrix(1 0 0 1.04 0 -11.3)">30 K</text>
<text x="1961.6" y="335.6" font-size="34" text-anchor="end" transform="matrix(1 0 0 1.04 0 -13.4)">60 K</text>
<text x="1961.6" y="383.4" font-size="34" text-anchor="end" transform="matrix(1 0 0 1.04 0 -15.3)">90 K</text>
<text x="1961.6" y="431.2" font-size="34" text-anchor="end" transform="matrix(1 0 0 1.04 0 -17.2)">120 K</text>
<text x="1961.6" y="487.2" font-size="34" text-anchor="end" transform="matrix(1 0 0 1.04 0 -19.5)">150 K</text>
<line x1="1445.4" y1="418.6" x2="1445.4" y2="468.7" stroke="#000" stroke-width="2.6"/>
<line x1="1435.3" y1="418.6" x2="1455.5" y2="418.6" stroke="#000" stroke-width="2.6"/>
<line x1="1435.3" y1="468.7" x2="1455.5" y2="468.7" stroke="#000" stroke-width="2.6"/>
<text x="1364.5" y="455.9" font-size="34" transform="matrix(1 0 0 1.04 0 -18.2)">10 %</text>
<text transform="translate(1402.3 266.6) rotate(-90) scale(1 1.04)" font-size="34" text-anchor="middle"><tspan font-style="italic">MR</tspan> (%)</text>
</g>
<g id="pe">
<path d="M1467 729.6l1.5-1.7 1.5 .1 1.5-.6 1.5 1.3 1.5-1.3 1.5 1.2 1.5-.4 1.5 .4 1.5 0 1.5 0 1.5-.8 1.5 .7 1.5 .2 1.5-.4 1.5 .5 1.5-.2 1.5-.2 1.5 1.4 1.5-1.3 1.5 .2 1.5 .4 1.5-1.2 1.5 .6 1.5 .9 1.5-.4 1.5 .4 1.5-.6 1.5-.6 1.5 .3 1.5 .5 1.5-.6 1.5-.4 1.5 .5 1.5-.2 1.5 .6 1.5 .2 1.5 0 1.5 .4 1.5-1 1.5 .1 1.5 .6 1.5 .5 1.5-.1 1.5-1.2 1.5 .5 1.5-.1 1.5-1.7 1.5 1 1.5-.3 1.5 .3 1.5 .5 1.5 .2 1.5 .4 1.5 .4 1.5-1.1 1.5-.2 1.5-.1 1.5 .2 1.5 0 1.5-.1 1.5 .7 1.5-.3 1.5-.1 1.5-.1 1.5 .2 1.5 .2 1.5-.4 1.5 .3 1.5-.4 1.5 .6 1.5-.2 1.5 0 1.5 .2 1.5 .5 1.5 0 1.5 .4 1.5-.2 1.5 .6 1.5-.4 1.5 .5 1.5-.6 1.5-.8 1.5 .5 1.5-.2 1.5-.1 1.5 .7 1.5-.5 1.5 .8 1.5-.8 1.5 .5 1.5-.8 1 .8 .3 .2 .2 .2 .2-.1 .3-.1 .4-.1 .1 0 .2-.1 .1 0 .2-.1 .1 0 .1 0 .2 0 .1 0 .2-.1 .1 0 .1 0 .1 0 .2 0 .2-.1 .1 0 .1 0 .2 0 0-.1 .2 0 .1 0 .1 0 .1 0 .2-.1 .2 0 .1 0 .1-.1 .1 0 .2 0 .1 0 .2-.1 .1-.1 .1-.1 .1-.3 .2-.2 0-.3 .2-.6 .1-.4 .1-.5 .1-.5 0-.2 .2-.5 0-.4 .2-.4 .1-.1 .1 .1 .2 .3 0 .4 .2 .4 .1 .7 .1 .6 .1 .5 .2 .7 0 .2 0 .2 .2 .5 .1 .8 .1 .4 .1 .5 .2 .8 0 .6 .1 .6 .2 .9 .1 .6 .1 .6 .1 .7 .2 .4 0 .2 0 .1 .2 .1 .1-.1 .1-.2 .1-.4 .2-.4 0-.4 .2-.7 .1-.5 .1-.4 .2-.6 0-.3 .2-.3 0-.1 .1-.1 .1 0 .1 0 .2 0 0 .1 .2 0 .1 .2 .1 0 .1 .1 .2 .1 0 .1 .1 .1 .2 .1 .1 0 .1-.1 .1 0 .2-.1 .2-.1 .1-.1 .1 0 .1-.1 .2 0 0-.1 .2 0 .1-.1 .1 0 .2 0 .2 0 .1 0 .2 0 .2 0 .2 0 .1 0 .2 0 .2 .1 .3 .2 .3 .2 .4 .2 .3 .2 1.5 0 1.5 .3 1.5-2.1 1.5 .3 1.5 .3 1.5 .7 1.5-.7 1.5 .1 1.5 .9 1.5-1 1.5 .2 1.5-.6 1.5 1.4 1.5-.3 1.5-.5 1.5 .6 1.5-.6 1.5 .1 1.5-.9 1.5-.2 1.5 .3 1.5 .1 1.5 .5 1.5 0 1.5 .4 1.5-.4 1.5-.3 1.5 .5 1.5 .3 1.5-1.2 1.5 .6 1.5 .1 1.5 0 1.5 1.3 1.5-1.1 1.5 .2 1.5 .5 1.5-1 1.5 .1 1.5 0 1.5-1.1 1.5 1.1 1.5-.1 1.5 1 1.5-.6 1.5 .3 1.5-.2 1.5 .1 1.5-.6 1.5-.8 1.5-.4 1.5 .9 1.5-.3 1.5 .2 1.5 .1 1.5 .6 1.5 0 1.5 .5 1.5-.9 1.5 .8 1.5-.3 1.5-.2 1.5-.4 1.5 .6 1.5-.7 1.5 .3 1.5-.4 1.5 .8 1.5-.4 1.5 .1 1.5 .5 1.5-.4 1.5-.2 1.5 0 1.5 .2 1.5 .4 1.5 .5 1.5 0 1.5-.7 1.5-1.9 1.5 .6 1.5 .5 1.5-1.2 1.5 1.2 1.5 .4 1.5 .5 1.5-.9 1.5 .3 1.5 .4 1.5-.1 1.5 0 1.5-1 1.5 .8 1.5 .7 1.5-1.4 1.5 .8 1.5-.7 1.5-.1 1.5-.2 1.5 .8 1.5-.7 1.5 .5 1.5-.1 1.5-.5 1.5 .8 1.5 0 1.5-.1 1.5 .7 1.5 .5 1.5-.6 1.5-.4 1.5 .2 1.5-.4 1.5 .1 1.5-.8 1.5 1.1 1.5 .2 1.5-.6 1.5-.3 1.5 0 1.5-.4 1.5 .5 1.5 .6 1.5-.2 1.5-.1 1.5 .9 1.5 .1 1.5-.8 1.5 .7 1.5-.3 1.5-.4 1.5-.2 1.5-.2 1.5 .1 .5 .1 .3 0 .4 .1 .3 0 0 .1 .4 .2 .3 .3 .4 .2 .4 .3 .3-.2 .4-.3 .3-.3 .3-.3 .2-.1 .2 0 .3 .1 .4 0 .3 0 .3 0 .1 0 .4 0 .3-.1 .4-.1 .3-.3 .3-.5 .4-.4 .3-.3 .4-.2 .1 0 .2 0 .4 0 .4 0 .3 0 .2 0 .2 .1 .3 .1 .3 .1 .4 .2 .3 .1 .4 .2 .3 .1 .4 .2 .4 .2 .3-.1 .4-.2 .3-.2 .5-.2 1.5-.2 1.5-.7 1.5-.6 1.5 .7 1.5 .1 1.5-.3 1.5-.2 1.5 .6 1.5 .2 1.5-.9 1.5 1.1 1.5-.6 1.5 0 1.5-.4 1.5 .2 1.5-.9 1.5-.6 1.5-.2 1.5 .4 1.5 1 1.5-.1 1.5 1.6 1.5-.5 1.5-.1 1.5-.1 1.5-.1 1.5 0 1.5 1.2 1.5-1.2 1.5-.7 1.5 0 1.5 .6 1.5 .5 1.5-1.2 1.5 1.1 1.5-.6 1.5 .2 1.5 .6 1.5-1.3 1.5-.8 1.5 1.2 1.5 .9 1.5 .3 1.5-.2 1.5 .6 1.5-.6 1.5 .6 1.5-.5 1.5-.6 1.5-.1 1.5 .7 1.5-.4 1.5-.9 1.5 .2 1.5 1 1.5-1 1.5-.5 1.5 1.1 1.5-.3 1.5-.5 1.5 .9 1.5-.1 1.5 .8 1.5-.5 1.5-.6 1.5 1.1 1.5-1 1.5 .1 1.5 .1 1.5 .5 1.5 0 1.5 .5 1.5-1 1.5 1.1 1.5-2.1 1.5 0 1.5 .2 1.5 .1 1.5-.7 1.5 .7 1.5 1.4 1.5-.7 1.5-.6 1.5-.4 1.5-.3 1.5-.3 1.5 .3 1.5 0 1.5 .8 1.5 .1" fill="none" stroke="#4c52f0" stroke-width="2.4" stroke-linejoin="round"/>
<path d="M1467 728.8l1.5-.3 1.5-.1 1.5 .1 1.5 .5 1.5-.4 1.5 1.4 1.5-.2 1.5 .7 1.5-1.6 1.5-.2 1.5-.3 1.5-.2 1.5 .4 1.5-.4 1.5 .6 1.5 .7 1.5 .1 1.5-.7 1.5 1.2 1.5-1.2 1.5 .1 1.5-.3 1.5 .7 1.5 1.1 1.5-1.4 1.5 .4 1.5 .5 1.5-.9 1.5 .3 1.5 1.2 1.5-1.4 1.5 1 1.5 .5 1.5-.4 1.5-1.6 1.5 1 1.5 0 1.5-.4 1.5-.3 1.5 .3 1.5 0 1.5 .3 1.5 .1 1.5-.1 1.5 .3 1.5 .7 1.5-.5 1.5-.6 1.5-.7 1.5 .3 1.5 .7 1.5-1.1 1.5 .4 1.5-.3 1.5 .5 1.5 .3 1.5 .3 1.5-.4 1.5 .8 1.5-1.1 1.5 0 1.5 .1 1.5 1.1 1.5-.6 1.5 1.3 1.5-.4 1.5-.2 1.5-.4 1.5-.5 1.5-1.4 1.5-.4 1.5 2.5 1.5-.5 1.5 0 1.5-.3 1.5 .4 1.5 1.3 1.5-2.1 1.5 .8 1.5-.3 1.5-.4 1.5 .5 1.5-.6 1.5 .8 1.5-.6 1.5 1.3 .5 0 .3 .1 .4 0 .3 0 0-.1 .4-.2 .3-.2 .4-.3 .4-.2 0-.1 .3 .1 .4 .2 .3 .1 .3 .1 .2 0 .2 .1 .3 .2 .4 .2 .3 .2 .3 .2 .1 0 .4-.1 .3 .1 .4 .2 .3 .3 .3 .4 .4 .3 .3 .2 .4 0 .1 0 .2-.1 .4-.2 .4-.3 .3-.2 .2-.1 .2 .1 .3 .5 .3 .4 .4 .5 .3 .4 0-.1 .4 0 .3 0 .4-.1 .4 0 .3-.3 .4-.4 .3-.4 .5-.5 1.5 1.9 1.5 0 1.5-.9 1.5-.5 1.5-.2 1.5 .1 1.5-.5 1.5 .7 1.5 .1 1.5-1.3 1.5 2 1.5-1.3 1.5 1.3 1.5 .2 1.5 0 1.5-.7 1.5 1.6 1.5-2.1 1.5 1 1.5-.5 1.5-2.2 1.5 1.6 1.5 .6 1.5-.2 1.5-.6 1.5 .8 1.5 .9 1.5-.8 1.5 1 1.5-.7 1.5-1.1 1.5 .4 1.5-.3 1.5-.7 1.5 .6 1.5 .6 1.5 1.1 1.5-.1 1.5-1.2 1.5 .3 1.5 0 1.5 .6 1.5-1.1 1.5-.4 1.5 0 1.5 1 1.5-.3 1.5 1 1.5-.6 1.5 .1 1.5-1.2 1.5 1 1.5-.1 1.5-.9 1.5 .6 1.5 .7 1.5 1 1.5-1.2 1.5-.1 1.5 .1 1.5-.7 1.5 1.3 1.5-.4 1.5 .4 1.5-.8 1.5 .5 1.5-.2 1.5-.8 1.5 .9 1.5-.4 1.5-.7 1.5 1.4 1.5-.1 1.5-.3 1.5-.4 1.5 .3 1.5-.3 1.5 .5 1.5 .4 1.5-.5 1.5 .6 1.5-.6 1.5 0 1.5 .4 1.5-.6 1.5 .6 1.5-1 1.5 .2 1.5-1.3 1.5 1.9 1.5-1.3 1.5 .4 1.5 .7 1.5-.7 1.5 .4 1.5 .4 1.5-.6 1.5 .5 1.5-.4 1.5 .3 1.5-.3 1.5 1.1 1.5-1.8 1.5 1.3 1.5-.6 1.5 .7 1.5-.9 1.5 .8 1.5 0 1.5-1.3 1.5 .3 1.5 .7 1.5-.3 1.5-.4 1.5 .4 1.5 0 1.5 0 1.5 1.1 1.5-.6 1.5-.5 1.5 1 1.5-.2 1.5-1.2 1.5 1 1.5-1 1.5-.6 1.5-.6 1.5 1.9 1.5-1.7 1.5 1.8 1.5-.5 1.5 .9 1.5-.3 1.5-.3 1.5 .5 1.5-.5 1.5 .4 1.3-.4 .2 0 .2-.1 .3 0 .3-.1 .4-.1 .3 0 .3 0 .1 0 .2 0 .1 .1 .3 0 .1 0 .2 0 .1 .1 .1 0 .2-.1 .1 0 .2 0 .1 0 .1 0 .2-.1 .1 0 .2 0 .1 0 .2 0 .1-.1 .1 0 0-.1 .2-.2 .1 0 0-.1 .3-.2 0-.1 .1 0 .2-.5 .1-.1 0-.1 .3-.7 0-.2 .1-.1 .2-.8 .1-.2 0-.1 .3-.5 .1 0 .2 .5 .1 .1 .1 .2 .2 1.2 0 .3 .1 .2 .2 1.6 .1 .3 0 .3 .3 1.2 .1 .1 0 .2 .2 .4 .1 0 0-.1 .3-.6 0-.1 .1-.2 .1-.4 .2-.9 0-.3 0-.2 .3-1.2 0-.2 .1-.2 .2-.8 .1-.1 0-.1 .3-.4 0-.1 .1 0 .2-.2 .1 0 .1 .1 .2 .2 .1 .1 .2 .2 .1 0 0 .1 .3 .2 .1 0 0 .1 .2 .2 .1 .1 0-.1 .3-.2 .1-.1 .2-.2 .1 0 .3-.2 0-.1 .1 0 .2-.2 .1-.1 .1 0 .2-.1 .1 0 .2-.1 .1 0 .3-.1 .3 0 .1-.1 .2 0 .1 .1 .1 .1 .2 .4 .1 0 .3 .4 .7 .9 1.5-.2 1.5-.1 1.5-.1 1.5-.1 1.5 .1 1.5 .4 1.5-.7 1.5 .3 1.5-.9 1.5 .7 1.5-.4 1.5-.1 1.5 1.2 1.5-.4 1.5 .6 1.5 .2 1.5-.3 1.5-.7 1.5-.5 1.5 0 1.5-1.1 1.5 .4 1.5 .5 1.5 .9 1.5 .7 1.5 0 1.5-.2 1.5 .1 1.5-.7 1.5 .4 1.5-.1 1.5 0 1.5-.2 1.5-.6 1.5-.4 1.5-.2 1.5 0 1.5-.4 1.5 1.3 1.5 .1 1.5 .6 1.5 .1 1.5-.3 1.5-1.1 1.5 1 1.5-.5 1.5-1 1.5 .6 1.5 1.4 1.5-.5 1.5 0 1.5 .6 1.5-.4 1.5 1.3 1.5-.9 1.5 .5 1.5-.4 1.5-.6 1.5-.5 1.5 1.9 1.5-1.9 1.5 .3 1.5-.4 1.5-.1 1.5-.4 1.5 0 1.5-.1 1.5 1.3 1.5-1.3 1.5-.6 1.5 .7 1.5-.1 1.5 .5 1.5 .6 1.5-.5 1.5 .8 1.5-.6 1.5 .2 1.5-.3 1.5 .7 1.5-1.1 1.5 1.4 1.5-.2 1.5 .4 1.5-.9 1.5 .4 1.5 .1 1.5-.6 1.5-1 1.5 .7 1.5 .5 1.5-.3" fill="none" stroke="#4c52f0" stroke-width="2.4" stroke-linejoin="round" stroke-dasharray="2.6 2.2"/>
<path d="M1467 782.7l1.5 .5 1.5 .3 1.5-1.6 1.5 1.4 1.5-1.4 1.5 1.6 1.5-1 1.5 0 1.5 .3 1.5-.3 1.5 .5 1.5-2 1.5 .4 1.5 .1 1.5 .5 1.5 .2 1.5-.2 1.5 .6 1.5 .6 1.5-.1 1.5-1.2 1.5 .6 1.5 .1 1.5 .9 1.5-.3 1.5-.9 1.5-.3 1.5 1.1 1.5-.8 1.5 .5 1.5 .9 1.5-.4 1.5-.9 1.5 .1 1.5 .9 1.5-.5 1.5 .3 1.5-.8 1.5 .6 1.5 .7 1.5-.1 1.5-1 1.5 .1 1.5 .1 1.5 .2 1.5-.7 1.5 .7 1.5-.2 1.5 1.1 1.5-1.2 1.5 1 1.5-1.4 1.5 .2 1.5 1.3 1.5-.3 1.5 1.5 1.5-.8 1.5-2.1 1.5 .3 1.5 .8 1.5-.8 1.5 1.8 1.5-1.1 1.5 0 1.5-.4 1.5 .1 1.5-.1 1.5 .4 1.5 0 1.5-.4 1.5 .2 1.5-.3 1.5 .5 1.5-.4 1.5 .3 1.5 1.2 1.5-.8 1.5 .5 1.5-1.1 1.5-.7 1.5 .5 1.5 .6 1.5-1.2 1.5 .9 1.5-1.3 1.5 1.4 1.5 .5 1.5-.9 1.5-.3 1.5 1.6 1.5 0 1.5-1.4 1.5 1 .9-.5 .3-.2 .3-.2 .1 0 .4 0 .3 0 .4 0 .3 0 .3-.1 .4-.2 .3-.1 .4-.2 .1 0 .2 0 .4-.1 .4 0 .3-.1 .2 0 .2-.1 .3-.3 .3-.6 .4-1.1 .3-1.6 0-.3 .4-2.5 .3-2.4 .4-1.7 .4-.9 0-.1 .3-.2 .4-.1 .3 0 .3 .1 .2 0 .2-.1 .3-.2 .4-.3 .3-.2 .3-.1 .1 0 .4 0 .3 0 .4 0 .3 0 .3 .3 .4 .4 .3 .3 .4 .4 .1 .1 1.5-.7 1.5 .1 1.5 .5 1.5-.7 1.5 1 1.5-.6 1.5 0 1.5-.3 1.5 .5 1.5-.2 1.5-.4 1.5 .8 1.5-.2 1.5-.3 1.5-.3 1.5 .6 1.5 .4 1.5-1.1 1.5-.3 1.5 2.2 1.5-1.4 1.5 1.1 1.5 .6 1.5-1.1 1.5 .9 1.5-3 1.5 2 1.5-1 1.5 .2 1.5 0 1.5-.2 1.5-.9 1.5 1.1 1.5-.2 1.5-.8 1.5 .2 1.5-.1 1.5 .3 1.5-.6 1.5-.1 1.5-.1 1.5-.2 1.5 1.8 1.5-.9 1.5 1.3 1.5-.9 1.5 1.3 1.5 .1 1.5-.1 1.5 .1 1.5 0 1.5-.8 1.5 .5 1.5-.7 1.5-.5 1.5 1 1.5-.7 1.5-.5 1.5 .2 1.5 .2 1.5-.2 1.5-.8 1.5 .9 1.5-.2 1.5 1.3 1.5-.4 1.5 .1 1.5-.1 1.5 .4 1.5 0 1.5-1.1 1.5 1.3 1.5-.3 1.5-.1 1.5 0 1.5-.3 1.5-.2 1.5-1.6 1.5 .8 1.5-.8 1.5 .8 1.5 .6 1.5 .6 1.5-1 1.5 .2 1.5-.4 1.5-1.7 1.5 1.2 1.5 .6 1.5 0 1.5 1.4 1.5 .6 1.5-1.2 1.5 .5 1.5 .4 1.5-1.3 1.5 .6 1.5 .5 1.5-1.1 1.5 .1 1.5 1.4 1.5-.8 1.5-.2 1.5-.6 1.5 .1 1.5 1.3 1.5-1.3 1.5 .3 1.5 .8 1.5-1.6 1.5-.1 1.5 .8 1.5-.6 1.5 .8 1.5 .4 1.5 .2 1.5-.6 1.5-.7 1.5-.5 1.5-.9 1.5 1.7 1.5 .1 1.5-.2 1.5 0 1.5 1 1.5-1.3 1.5 .6 1.5-.9 1.5 .5 1.5-.2 1.5 .6 1.5 .7 1.5 .3 1.5-1.4 1.5-.6 1.5 .4 1.5 1.5 1.5-.8 1.5 1 .4 0 .3 0 .4 0 .4 0 .3 0 .4 0 .3 0 .3 0 .2-.1 .2-.2 .3-.3 .4-.3 .3-.4 .3-.2 .1-.1 .4-.1 .3-.1 .4 0 .3 0 .3 .6 .4 1.1 .3 1.9 .4 2.6 .1 .8 .2 1.5 .4 1.5 .4 .7 .3 .2 .2 0 .2 .2 .3 .4 .3 .4 .4 .3 .3 .3 0-.1 .4-.3 .3-.3 .4-.3 .4-.3 0-.1 .3 .3 .4 .2 .3 .3 .3 .3 .2 .1 .2-.1 .3-.2 .4-.2 .6-.3 1.5 1.5 1.5-.5 1.5 1 1.5-1.2 1.5 .5 1.5 .4 1.5 .5 1.5-.8 1.5-.5 1.5-1 1.5 1.1 1.5 .3 1.5 .2 1.5 .2 1.5-.7 1.5-.3 1.5 .4 1.5-1.2 1.5 1.4 1.5 .5 1.5-.1 1.5 .5 1.5 .3 1.5 .9 1.5 0 1.5 .3 1.5-1.1 1.5-.9 1.5 .3 1.5-.5 1.5 .2 1.5-.1 1.5 0 1.5 .1 1.5-1 1.5 1.5 1.5 .3 1.5-1 1.5-.7 1.5 .1 1.5 .6 1.5-1.3 1.5 .9 1.5-.2 1.5-.7 1.5 .2 1.5 .2 1.5-1.4 1.5 1.5 1.5-1.1 1.5 1.5 1.5 .9 1.5-.5 1.5 .2 1.5-.5 1.5-2 1.5 1.3 1.5 1.4 1.5-1.9 1.5 1.6 1.5-.4 1.5 .5 1.5-1 1.5-.1 1.5-.5 1.5 1.3 1.5-1.5 1.5 1 1.5-.4 1.5-.3 1.5-.9 1.5 .8 1.5 1.2 1.5-1.8 1.5 1.3 1.5-1.2 1.5 .6 1.5 .4 1.5-1 1.5 1.1 1.5 .9 1.5 .2 1.5-.7 1.5 .2 1.5 .8" fill="none" stroke="#c2c6ff" stroke-width="2.4" stroke-linejoin="round"/>
<path d="M1467 779.8l1.5 .1 1.5 .3 1.5-.7 1.5 1.2 1.5-.6 1.5 1.6 1.5-2 1.5 .2 1.5 .9 1.5 .1 1.5-.3 1.5 .3 1.5 .2 1.5 0 1.5-1.1 1.5-.5 1.5 .3 1.5 .4 1.5 .4 1.5-.1 1.5-.4 1.5 .1 1.5-.7 1.5-.4 1.5 .5 1.5-.2 1.5-.3 1.5 .7 1.5-.6 1.5-.1 1.5-.2 1.5 1.1 1.5-1.5 1.5 .4 1.5 .7 1.5 .6 1.5 .2 1.5-.4 1.5-.5 1.5 .9 1.5-1 1.5 1 1.5 .2 1.5 .5 1.5-.5 1.5-1.4 1.5 1.1 1.5 .2 1.5-.1 1.5 1.5 1.5-1.3 1.5 .1 1.5-.6 1.5-.2 1.5 1.9 1.5-1 1.5 1.7 1.5-1.2 1.5-.1 1.5-.7 1.5 .2 1.5-1.4 1.5 1 1.5 .1 1.5-.2 1.5-.3 1.5-1 1.5 1.5 1.5-.7 1.5 0 1.5 .8 1.5 .7 1.5-1 1.5 .1 1.5-.3 1.5 0 1.5-.2 1.5 .7 1.5-.1 1.5-1 1.5 .4 1.5-.3 1.5 .9 1.5-.7 1.5 .6 1.5 .5 .5 0 .3 .1 .4 0 .3 .1 .4-.3 .3-.2 .4-.2 .4-.2 .3 0 .4 0 .3 0 .3 0 .2-.1 .2 0 .3 0 .4-.1 .3-.2 .3-.2 .1 0 .4-.3 .3-.6 .4-1.1 .3-1.4 .3-1.8 .4-1.4 .3-1 .4-.6 .1-.1 .2-.4 .4-.4 .4-.4 .3-.3 .2-.2 .2 .2 .3 .3 .3 .4 .4 .4 .3 .3 0-.1 .4-.2 .3-.2 .4-.3 .4-.2 0-.1 .3 .2 .4 .1 .3 .2 .5 .2 1.5 .8 1.5-.9 1.5-.5 1.5 .9 1.5-.1 1.5-1.1 1.5 2.2 1.5-.8 1.5-.5 1.5-.9 1.5 .1 1.5-1.1 1.5-.3 1.5 .3 1.5 1 1.5 .2 1.5 .1 1.5-.5 1.5 0 1.5 0 1.5-.1 1.5-.9 1.5 1.4 1.5-.1 1.5 .1 1.5 .6 1.5-1.1 1.5-1 1.5 1.2 1.5 .4 1.5 .2 1.5-.3 1.5 0 1.5-1.4 1.5 .2 1.5 1.6 1.5 .1 1.5 .1 1.5 .4 1.5 .2 1.5-.7 1.5-.1 1.5-.6 1.5 .6 1.5-.1 1.5 .6 1.5-.2 1.5-.8 1.5-.4 1.5 .6 1.5 .2 1.5 0 1.5 .2 1.5 .2 1.5-.2 1.5-.3 1.5 .5 1.5 .2 1.5-.6 1.5 .5 1.5 .3 1.5-1.8 1.5 2.1 1.5 0 1.5 .4 1.5-1 1.5-.6 1.5-.1 1.5-.4 1.5-.8 1.5 1.9 1.5-.1 1.5 .3 1.5-.5 1.5 .8 1.5-.9 1.5 .3 1.5-.9 1.5 .6 1.5-.4 1.5 .8 1.5-1.6 1.5-.1 1.5 2.1 1.5 .4 1.5-1 1.5-.7 1.5-.5 1.5 1.3 1.5-.2 1.5-.2 1.5 .2 1.5 .3 1.5 .2 1.5-1.7 1.5 .4 1.5 1.6 1.5-.8 1.5 .1 1.5 1 1.5 .2 1.5-.7 1.5-.3 1.5 0 1.5-.1 1.5 .1 1.5 1.1 1.5 0 1.5-.4 1.5-.9 1.5-.9 1.5 0 1.5-.1 1.5-.8 1.5 1.7 1.5-1.8 1.5 1 1.5 1.3 1.5 .2 1.5-1.4 1.5 1.8 1.5-2.2 1.5 1.3 1.5-.4 1.5 .9 1.5-1.4 1.5 .6 1.5-.8 1.5 1.7 1.5-.7 1.5-.9 1.5 .3 1.5-.1 1.5 1 1.5-.4 1.5 1.2 1.5-.1 1.5 .1 1.5-1.1 .3-.4 .4-.3 .3-.4 .3-.4 .2-.1 .2 .1 .3 .2 .4 .1 .3 .2 .3 .2 .1 0 .4 .3 .3 .3 .4 .2 .3 .3 .3-.2 .4-.1 .3-.1 .4 .1 .1 .1 .2 .3 .4 .9 .4 1.3 .3 1.7 .2 1 .2 .8 .3 1.7 .3 1.1 .4 .7 .3 .4 0 .1 .4 .1 .3 0 .4 .1 .4-.1 .3 .2 .4 .2 .3 .1 .3 .2 .2 .1 .2 0 .3 .1 .4 .1 .3 .2 .3 0 .1 0 .4 0 .3-.1 .7-.1 1.5-.3 1.5-.6 1.5 .5 1.5-.9 1.5 .8 1.5 0 1.5-.7 1.5 .2 1.5 .1 1.5-1.2 1.5 .7 1.5 .1 1.5-.5 1.5 1.2 1.5 1 1.5-.4 1.5 0 1.5-.6 1.5-.8 1.5 .7 1.5-.8 1.5 .9 1.5-.2 1.5 .6 1.5 1.1 1.5-.9 1.5-.1 1.5-.7 1.5 0 1.5 .1 1.5-.3 1.5 .4 1.5-.1 1.5 .4 1.5 .2 1.5-1.9 1.5 1.8 1.5-1.4 1.5-.4 1.5 .8 1.5-.2 1.5 .2 1.5 1.6 1.5-1 1.5-.7 1.5 1.3 1.5-1.1 1.5 1.1 1.5 .2 1.5-1.2 1.5-.1 1.5 .5 1.5 .2 1.5-.6 1.5 .3 1.5 1 1.5 .7 1.5-.1 1.5-.1 1.5-.9 1.5 .3 1.5-1.4 1.5 .4 1.5-.2 1.5 .6 1.5 1.1 1.5-1.7 1.5 .8 1.5 0 1.5-1.9 1.5 2.2 1.5-.1 1.5-1.2 1.5 0 1.5 .3 1.5 1.3 1.5-.3 1.5-1 1.5 .2 1.5 1.1 1.5-.9 1.5 .6 1.5-.7 1.5 1.1 1.5-.1 1.5-.5 1.5 .5 1.5 .1 1.5-.6 1.5-.3 1.5 0 1.5-.2" fill="none" stroke="#c2c6ff" stroke-width="2.4" stroke-linejoin="round" stroke-dasharray="2.6 2.2"/>
<path d="M1467 842.2l1.5-1 1.5 1.2 1.5 .6 1.5-1 1.5-1 1.5 .2 1.5-.1 1.5 1.2 1.5-1.6 1.5-.6 1.5 .8 1.5 .2 1.5 0 1.5-.9 1.5 2.6 1.5-.7 1.5-1.1 1.5 0 1.5 .1 1.5-.6 1.5 .2 1.5 .8 1.5 .2 1.5 .4 1.5-.3 1.5 .4 1.5-1.1 1.5 .9 1.5-.6 1.5 .8 1.5 .2 1.5 .6 1.5-.1 1.5 .1 1.5-1 1.5-.2 1.5 .2 1.5-.6 1.5-.5 1.5 1.1 1.5-.3 1.5 .5 1.5 .7 1.5-1.3 1.5 1.1 1.5 .7 1.5 .4 1.5-2.3 1.5 .9 1.5-2 1.5 .6 1.5-.1 1.5 1.1 1.5-.2 1.5 .5 1.5 1.3 1.5-2.1 1.5 .8 1.5-.3 1.5 .4 1.5 .6 1.5 .2 1.5-.8 1.5 .2 1.5 .5 1.5-.3 1.5 .5 1.5-.9 1.5-.4 1.5-.2 1.5 .2 1.5-.5 1.5 .1 1.5 .4 1.5-.7 1.5 .3 1.5 1.9 1.5-.5 1.5 .7 1.5-.2 1.5-.4 1.5-.1 1.5 0 1.5 0 1.5-.6 1.5-1 1.5-.2 1.5 .1 1.5 .2 1.5 .5 1.5 0 1.5-.3 1.2-.5 .3-.1 .4 .1 .3 .2 .4 0 .4 .1 .3-.2 .4-.4 .3-.4 .3-.5 .2-.2 .2-.4 .3-.8 .4-1 .3-1.1 .3-.8 .1-.4 .4-1.2 .3-1.4 .4-1.6 .3-1.7 .3-2 .4-2 .3-2 .4-2 .1-.6 .2-1.3 .4-1.8 .4-1.6 .3-1.4 .2-.8 .2-.5 .3-1 .3-.9 .4-.7 .3-.5 0-.1 .4-.5 .3-.4 .4-.4 .4-.2 0-.1 .3 0 .4 0 .3 0 .3 0 .2 0 .2 .1 1.3 .3 1.5-.3 1.5-.1 1.5 0 1.5-.1 1.5 .3 1.5-1.5 1.5 1.3 1.5 .1 1.5-.9 1.5 .9 1.5 .7 1.5-.1 1.5 .2 1.5-.7 1.5-.7 1.5 .8 1.5-.2 1.5 .9 1.5 .1 1.5-.3 1.5 0 1.5-1.3 1.5 .3 1.5 .7 1.5-.7 1.5-1.7 1.5 1.8 1.5-.1 1.5-.3 1.5-.1 1.5 .8 1.5-.3 1.5 .5 1.5 .4 1.5-.1 1.5-.7 1.5 .5 1.5-1.7 1.5 1 1.5-1 1.5 .6 1.5 .2 1.5 0 1.5 1.1 1.5 1.1 1.5-1.8 1.5-.1 1.5 .1 1.5 .1 1.5-.6 1.5 .2 1.5-1.3 1.5 1.5 1.5-1.1 1.5 1.2 1.5-.1 1.5-.8 1.5 .5 1.5 .2 1.5 .7 1.5-.6 1.5 .9 1.5-.4 1.5 .4 1.5-1.6 1.5 .5 1.5-.2 1.5 .8 1.5-.6 1.5 .7 1.5-.8 1.5 .2 1.5 .3 1.5-.2 1.5-.3 1.5 .2 1.5 .1 1.5-.2 1.5 .7 1.5 .3 1.5 .9 1.5-.2 1.5-.6 1.5-.4 1.5-.8 1.5 0 1.5 1.4 1.5-.9 1.5 2 1.5-1 1.5-.6 1.5 .1 1.5-1.1 1.5 1.4 1.5-1.4 1.5-.6 1.5 .4 1.5 .3 1.5 1.1 1.5-1 1.5 .4 1.5 .5 1.5 0 1.5-.8 1.5 .5 1.5-.4 1.5-.6 1.5 0 1.5 1.3 1.5-1.5 1.5-.1 1.5 1.4 1.5 0 1.5-.6 1.5 .6 1.5-1.4 1.5 1.2 1.5-1.8 1.5 .8 1.5 .8 1.5 0 1.5 0 .1 0 .4 0 .3 .1 .4 0 0 .1 .3 0 .4 0 .3 0 .1 0 .3 0 .3 0 .1 0 .3 .1 .3 .1 .1 0 .3 0 .3 .1 .1 0 .1 0 .2-.2 0-.1 .3-.4 .1 0 .3-.4 0-.1 .3-.4 .1 0 .2-.3 .1 0 0 .1 .3 .2 0 .1 .1 0 .3 .7 0 .1 0 .1 .3 1.4 .1 .2 0 .2 .3 2.4 0 .3 0 .3 .3 2.6 0 .2 .1 .2 .3 1.3 .3-1 0-.2 .1-.2 .3-2.4 0-.3 0-.2 .1-.6 .2-1.9 0-.2 .1-.2 .3-1.5 0-.1 0-.1 .3-.8 .1-.1 .3-.4 .2-.2 .1 .2 .1 0 0 .1 .3 .4 .3 .4 0 .1 .1 0 .3 .4 0 .1 .3 .3 .1-.1 .3-.3 0-.1 .3-.4 .1-.1 .3-.4 0-.1 .3-.3 0-.1 .1 0 .3 0 0 .1 .3 .1 .1 0 .3 .1 .3 .1 .1 0 .1 0 .2 .1 .4 0 .3 .1 .4 .1 .2 0 1.5 .4 1.5 .4 1.5-.1 1.5-1.6 1.5 1.1 1.5 .3 .4-.4 .3-.2 .4-.3 .4-.3 .3 .2 .4 .3 .3 .3 .3 .3 .2 .1 .2 .2 .3 .3 .4 .3 .3 .3 .3 .3 .1-.1 .4-.1 .3-.1 .4 0 .3 .4 .3 1.6 .4 3 .3 5.3 .4 7.4 .1 2.2 .2 4.8 .4 4.7 .4 2.4 .3 .9 .2 .2 .2 .2 .3 .3 .3 .1 .4 .1 .3 0 0 .1 .4 .2 .3 .2 .4 .1 .4 .2 0 .1 .3-.3 .4-.4 .3-.4 .3-.3 .2-.2 .2 .2 .3 .3 .4 .3 .6 .6 1.5 .4 1.5 .2 1.5-.5 1.5-.7 1.5-.5 1.5-.8 1.5-.7 1.5 .6 1.5-.3 1.5 0 1.5 1.3 1.5 .7 1.5-.4 1.5 .8 1.5-.3 1.5-.4 1.5 .9 1.5-.1 1.5-.4 1.5 .7 1.5 .2 1.5-.1 1.5-.3 1.5-.8 1.5 .1 1.5-.5 1.5 .3 1.5-.1 1.5-.1 1.5 .1 1.5 .6 1.5-1.3 1.5 1.8 1.5-1.4 1.5-.7 1.5 1 1.5 .4 1.5-1.4 1.5 2.6 1.5-1.1 1.5-.1 1.5-.4 1.5-.3 1.5 .6 1.5-1.1 1.5 1.6 1.5 1.7 1.5-.8 1.5-1.6 1.5-1.1 1.5 1.7 1.5-.6 1.5-.2 1.5 .8 1.5-1 1.5 2.1 1.5-2.9 1.5 .7 1.5 .1 1.5 1.2 1.5-.8 1.5 .2 1.5-.8 1.5 .6 1.5 .1 1.5-.3 1.5 .7 1.5 1.2 1.5 .1 1.5 .1 1.5-1.3 1.5 2.2 1.5-1.4 1.5-1.5 1.5-.4 1.5 1.7 1.5-1 1.5 1.8 1.5-.3 1.5-1 1.5 1.2 1.5-1.6 1.5-.6 1.5-.2 1.5 .7" fill="none" stroke="#ffc0c0" stroke-width="2.4" stroke-linejoin="round"/>
<path d="M1467 841.8l1.5-.8 1.5 .9 1.5 .5 1.5 .7 1.5-.7 1.5-.2 1.5-.2 1.5 .4 1.5-1 1.5-.9 1.5 1 1.5-.7 1.5 1.4 1.5 .3 1.5-1.8 1.5 .4 1.5-.1 1.5 1.1 1.5-.6 1.5-.2 1.5 .8 1.5-1.5 1.5 .5 1.5-1.2 1.5 1.9 1.5 .7 1.5 .4 1.5-1.5 1.5 .4 1.5-.8 1.5-.8 1.5-.2 1.5 1 1.5 .1 1.5 .4 1.5-1.4 1.5 .6 1.5-.3 1.5 0 1.5 .7 1.5 .6 1.5 .4 1.5-.8 1.5 .4 1.5-.6 1.5-.7 1.5 .6 1.5-.5 1.5 1.7 1.5-2.3 1.5 1.5 1.5 .7 1.5-1.2 1.5 2 1.5-1 1.5-.1 1.5-.7 1.5 .9 1.5 .5 1.5-.6 1.5 .6 1.5-1.4 1.5-.6 1.5 .9 1.5 1.4 1.5-1.6 1.5 0 1.5 0 1.5 1.3 1.5-1.4 1.5 1.8 1.5-.3 1.5 .2 1.5-.8 1.5-.3 1.5-.1 1.5-.2 1.5 .7 1.5 .1 1.5-1.1 1.5 1.1 1.5-.9 1.5 1.7 1.5-1 1.5 .6 1.5 .5 .5-.6 .3-.3 .4-.4 .3-.3 .4 0 .3 .1 .4 0 .4 .1 .3 0 .4 .1 .3 .1 .3 0 .2 .1 .2-.2 .3-.3 .4-.4 .3-.7 .3-.7 .1-.4 .4-1.6 .3-3 .4-4.4 .3-5.6 .3-5.7 .4-4.6 .3-3.1 .4-1.8 .1-.4 .2-.6 .4-.4 .4-.2 .3-.1 .2 0 .2 .1 .3 .1 .3 .2 .4 .2 .3 .2 .4-.1 .3-.1 .4-.1 .4-.1 .3-.2 .4-.3 .3-.2 .5-.4 1.5 1.1 1.5-.4 1.5 1 1.5 1.2 1.5-.3 1.5 .3 1.5-1.1 1.5 .3 1.5 .6 1.5 0 1.5-2.1 1.5 .8 1.5-.1 1.5 .6 1.5 .1 1.5-.4 1.5 .8 1.5-.5 1.5-.5 1.5-.6 1.5 0 1.5-.6 1.5 1 1.5-.3 1.5-.7 1.5 0 1.5 1.3 1.5 1 1.5-1.4 1.5 0 1.5-.4 1.5-1 1.5-.7 1.5 .3 1.5 1.4 1.5 .4 1.5 .6 1.5-.7 1.5-.7 1.5 1 1.5 1 1.5-1.9 1.5 2.1 1.5-2.2 1.5 .1 1.5-.1 1.5 .2 1.5 .1 1.5 .1 1.5 .2 1.5-.9 1.5 1.1 1.5 0 1.5 .4 1.5 .8 1.5-.2 1.5 .3 1.5-.3 1.5-1.3 1.5 .3 1.5-.7 1.5 1.2 1.5 1 1.5-1.4 1.5 .5 1.5-.1 1.5 .1 1.5-.6 1.5-.4 1.5 0 1.5 1.8 1.5-.9 1.5 0 1.5-.7 1.5-.7 1.5 .3 1.5 .2 1.5 0 1.5 .1 1.5-.1 1.5 .1 1.5 .9 1.5-.6 1.5 .5 1.5-1.8 1.5 .5 1.5-.1 1.5 .4 1.5 .2 1.5-.4 1.5-.5 1.5-.1 1.5 .2 1.5 1.3 1.5 1.2 1.5-1.4 1.5-.1 1.5-.1 1.5 .9 1.5 .4 1.5-1.9 1.5 1.2 1.5-1 1.5 1.2 1.5-.9 1.5-.5 1.5 1.5 1.5 .4 1.5-1.7 1.5 .5 1.5 .5 1.5-.5 1.5 .3 1.5 .1 1.5 .9 1.5-.5 1.5-.8 1.5-1.6 1.5 1.1 1.5-1 1.5 2.7 1.5-1.1 1.5 .7 1.5 .4 1.5 1 1.5-1 1.5 .3 1.5-.5 1.5 .1 1.5 .1 1.5 0 1.5 .4 1.5-1.9 1.5 2.4 1.5-1.1 1.5-.3 1.5 1.3 1.5-2.6 1.5 .1 .3 .3 .4 .4 .3 .4 .3 .3 .2 .2 .2-.2 .3-.2 .4-.2 .3-.2 .3-.1 .1 0 .4 .3 .3 .3 .4 .5 .3 .6 .3 .4 .4 .7 .3 1.1 .4 1.5 .1 .5 .2 1.7 .4 2.8 .4 3.1 .3 3.4 .2 2 .2 1.4 .3 3 .3 2.6 .4 2.1 .3 1.4 0 .3 .4 1.7 .3 1.3 .4 1.1 .4 .8 0 .2 .3 .3 .4 .3 .3 .2 .3 .1 .2 .1 .2-.1 .3-.1 .4-.1 .3-.1 .3-.1 .1 .1 .4 .2 .3 .2 .7 .4 1.5 .6 1.5-1.6 1.5 .9 1.5-1.3 1.5 0 1.5 .9 1.5 0 1.5 1.8 1.5-1.5 1.5-.3 1.5 .8 1.5-2.7 1.5 1.2 1.5 .5 1.5 .2 1.5 1.1 1.5-.2 1.5-.8 1.5 1.1 1.5-1.2 1.5 .1 1.5-.5 1.5 .5 1.5-.9 1.5 .4 1.5 .2 1.5-1.2 1.5-.2 1.5 1 1.5-.1 1.5-.5 1.5 1.1 1.5-.1 1.5-.1 1.5 .7 1.5-.9 1.5-1.5 1.5 .1 1.5 .1 1.5 .1 1.5 1.7 1.5-.4 1.5-1.9 1.5 0 1.5 1.8 1.5-.5 1.5 .1 1.5-.4 1.5 .5 1.5-.3 1.5 .2 1.5 .2 1.5 .5 1.5-.7 1.5 .2 1.5-.4 1.5 .5 1.5 1.3 1.5 1.3 1.5-1.3 1.5 .1 1.5 1.2 1.5 .4 1.5-1.3 1.5-.6 1.5-.9 1.5 .7 1.5 .1 1.5 .2 1.5 .2 1.5 .9 1.5-.5 1.5-.8 1.5 2.3 1.5-1.2 1.5-1.3 1.5-.3 1.5-.3 1.5 .4 1.5-.3 1.5 1.3 1.5 .2 1.5-1.9 1.5-.8 1.5 .1 1.5 .7 1.5-.8 1.5 1.8 1.5 .5 1.5 1.1 1.5 .4 1.5-.6" fill="none" stroke="#ffc0c0" stroke-width="2.4" stroke-linejoin="round" stroke-dasharray="2.6 2.2"/>
<path d="M1467 919.8l1-.7 1 .4 1-2.1 1 2.6 1-2.2 1 .5 1-1.1 1 .1 1 1.9 1-2.3 1 .5 1-.4 1 0 1 2.5 1-.2 1 1.5 1-1.6 1 .4 1-.1 1-.5 1 1.6 1-2.7 1 2 1-1.2 1 2 1-1 1 .6 1-3 1 .6 1-.6 1-.8 1 .7 1 2.7 1-1.5 1 1.9 1-1 1-.7 1-.4 1 .9 1-1.4 1 1.2 1 .6 1-1.6 1-.1 1 2.2 1-2.2 1 1.9 1 .6 1-.5 1-1.3 1 .4 1-.3 1-1 1-1.9 1 2.7 1 2.3 1-2.4 1-.5 1 1.2 1-1.6 1-.4 1 1.3 1 .7 1-1.5 1 4.3 1-4.1 1-1.8 1 3 1-.3 1-1 1 1.7 1-2.7 1 2.9 1-1.4 1-.1 1-.3 1 0 1-1 1 .4 1 3.5 1-.1 1-1.5 1 .1 1 1.5 1-2.7 1-1.5 1 .4 1 2.1 1-5.2 1 3.7 1 1.6 1-3.1 1 1.3 1 3.8 1-2.7 1 .7 1-2.5 1-.2 1-.9 1 1.8 1 .6 1 .3 1-1.7 1 2.8 1-2.3 1 1.1 1 1.6 1-1.7 1 1.7 1-1.1 1-.2 1-1.8 1 .1 1 1.3 1 2.5 1-4.7 1 .9 1 .3 1 .3 1 1.9 1 1.4 1-.9 1-1 1 .6 1-1 1-1.6 1 3.9 1-.8 1-3.6 1 3.6 1 .1 1-1 1-1.4 1 2.9 1-.7 1-3.5 1 .9 1 .9 1 .3 .3-.4 .4-.5 .3-.4 0-.1 .4-.2 .3-.4 .3-.3 .1 .1 .4 .3 .3 .1 .2 0 .2-.7 .3-1.9 .3-2.2 .2-1 .2-.4 .3-1 .4-1.4 .1-.5 .2-2.1 .4-3.3 .4-3.6 0-.6 .3-3 .4-3.8 .3-3.9 .3-4.6 .4-4.5 .3-3.7 0-.4 .4-2.6 .3-2.3 .3-1.4 .1-1 .4-3.1 .3-2.7 .2-1.4 .2-.4 .3-.6 .3-.4 .2-.2 .2-.6 .3-.9 .4-.8 .1-.2 .2-.6 .4-.8 .4-.7 0-.1 .3 0 .4 0 .3 .1 1-1.5 1 .3 1 .6 1-1.9 1 5 1-1.7 1 2.3 1-3.9 1 2.8 1-2.4 1-.9 1 3.2 1 .3 1-1.3 1 1.6 1-3 1 1 1 .4 1-1.1 1-2.4 1 2 1 2.9 1-2.5 1-3.4 1 4.6 1-2 1 2.7 1-2.3 1 0 1 1.3 1-.1 1 1.2 1-2.8 1 .3 1 .9 1 1.1 1-1.2 1 .6 1-1.5 1 3.8 1 .4 1-.4 1-4 1 .3 1 1.7 1-.3 1 .2 1-1.8 1 3.3 1-1.2 1-2.1 1 1.8 1-.2 1-1.4 1 .8 1 1 1 1.4 1 1.4 1-3.3 1-.6 1 .8 1 1.4 1-.4 1-1.5 1-.9 1-.6 1-1 1 2.5 1 .4 1 1.9 1 .4 1-1.9 1-1 1 .9 1-1.1 1-1.2 1 .3 1 1.6 1 .2 1-.2 1 .4 1-1 1 2.7 1-1.4 1-1.7 1 1.7 1-.2 1-.5 1 1.4 1-1.3 1-.7 1 4.2 1-.6 1-1.8 1 .3 1 1.2 1-.3 1-3.5 1 1.1 1 2.4 1 .1 1-3 1-2.5 1 2.8 1 2.4 1-.1 1-3.4 1 3.7 1 1.5 1-5.4 1 .7 1 .3 1-.3 1-.3 1 1.7 1-1.8 1-1.9 1 4.6 1-2.2 1-.5 1 .5 1-2.8 1 .9 1 .8 1 1.7 1-1.2 1 1.2 1-.1 1 3 1-5.3 1 .1 1 .7 1 1.1 1 1.2 1-.8 1-.3 1-2.2 1 4.4 1-3.9 1-1.5 1 2.8 1-1 1-.4 1 1.6 1-3.1 1 .7 1 1.5 1 2.7 1-.4 1 .6 1-1.1 1 1 1 .4 1-2.6 1 1.9 1 .4 1-.3 1 .1 1 1.4 1-3.2 1 .8 1-1.6 1 .5 1 1.4 1-2.1 1 2.7 1-.2 1-2.4 1 .8 1 3.8 1-1.8 1 2.9 1-3.9 1 .6 1-2 1-1.2 1 .4 1 1 1 .2 1-.3 1-2.3 1 2.5 1 .8 1-.5 1 2.5 1 .2 1-.6 1-2.3 1-2.1 1 5.8 1-6.2 1 .4 1 1.8 1 .9 1-1.3 1 3.3 1-1.8 1-1.1 1 2.6 1-.8 1-.8 1-.5 1-1.1 1 .3 1 1.6 1-1.1 1 1.2 1-1.1 1 2.3 1-1.4 .4-.2 .3-.2 .3-.2 .1 .3 .4 .7 .3 .8 .2 .4 .2 0 .3-.2 .3-.2 .2-.1 .2-.4 .3-.8 .4-.7 .1-.2 .2-.3 .4-.4 .4-.2 .3 .9 .4 1.5 .3 2.5 .3 3.1 .4 5.6 .3 7.2 0 1.5 .4 12 .3 12 .3 7.3 .1 2.1 .4 5.5 .3 3.1 .2 1 .2 .5 .3 .6 .3 .1 .2 0 .2 .1 .3 0 .4 0 .1-.1 .2 .1 .4 0 .4 .1 .3 1.4 .4 1.6 .3 1.6 .3-1.4 .4-1.4 .3-1.2 0 .1 .4 .3 .6 .6 1 0 1 1.2 1-1.3 1-2 1 2.6 1-1 1-1.8 1-2 1 1.2 1 0 1 2.6 1-2.5 1-1.3 1 2.6 1-1.2 1 .3 1-2.4 1 3.2 1 .8 1 0 1-.1 1 1.4 1 1.3 1-2.8 1 1.1 1-3.2 1 2.9 1-.7 1 1.5 1-1 1-1.9 1 1.8 1-.5 1-.9 1 .5 1-.1 1 .2 1-.2 1 .5 1 4.1 1-4.2 1 .1 1-.4 1-.3 1 1.9 1 1.4 1-4.4 1 2.5 1-2.5 1 1.1 1-.5 1 .7 1-.8 1 .3 1 1 1-.6 1 3.5 1-3 1-1.2 1 .5 1 5 1-4 1-2.5 1 1 1 .6 1 0 1 2.4 1-1.5 1 .6 1-.4 1-.4 1 1.2 1-1.6 1-1.2 1 .1 1-.1 1 2.2 1-.3 1 2.3 1-3.8 1 1.2 1-2 1 2 1-1.3 1-1.1 1 .8 1-1.9 1 1.1 1 .4 1 1.3 1 .2 1 1.2 1-.6 1-1 1 1 1 1.2 1-.6 1 1.3 1 .1 1-.9 1-.4 1-.1 1 1.1 1-1.7 1 2.4 1-2.2 1-2.8 1 2.2 1-1.6 1 2.6 1-1.3 1 1.9 1 0 1 1.7 1-4.2 1 1.7 1-.4 1 1.8 1-.7 1-.5 1 1.7 1 .8 1-3 1 2 1-.7 1-3.2 1 .4 1 .4" fill="none" stroke="#ff6464" stroke-width="2.7" stroke-linejoin="round"/>
<path d="M1467 920.3l1-.5 1-1.9 1-.9 1 3 1-3.3 1 2.9 1 1.2 1-2.6 1 .7 1-.8 1 .4 1-1.8 1 3.1 1-1.7 1 .8 1-1 1-2.5 1 .7 1 .5 1 2.6 1-.6 1-.1 1-1 1 2.7 1-.2 1-.8 1-.1 1 0 1 1.4 1 .6 1-2.1 1 .7 1 .2 1-.3 1-2 1 3.9 1-1.2 1-1.1 1-1 1-.6 1-1.4 1 3.2 1-.4 1-1.7 1 1.6 1-.2 1-.9 1 1.7 1-1.9 1 1.5 1 3.4 1-1.6 1-2.5 1 1.1 1 .3 1 .8 1-1.6 1 1 1-1.6 1 .7 1-1.2 1-2.1 1 3.5 1 .8 1-.2 1-.8 1-1.8 1 1.8 1 .2 1 .6 1-1.6 1 1.9 1-2.3 1-.7 1 .4 1-2.3 1 2.9 1 .7 1-1 1 .7 1 .1 1 1.5 1-.7 1-.4 1 1.2 1-3.6 1-.5 1 1.7 1 .9 1 .2 1-.4 1 3.3 1-3.8 1 1.2 1-1.6 1-.4 1 1.6 1-.5 1 4.6 1-2.5 1-1.1 1-2.4 1 1.6 1-1.3 1-.6 1 2.8 1 1.7 1-2 1-1.2 1 .3 1 .5 1 1.8 1-1.5 1 .1 1-.2 1 2.5 1-2.7 1-2.3 1 1.6 1 1.5 1-2 1 3.3 1-1.2 1 2.8 1-5 1-.4 1 3.7 1-3.1 1 1.2 .5-.1 .3-.1 .2-.1 .2 .4 .3 .8 .4 .8 .1 .2 .2-.5 .4-.6 .4-.6 0-.1 .3 .5 .4 .6 .3 .5 .3-.4 .4-.5 .3-.5 0-.1 .4-.8 .3-1.2 .3-1.4 .1-.5 .4-3.1 .3-5.5 .2-4.4 .2-4.5 .3-11.9 .3-11.9 .2-4.5 .2-4.4 .3-5.4 .4-3 .1-.6 .2-1.3 .4-1.1 .4-.7 0-.1 .3 0 .4 0 .3 .1 .3 .1 .4 .1 .3 0 0-.1 .4-.8 .3-.9 .3-.6 .1 .3 .4 .9 .3 .9 .2 .5 .2-.1 .3-.3 .5-.5 1-1.3 1-1.4 1 3 1-2.7 1 1 1 2.2 1-3.7 1 4.7 1-2.7 1 .3 1 1.1 1 0 1 1 1-.7 1 1.9 1-.8 1-2 1-1.1 1 1.1 1-1 1 1.3 1 2.5 1 1.4 1-1.7 1 3.1 1-2 1-2.7 1-1.2 1 3 1-2.2 1 1.3 1 1.5 1 .1 1-1.5 1 .2 1-2.8 1 1.1 1-2.3 1 .5 1 1 1-.9 1 1.5 1 .6 1-.6 1 2.5 1-2.6 1 .4 1 2.1 1-2.8 1 1.3 1 1.2 1 .4 1-1.6 1-.8 1 1 1-.3 1 3 1-2.7 1 .1 1-2.5 1 1.6 1 1.6 1-.1 1 1.5 1-1.9 1 .6 1 .1 1 2.3 1-4.2 1 1 1-1.3 1 1.4 1 .7 1-1.4 1 .4 1-.1 1 2.1 1-1.7 1-1.8 1 1.6 1-2.2 1-.3 1 3 1-.1 1-1.2 1-1.7 1 .1 1 1.2 1 1.9 1 .1 1 .5 1-1.3 1 .1 1-1.2 1 1.7 1-.1 1-.5 1 0 1-2.3 1 2.1 1-1.4 1 1.1 1-1.2 1-1 1-.5 1 1.8 1 .2 1 .7 1 .8 1 .6 1-1.6 1 .4 1 .6 1-1 1-.7 1 .4 1-.6 1 .2 1 2.5 1 .4 1-2 1-1.6 1 .7 1 2.7 1-1.2 1 .5 1-2.7 1 1.6 1 .8 1 .2 1 1.2 1-2.4 1-1.4 1 2.5 1-4.2 1 3.7 1-.4 1-1.8 1 2.2 1-1.5 1 2.7 1-2.5 1 1 1 .4 1-.5 1 1.1 1-2.9 1 .5 1 1.9 1-1.4 1 .6 1-2.3 1 3.2 1-1 1 .7 1-.6 1 .4 1 .1 1 1.7 1-2.6 1-.3 1-1.9 1 3.7 1-.6 1-.5 1 1.2 1 .7 1 .4 1-4.2 1 2.9 1-3.2 1 6.8 1-2.2 1-1.9 1-.5 1 1.2 1 1.7 1-3.3 1 2.1 1-1.4 1-.9 1 2.5 1-.5 1 1.3 1 1.6 1-.9 1 .5 1 .7 1-.9 1 1.2 1-2.1 1-1.7 1 1.7 1-.6 1-1.8 1 3 1-1 1-.3 1 1 1 1 1-1.8 1 .4 1-.6 1-2.1 1 1.3 1 0 1-.3 1-.4 .8 .1 .2 0 .2 .4 .3 .9 .3 .9 .2 .4 .2-.2 .3-.2 .4-.2 .1 0 .2-.4 .4-.6 .4-.5 .3-.5 .4-.3 .3-.1 .3 2.6 .4 3.2 .3 3.2 0 .2 .4 2.2 .3 3.1 .3 2.8 .1 1.6 .4 6.1 .3 6.5 .2 3.8 .2 2.8 .3 6.3 .3 5.5 .2 2.1 .2 2.3 .3 3.3 .4 2.4 .1 .6 .2 1 .4 1 .4 .6 .3 .5 .4 .3 .3 .3 .3 1.3 .4 1.2 .3 1.1 0-.2 .4-1.3 .3-1.4 .3-.9 .1 .1 .4 .5 .3 .5 .2 .3 1 2.3 1-1.5 1 .1 1 1.2 1-1.6 1-1.4 1-1.8 1 1.7 1 .5 1 1.5 1-.9 1-.1 1 .9 1 .2 1-.5 1 3.3 1-2.2 1-1.4 1 1 1-2.9 1 1.5 1-.9 1 1.3 1 1.2 1-.4 1 .6 1-1.6 1 4.7 1-3.3 1-.2 1 2 1-1.1 1 .4 1-2.3 1 1.2 1-.2 1 1.3 1-1.8 1-2 1 .8 1 0 1-3.3 1 3.4 1-.6 1 1.4 1-.6 1 .6 1-1.2 1 1.5 1-.6 1-1.4 1 4.6 1-1.7 1-.9 1-3.6 1 1.9 1 1.9 1-.1 1-.7 1 3.4 1-1.4 1-2.8 1 .5 1 3.5 1-2.1 1-2.7 1 4 1-2 1 2.3 1-.6 1 0 1-.4 1 1.2 1 0 1-2.7 1 2.8 1-1.9 1-1.4 1-.6 1-.1 1-1.6 1 2.1 1 2.2 1-4.3 1 1.4 1 1.5 1-.3 1-.3 1 .7 1 .3 1-.5 1-1.3 1 5.1 1-3.7 1 2 1-3 1 .9 1-.6 1 3.8 1-3.7 1 2 1-.7 1 .2 1-.4 1 .2 1 .3 1 1.1 1-1.8 1 .3 1 1 1-.1 1-.4 1 2.3 1-3.4 1-1.7 1 1 1 .9 1 .5 1-1.2 1 2.8 1 0 1-.7 1-3.1 1 2 1 2.6 1-.6 1 0 1-.8 1-.9 1 2.5 1-1.7 1-2.6 1-.2 1 2.6 1 .1 1-1.1 1-1.4 1 .9 1 2.3" fill="none" stroke="#ff6464" stroke-width="2.7" stroke-linejoin="round" stroke-dasharray="2.6 2.2"/>
<path d="M1467 1037.1l1 1.9 1 1.9 1-4.2 1 5.4 1-.1 1 .5 1-4 1-1 1 4 1-8 1 7.7 1-2.8 1 .4 1-.8 1 6.6 1-6.6 1 5.2 1-3.9 1-2 1 3.6 1-1.6 1-.2 1 4.3 1-1 1-2.7 1-.1 1-1.4 1 3.2 1-3 1-.2 1-.6 1 2.1 1-.6 1 .7 1 5.8 1-3.1 1-4.2 1 .7 1 1.6 1-5.2 1 2.6 1 .5 1-2.1 1 3 1-1.2 1-4 1 3.4 1-3.3 1-.6 1 3.6 1-1.8 1 4 1-2.3 1-3.8 1 7.7 1-1 1-.4 1 1.2 1-4.1 1 1.1 1-2.7 1 6 1-3.3 1-1.8 1-3.2 1 5.3 1-1.5 1-1 1 .9 1-1.2 1 6.2 1 1 1-6.9 1-.2 1 6.7 1-.4 1 1.5 1-1.7 1 7.4 1-7.8 1 .5 1 3.1 1-6.3 1-4.9 1 4.1 1 2.9 1-1.2 1-5.4 1 7.6 1-2.8 1-3.8 1 8.7 1-.5 1-.8 1-2.6 1-2.3 1 3.5 1 3.9 1-7.1 1 .5 1-1 1 4 1 .6 1-2 1-.5 1-1.4 1 3 1-2.8 1 1.1 1-.4 1 .2 1-.4 1-3.2 1 3.6 1-1.9 1 2.8 1 1.1 1 1.9 1-2.2 1 .6 1 2.7 1-1.1 1-4.5 1 2.6 1-1 1 1.5 1-4.2 1-2.5 1 2.8 .5 1.5 .3 1 .2 .5 .2-1.2 .3-2.2 .4-2.1 .1-.6 .2 1.9 .4 2.7 .4 2.7 0 .4 .3-.4 .4-.5 .3-.5 .3 .9 .4 .8 .3 .5 0 .2 .4 .9 .3 .2 .3-.6 .1-1.4 .4-6.6 .3-10.3 .2-8 .2-6.7 .3-17.8 .3-17.9 .2-6.7 .2-7.8 .3-10.2 .4-6.5 .1-1.4 .2-2.6 .4-2.7 .4-2 0-.2 .3 .6 .4 .9 .3 1 .3 .8 .4 .8 .3 .7 .4-.3 .3-.2 .3-.2 .1-.4 .4-1.2 .3-1.3 .2-.7 .2 .6 .3 1.3 .5 1.9 1 6.1 1-2.8 1 .2 1-1.6 1 1.4 1-2.2 1 .5 1 2.8 1-3.3 1 3.4 1-6.7 1 3.6 1-3.4 1 1.5 1-3.5 1-.2 1 5.1 1-2.7 1 .4 1-.6 1 .4 1-.4 1-1.9 1 5.3 1 4.5 1-6.2 1 1.3 1-1.4 1-.1 1 1.3 1 .7 1-5.2 1 2.7 1-2.2 1 .8 1-.1 1-.4 1-1.6 1 5.9 1 2.4 1 1.9 1-9.2 1 .7 1 .3 1 7.9 1-3.9 1-.1 1-4 1 2.5 1 .1 1-.9 1 1.1 1 2.8 1-3 1 4.7 1-2.6 1-3.3 1-1.2 1 1 1 1.5 1-.9 1-4.3 1 5.3 1-1.2 1-1.2 1 2.2 1 3.6 1-2.4 1-3.7 1 7.4 1-1.1 1-3.4 1-4.4 1 3 1 .1 1-2.3 1-.7 1 3.8 1-2.7 1 5 1-6.8 1 3.9 1-.1 1-9.8 1 12.6 1-4.3 1-1.2 1-1.5 1 5.2 1-4.8 1 8.1 1-6.3 1-.8 1 1.2 1 0 1-3 1-.4 1 2.1 1 4.3 1 .2 1-.2 1-1.2 1 .2 1-6.9 1 2.6 1 2.4 1-2.4 1 2.1 1-.8 1-.7 1 .5 1 .9 1-1.5 1 3.4 1-2 1-1 1 0 1 2.9 1 2 1-9.3 1 3.9 1-5 1 6.7 1-.3 1 2.1 1-5.9 1 5.6 1-.2 1-1.4 1-.7 1-1.5 1 1.9 1 1.4 1-1.5 1-1.4 1 3.8 1-2 1 .3 1-4.1 1 4.2 1-.1 1 3 1-2.1 1 1.9 1-3 1 .8 1 4.1 1 3.3 1-6.2 1 3.2 1-5.5 1 5.7 1-7.5 1 5.7 1-.6 1-4.4 1 5.4 1-2.4 1-.2 1 3.2 1 2.4 1-7.6 1 2.7 1 1 1-1.5 1 .7 1-1.4 1 1.7 1 2.3 1 .1 1 4.6 1-7.1 1 1.5 1 0 1-4.4 1 2.1 1 1.1 1-3 1 3.2 1-2.3 1-2.1 1 3 1 1.4 1 1 1-.4 1-.7 1 4.6 1-7.2 1 3.6 1-1.1 1-1.5 1 2 1-.4 1 1 1-2.5 1-1.4 1 3.2 1-1.6 1 0 1-1 1-.5 1 5.6 1-.9 1-4.5 1-3.3 1 4.1 1 2.2 1-3.1 .8 1.5 .2 .4 .2 .5 .3 1.3 .3 1.3 .2 .6 .2-1.3 .3-2.1 .4-2.2 .1-.6 .2 1.2 .4 1.7 .4 1.7 0 .3 .3 .3 .4 .5 .3 .8 .3 .8 .4 1.4 .3 2 0 .4 .4 3.7 .3 5.7 .3 5.6 .1 3 .4 11.9 .3 13.2 .2 7.7 .2 6 .3 12.7 .3 10.5 .2 3.8 .2 2.5 .3 2.8 .4 1.3 .1 .2 .2 .9 .4 .6 .4 .2 .3 .6 .4 .5 .3 .4 .3-.9 .4-1 .3-.9 0 .2 .4 .8 .3 .8 .3 .6 .1 0 .4 0 .3 0 .2 .1 1-1.1 1 1.1 1-4.3 1 3.7 1 1.1 1-5.3 1 3.9 1-2.1 1 4.3 1-1.9 1-1.1 1 3.6 1 2.7 1-1.3 1-3.6 1-2.4 1 4 1-2.5 1 4 1 .6 1-2.7 1-.9 1 0 1-.2 1 3.1 1-5.4 1 7.6 1-3.9 1 3.9 1-.6 1-6.1 1 0 1-1 1-1.7 1 3.6 1-3.4 1 3.9 1-.2 1 7.2 1-8.3 1 3.3 1 4.2 1-1.4 1-5.1 1 1.6 1-4.2 1 3.2 1-.1 1 .2 1 1.3 1-3.4 1-1 1 1 1 2.2 1-1.6 1-1.1 1 2 1-2.1 1 6 1-8.4 1 7.1 1 5.5 1-7.4 1-.8 1 3.8 1-.7 1-1.7 1-3.2 1 9.1 1-8.7 1-1.4 1 7.8 1-2.2 1 1.5 1-2.9 1 .6 1 1 1-2.4 1 3.9 1-2.8 1-6.3 1 5.3 1 1.8 1-5.3 1 10.1 1-5.9 1 6.6 1-3.1 1-2.7 1-1.5 1-4.8 1-.6 1 4.2 1-2.3 1 1.2 1 1.5 1 3.2 1-1.8 1 1.6 1-2 1 1.1 1-3 1 2.2 1 3.6 1-4.4 1-2 1 3.2 1-1.7 1 .4 1-.1 1-1.8 1 1 1-1.9 1 1.5 1 1.7 1-2.6 1 1.9 1 2 1 0 1-1.3 1 2.5 1-7.8 1 7.7 1 2.5 1-3 1 0 1-1.1 1-3.7 1 3.7 1-5 1 5.4 1-3.5 1 2 1 3.9 1-1.2 1 1.8 1-3.5 1 1.9 1-1.1" fill="none" stroke="#ff0000" stroke-width="3.0" stroke-linejoin="round" stroke-dasharray="3 2.2"/>
<path d="M1467 1035.3l1-1.1 1-.4 1 2.4 1-.9 1-.4 1-1.6 1 4.9 1 1.8 1-1.7 1 1.3 1 3.3 1-2.8 1-.5 1-.1 1-3.2 1-3.6 1 .7 1 3.1 1 1 1 1.4 1-1.4 1 .9 1 .6 1-.3 1-2 1 1.9 1-1.4 1 1.5 1-.7 1-2.4 1-.2 1 2.5 1-.1 1 .7 1-1.7 1 .5 1 1 1-3.1 1 3.3 1-2.7 1 1.5 1 .3 1 1.9 1-4.4 1 3.4 1-2 1 2.1 1-2.5 1-2.9 1 1.6 1 4.7 1-.3 1-2.4 1-4.1 1 1 1 2.7 1-1.6 1 3.3 1-6.2 1 2 1 .2 1 .2 1-.6 1 .4 1 2.8 1 .2 1-.9 1 3.3 1-3.1 1-3.9 1 5 1 1.8 1-2.6 1 2 1 1.2 1-2.1 1-4.1 1 3.2 1 1.8 1-.9 1 1.1 1 .6 1-.8 1 1.9 1-.6 1-2.1 1-.8 1-3.5 1 0 1 .9 1-.2 1 3 1-1.5 1 1.8 1-.7 1 .8 1-2.1 1 1.6 1-1.3 1 .5 1 2.1 1-1.7 1-.6 1 7.4 1-4.5 1-1.7 1 .4 1-1.2 1 1.3 1-1.3 1 2 1-1.3 1 3.4 1-3 1-.7 1 .3 1 2.7 1-1 1-1.7 1-.5 1-.4 1-3.3 1 1.3 1 2.7 1-3.6 1 3.5 1-.4 1 1.7 1-2.3 1-.3 1 .2 1-1.4 1 4.5 1-3.2 1 3.2 1-2.5 1-.2 .7 1.4 .3 .6 0-.3 .4-1.8 .3-1.7 .3-1.3 .1 .1 .4 .3 .3 .3 .2 .1 .2 .4 .3 1 .3 .8 .2 .3 .2 .2 .3 .1 .4-.3 .1-.2 .2-.1 .4-.8 .4-1.8 0-.4 .3-6.3 .4-9 .3-10.7 .3-9.2 .4-10.2 .3-8.8 0-1.4 .4-9 .3-7.4 .3-4.2 .1-1.9 .4-5.5 .3-4.1 .2-1.9 .2-.8 .3-1.3 .3-.8 .2-.3 .2 .1 .3 .3 .4 .4 .1 .2 .2-.8 .4-1 .4-1 0-.2 .3 0 .4 0 .3 0 .3 .8 .4 .7 .3 .7 1-.6 1 4 1-3.2 1-.6 1-.3 1 .5 1-5.7 1 3.9 1-2.8 1 .9 1 .7 1-.1 1 .6 1-3.1 1 1.3 1 1.1 1 3.9 1-2.5 1 2.7 1-3.1 1-.2 1 .6 1-3.9 1 2.8 1 3.5 1 1 1-3.8 1-1.6 1 2.3 1-1.6 1-1.5 1 .9 1 .9 1 1.6 1-3.3 1 .7 1-.6 1 4.3 1-1.8 1-3 1 4.1 1-2.9 1-3.2 1 7.1 1-4.1 1 1.7 1-2.4 1 1.5 1 1.1 1-4.4 1-1 1 3.9 1-.1 1 2.4 1 .4 1-2.3 1-.9 1-4.6 1 7.4 1-2.5 1-1.8 1 1.2 1-1.9 1 2.5 1-4.1 1 .7 1 3 1 1.8 1 .6 1-.6 1-2.5 1-.3 1 3.5 1-1 1 3 1-8 1 1.8 1 4.7 1 2.5 1-2.2 1-5.6 1 2.6 1-3.3 1 3.8 1-3 1 1 1 .9 1 .3 1-1 1-1.9 1-.5 1-.5 1 2.4 1-.6 1 2.7 1-1.8 1 1.9 1-.7 1 .3 1-1.4 1-2 1 5.2 1-6.2 1 6.5 1-3.1 1 2.9 1-1.8 1 .2 1 .4 1-1.5 1-3.4 1 .9 1 2.7 1-1.6 1 1.2 1-.9 1 1 1 1.8 1-4 1 4.4 1-.3 1-1 1-1.8 1 .7 1 0 1-.9 1 1.1 1-2.4 1 4.6 1-6.2 1 5.2 1 .6 1 2.4 1 .6 1-2.7 1-1.4 1-.6 1 .7 1 4.3 1-1.6 1-7.9 1 3.2 1 .4 1 .5 1 .6 1 3.4 1 .9 1 4.3 1-6.7 1 .2 1 2.8 1-4.2 1-.5 1-4.3 1 7.1 1-.5 1-2.4 1 1.8 1 .1 1-1.8 1 .6 1 3.2 1 .1 1-2.7 1-.1 1 3.6 1 1.1 1-2.7 1 .7 1-1.2 1-1.6 1 1.9 1 .6 1-.4 1-6.5 1 2.5 1-6.6 1 10.3 1 .2 1-3 1-2.6 1 6.7 1-2.9 1-4.1 1 6.3 1-5.3 1 3.3 1-.4 1 1 1-2.9 1 1.7 1-1.1 1 1.4 1 .9 1 .5 1 1.4 1-2.9 1 1.1 1-4.8 1 5.5 1 .7 1-5.5 1 5.8 1-2.1 1-2.2 1 2.2 1-3.5 1 2.9 1-2.4 1 .5 1 1.1 .4 1.8 .3 1.6 .3 1.2 .1-.4 .4-1.3 .3-1.3 .2-.7 .2-.2 .3-.6 .3-.6 .2-.3 .2-.2 .3-.6 .4-.5 .1-.1 .2-.3 .4-.2 .4-.2 0 .1 .3 1.8 .4 2.9 .3 4.2 .3 5.9 .4 9.6 .3 11.7 0 2.1 .4 16 .3 16 .3 9.4 .1 2.8 .4 6.7 .3 3.1 .2 .6 .2 2.3 .3 4.5 .3 3.8 .2 1.5 .2-1.1 .3-2.2 .4-2.3 .1-.6 .2 1.7 .4 2.4 .4 2.4 0 .3 .3-.6 .4-.7 .3-.6 .3-.3 .4-.2 .3-.3 .4-.1 .6-.2 1 2.7 1-.4 1-2.7 1-1 1 3.1 1 1.3 1-4.3 1 1.2 1-3.4 1-.4 1 2.3 1 2 1-.3 1 3.5 1-1.1 1 .1 1 .4 1 2.6 1-3.7 1 .1 1 0 1-.9 1-2.7 1 2.8 1 .9 1-5 1 5 1 1.2 1 .6 1-2.4 1 1.7 1-2.4 1 0 1 .6 1-1.3 1-1.2 1-2.7 1 3.8 1-2.8 1 3.3 1-6.2 1 6.8 1 3.1 1-3.8 1 1.5 1-.7 1 0 1-.3 1-3.2 1-.4 1 6.7 1-4.6 1-7.4 1 6 .3-.4 .4-.4 .3-.4 0 .2 .4 1.6 .3 1.5 .3 1.1 .1 .1 .4 .4 .3 .4 .2 .2 .2-.3 .3-.7 .3-.7 .2-.3 .2 .7 .3 1.2 .4 1.3 .1 .5 .2-1.3 .4-.7 .4 1.4 0 .5 .3 6.6 .4 8 .3 4.2 .3-3.4 .4-7.3 .3-5.9 0-.8 .4-3.8 .3-1.7 .3-.4 .1 0 .4 .1 .3 .2 .2 .1 .2 .2 .3 .6 .3 .6 .2 .2 .2-.2 .3-.3 .4-.3 .1 0 .2 .5 .4 .8 .4 .8 0 .1 .3-.2 .4-.2 .3-.3 1 .4 1-3.9 1-1.1 1 2.9 1-.8 1-1.5 1 1.6 1-1.2 1-1.1 1 .5 1 5.6 1-5.4 1 6.9 1-2.8 1-3.9 1 1.3 1 3.5 1-2.8 1-.9 1 3.8 1-.8 1-3 1 .1 1 1.1 1-2.4 1 3.4 1-3.2 1 3.4 1-.3 1 1.4 1 .4 1 2.3 1-4.2 1-1.4 1 2.9 1-.5 1 1.2 1-4.2 1 8.6 1-6.8 1-2.3 1 .8 1-1.4 1-3.7 1 7 1-2.5 1-.2 1 3.2 1-5 1 .5 1 2.3 1-1.7 1 .6 1 2.7 1-1.8 1-2 1 3.4 1-.7 1-1.9 1-.6" fill="none" stroke="#ff0000" stroke-width="3.2" stroke-linejoin="round"/>
<path d="M1467 1039.5l1-2.5 1-3.1 1 3.9 1-1.1 1 5.6 1-2.7 1-1.3 1 4.8 1-2.4 1-4.9 1 1.9 1-2 1 .6 1 2.5 1-2.6 1 3.3 1 .3 1 2.1 1-2.6 1 1.6 1-3.6 1 4 1-1.6 1-2 1 1.9 1-1.6 1 3.2 1-2.1 1-3.4 1 .1 1-1.2 1 2.4 1-3.1 1 3.1 1 3.3 1-4.1 1 3.3 1-1.3 1-.7 1 1.2 1 2.8 1-.1 1-4.3 1-1 1 .4 1 .4 1 .5 1-3.5 1 4.2 1 .4 1-1.8 1 2.1 1-1.8 1 6.4 1-6 1 3.2 1-2.2 1-1.9 1-1.1 1 1.6 1 4.3 1-3.9 1 3 1-2.3 1 2.1 1-1.5 1-4.2 1 .8 1 .6 1-.9 1 3.9 1-2.4 1 2.6 1 1.9 1-4.9 1 2.4 1-1.2 1 1.1 1 1.3 1-.7 1-.1 1-.9 1-2.2 1 .8 1 .3 1-2.3 1 .6 1 2.7 1 .6 1-.8 1-2.1 1 .5 1 4.4 1-4.1 1 .6 1-.8 1 .6 1 2 1-2.4 1 .1 1 1.5 1-3 1 .1 1 .9 1-.3 1 .3 1 2.5 1-1.3 1 2.7 1 1.2 1-1.4 1-.3 1 1.2 1-5.9 1 4.9 1-1.6 1-2.1 1 2.5 1-2.1 1-.2 1-.9 1 5.3 1-1.4 1-.6 1-1.6 1-.6 1 .1 1-4.7 1 6.2 1 .2 1 3 1-5.9 1 4.1 1-1.3 1-1.3 1-.2 1 4.4 .7-2.9 .3-1.3 0 .2 .4 1.3 .3 1.2 .3 .8 .1-.1 .4-.7 .3-.6 .2-.4 .2-.3 .3-.7 .3-.8 .2-.4 .2-.5 .3-1 .4-1.4 .1-.5 .2 .1 .4-.4 .4-1.5 0-.3 .3-6.6 .4-9.2 .3-11 .3-7.4 .4-8.3 .3-7.2 0-1.7 .4-10.9 .3-9.4 .3-5.6 .1-1.5 .4-4.3 .3-2.9 .2-1.2 .2-1.2 .3-2.1 .3-1.7 .2-.6 .2-.2 .3-.3 .4-.1 .1-.1 .2 .2 .4 .4 .4 .4 .3 0 .4 0 .3 .1 .3-.2 .4-.1 .3-.1 1-2.6 1-.4 1 3 1 2.6 1-.5 1-3.8 1 2 1-1.3 1-.3 1 3.9 1-1.8 1 1.3 1 3.5 1-5.1 1-1.3 1 4.8 1-7.1 1 4.4 1 1.6 1-2.1 1-1.2 1 2.2 1 .2 1-3.9 1 .1 1 0 1 2.8 1-5.8 1 1.3 1 4 1-1 1-3 1 5.7 1 0 1 2.1 1-6.1 1-2.1 1 2.7 1 5.1 1-2.1 1 1.5 1-4.5 1 4.3 1-2.6 1-3.5 1 .8 1 3.7 1 .1 1-1.2 1-2 1-2.2 1 2.4 1 1.6 1 .5 1-1.2 1 .4 1-1.5 1 .2 1-.5 1-1.1 1 1.5 1 .5 1 2.3 1 3.1 1-1.6 1-3.5 1-3 1 1.6 1 1.2 1-.9 1-.1 1 3.3 1-1 1 2.6 1-5.1 1-1.9 1 4.8 1-3.3 1-3.6 1 6.7 1-4.7 1 1.3 1 4.4 1-3.4 1 2.8 1 1.8 1-4.3 1 2.7 1-.7 1-2.7 1 2.5 1-1.7 1-2 1 5.3 1-2.4 1 1.7 1-3.5 1 3.9 1-2.6 1 1 1-.9 1 1.7 1-4.9 1 2.9 1-.7 1 2.7 1-.9 1 2.7 1-.4 1-3.8 1 .2 1-.9 1 3.8 1-1.8 1 1.1 1-3.3 1 2.3 1 2.7 1-6.4 1 2.8 1 1.4 1 2.5 1-3.5 1-1.5 1 .1 1 .2 1-1.2 1 .4 1 2.2 1-.7 1 2 1-.5 1-3.5 1 1.3 1-2.1 1 1.2 1 .8 1-1.4 1 .2 1 1 1 2.8 1 1 1-1.2 1 .3 1 2.6 1-2.1 1 .1 1-.7 1-2.8 1-3.3 1 3.8 1-.3 1-4.3 1 6.5 1-5.9 1 2 1 1.3 1 2.7 1 .2 1 .9 1-2.9 1 2.9 1 5 1-6.5 1 2.6 1-5 1 .6 1-.8 1 2.7 1 .6 1 .1 1 1.1 1-2.4 1 .3 1-2.2 1-.4 1 3 1 .7 1-4.4 1 6.1 1 1.3 1-7.7 1 1.1 1-1.2 1 4.6 1-2 1-2.3 1 4.5 1-1.8 1-2.3 1 1.8 1 2.5 1-1.7 1 1.1 1 0 1 .6 1 .5 1 .9 1-4.3 1 4.6 1 0 1-.6 1 5.1 1-7.7 1 2.8 1-1.5 1 1.6 1 1.1 1-5.1 1-2.5 1 4.7 .4 .1 .3 0 .3 .1 .1 .1 .4 .5 .3 .5 .2 .2 .2 0 .3-.2 .3-.2 .2-.1 .2-.2 .3-.4 .4-.3 .1-.1 .2-.3 .4-.3 .4-.2 .3 1.7 .4 2.6 .3 3.9 .3 4.8 .4 8.5 .3 10.8 0 2.1 .4 16.2 .3 16.2 .3 9.5 .1 3.2 .4 8.1 .3 4.4 .2 1.4 .2 .9 .3 1.3 .3 .6 .2 .1 .2 1.2 .3 1.9 .4 1.9 .1 .5 .2-.7 .4-1 .4-1 0-.1 .3 1.4 .4 1.6 .3 1.6 .3 .1 .4 0 .3 .1 .4-.3 .6-.5 1-1.9 1-2.5 1 3.8 1-1.2 1-2.1 1-.3 1 3.9 1-2.1 1 .7 1-4.5 1 1.4 1-.2 1-2.4 1 4 1-.8 1 1.8 1-4.3 1-.2 1 4.4 1-.9 1 1.8 1-2.8 1 3.2 1-1.5 1 .8 1 1.9 1-7.9 1 1.6 1 4.1 1-1.5 1-3.3 1 .3 1 4.4 1-2.8 1 2.2 1-.6 1 .6 1 2.6 1-2 1-3.3 1 7.1 1-1.8 1-5.7 1 3.4 1-1.9 1-1.1 1-.6 1 1.4 1 1.2 1 3.1 1-.8 1-1.1 1-5.1 1 3.9 1 5.4 1-5 1 1.8 1-3.8 1 5.9 1-4.1 1 1.9 1-2 1 5.8 1-4.9 1 2.5 1-6.8 1 3.6 1-2.3 1 .7 1-1.3 1 .2 1 1.7 1 2.7 1-2.1 1 3.6 1 .8 1-1.6 1-1.6 1 1.8 1 1 1-1.9 1 4.2 1-3.6 1 1 1-.7 1-2.4 1 .1 1 1.7 1 0 1 1 1 .3 1-.7 1-5.2 1-.2 1 3.3 1 1.2 1-.9 1 .8 1 1.6 1-6.7 1-.7 1 5.9 1-3.8 1 1.4 1 .8 1 1.1 1-3.5 1-1.2 1 4.2 1-2.6 1 3.1 1-2.2 1 4 1-3.8 1 4.4 1 1 1-4.1 1-2 1-.3 1 0 1 1.7 1-5.5 1 2.2 1 5.4 1-4.4 1 1.5 1-1.7 1 4.4" fill="none" stroke="#ff0000" stroke-width="3.2" stroke-linejoin="round"/>
<rect x="1465.5" y="653.6" width="509.5" height="438.3" fill="none" stroke="#000" stroke-width="2.7"/>
<line x1="1592.9" y1="1091.9" x2="1592.9" y2="1074.1" stroke="#000" stroke-width="2.6"/>
<line x1="1720.2" y1="1091.9" x2="1720.2" y2="1074.1" stroke="#000" stroke-width="2.6"/>
<line x1="1847.6" y1="1091.9" x2="1847.6" y2="1074.1" stroke="#000" stroke-width="2.6"/>
<line x1="1529.2" y1="1091.9" x2="1529.2" y2="1082.4" stroke="#000" stroke-width="2.6"/>
<line x1="1656.6" y1="1091.9" x2="1656.6" y2="1082.4" stroke="#000" stroke-width="2.6"/>
<line x1="1783.9" y1="1091.9" x2="1783.9" y2="1082.4" stroke="#000" stroke-width="2.6"/>
<line x1="1911.3" y1="1091.9" x2="1911.3" y2="1082.4" stroke="#000" stroke-width="2.6"/>
<text x="1465.5" y="1133.2" font-size="34" text-anchor="middle" transform="matrix(1 0 0 1.04 0 -45.3)">-0.8</text>
<text x="1592.9" y="1133.2" font-size="34" text-anchor="middle" transform="matrix(1 0 0 1.04 0 -45.3)">-0.4</text>
<text x="1720.2" y="1133.2" font-size="34" text-anchor="middle" transform="matrix(1 0 0 1.04 0 -45.3)">0</text>
<text x="1847.6" y="1133.2" font-size="34" text-anchor="middle" transform="matrix(1 0 0 1.04 0 -45.3)">0.4</text>
<text x="1975" y="1133.2" font-size="34" text-anchor="middle" transform="matrix(1 0 0 1.04 0 -45.3)">0.8</text>
<text x="1720.4" y="1191.8" font-size="34" text-anchor="middle" transform="matrix(1 0 0 1.04 0 -47.7)"><tspan font-style="italic">B</tspan> (T)</text>
<text x="1505" y="697" font-size="34" transform="matrix(1 0 0 1.04 0 -27.9)">10 K</text>
<text x="1958.5" y="711.6" font-size="34" text-anchor="end" transform="matrix(1 0 0 1.04 0 -28.5)"><tspan font-style="italic">V</tspan><tspan font-size="23" dy="7.7">DS</tspan><tspan dy="-7.7"> = 0.5 V</tspan></text>
<text x="1962" y="772.2" font-size="34" text-anchor="end" transform="matrix(1 0 0 1.04 0 -30.9)">0.4 V</text>
<text x="1962" y="834.8" font-size="34" text-anchor="end" transform="matrix(1 0 0 1.04 0 -33.4)">0.3 V</text>
<text x="1962" y="907.4" font-size="34" text-anchor="end" transform="matrix(1 0 0 1.04 0 -36.3)">0.2 V</text>
<text x="1962" y="1021" font-size="34" text-anchor="end" transform="matrix(1 0 0 1.04 0 -40.8)">0.1 V</text>
<line x1="1444.7" y1="1014.5" x2="1444.7" y2="1065.5" stroke="#000" stroke-width="2.6"/>
<line x1="1435.3" y1="1014.5" x2="1454" y2="1014.5" stroke="#000" stroke-width="2.6"/>
<line x1="1435.3" y1="1065.5" x2="1454" y2="1065.5" stroke="#000" stroke-width="2.6"/>
<text x="1381" y="1051.3" font-size="34" transform="matrix(1 0 0 1.04 0 -42.1)">2 %</text>
<text transform="translate(1397.6 889.3) rotate(-90) scale(1 1.04)" font-size="34" text-anchor="middle"><tspan font-style="italic">MR</tspan> (%)</text>
</g>
<text x="0" y="24.2" font-size="37" font-weight="bold" transform="matrix(1 0 0 1.04 0 -1)">a</text>
<text x="672.7" y="28.2" font-size="37" font-weight="bold" transform="matrix(1 0 0 1.04 0 -1.1)">b</text>
<text x="672.5" y="664" font-size="37" font-weight="bold" transform="matrix(1 0 0 1.04 0 -26.6)">c</text>
<text x="1366.5" y="32.8" font-size="37" font-weight="bold" transform="matrix(1 0 0 1.04 0 -1.3)">d</text>
<text x="1371.5" y="662" font-size="37" font-weight="bold" transform="matrix(1 0 0 1.04 0 -26.5)">e</text>
<g id="pc">
<defs><radialGradient id="ag" cx="0.4" cy="0.35" r="0.65"><stop offset="0" stop-color="#f4f4fa"/><stop offset="0.45" stop-color="#acb0c6"/><stop offset="1" stop-color="#7e84a0"/></radialGradient><radialGradient id="ap" cx="0.4" cy="0.35" r="0.65"><stop offset="0" stop-color="#e07898"/><stop offset="0.5" stop-color="#c44c74"/><stop offset="1" stop-color="#a83a60"/></radialGradient><radialGradient id="ab" cx="0.4" cy="0.35" r="0.65"><stop offset="0" stop-color="#c8c8e0"/><stop offset="0.5" stop-color="#8c90b0"/><stop offset="1" stop-color="#6c7090"/></radialGradient></defs>
<defs>
<linearGradient id="tg1" gradientUnits="userSpaceOnUse" x1="800.3" y1="0" x2="1251.5" y2="0"><stop offset="-0.0007" stop-color="#f4acbe"/><stop offset="0.2875" stop-color="#f0aec0"/><stop offset="0.3495" stop-color="#e8bace"/><stop offset="0.4204" stop-color="#d4c6dc"/><stop offset="0.4758" stop-color="#c0cee8"/><stop offset="0.5312" stop-color="#aed0ec"/><stop offset="0.7086" stop-color="#a8cce8"/><stop offset="0.7352" stop-color="#c6bcd8"/><stop offset="0.7684" stop-color="#e8a4b8"/><stop offset="0.9568" stop-color="#e9a3b6"/><stop offset="0.9656" stop-color="#f2b0c0"/><stop offset="1.0011" stop-color="#f2b2c2"/></linearGradient>
<linearGradient id="fg1" gradientUnits="userSpaceOnUse" x1="800.3" y1="0" x2="1251.5" y2="0"><stop offset="-0.0007" stop-color="#dcaab8"/><stop offset="0.0481" stop-color="#d8a2b2"/><stop offset="0.2875" stop-color="#d2a4b4"/><stop offset="0.365" stop-color="#c4b0c2"/><stop offset="0.4426" stop-color="#b6bcd0"/><stop offset="0.5202" stop-color="#a6c2d8"/><stop offset="0.713" stop-color="#a0c0d8"/><stop offset="0.7396" stop-color="#bcaac0"/><stop offset="0.7684" stop-color="#d49eb0"/><stop offset="0.9568" stop-color="#d89eb0"/><stop offset="1.0011" stop-color="#e0aabb"/></linearGradient>
<linearGradient id="ug1" gradientUnits="userSpaceOnUse" x1="800.3" y1="0" x2="1251.5" y2="0"><stop offset="-0.0007" stop-color="#d4a8b4"/><stop offset="0.0481" stop-color="#cca0ae"/><stop offset="0.2875" stop-color="#c4a2b0"/><stop offset="0.365" stop-color="#b6aab8"/><stop offset="0.4426" stop-color="#a8adbe"/><stop offset="0.5202" stop-color="#9eaec2"/><stop offset="0.713" stop-color="#98afc4"/><stop offset="0.7396" stop-color="#b0a0b4"/><stop offset="0.7684" stop-color="#c496a8"/><stop offset="0.9568" stop-color="#c898a8"/><stop offset="1.0011" stop-color="#d2a6b4"/></linearGradient>
<linearGradient id="fl1" gradientUnits="userSpaceOnUse" x1="0" y1="857.6" x2="0" y2="927.6"><stop offset="0" stop-color="#eeeeee"/><stop offset="0.5" stop-color="#ebebeb"/><stop offset="0.85" stop-color="#f1f1f1"/><stop offset="1" stop-color="#f8f8f8"/></linearGradient>
<linearGradient id="fs1" gradientUnits="userSpaceOnUse" x1="797.7" y1="0" x2="1254.0" y2="0"><stop offset="0" stop-color="#fff" stop-opacity="0.9"/><stop offset="0.06" stop-color="#fff" stop-opacity="0"/><stop offset="0.94" stop-color="#fff" stop-opacity="0"/><stop offset="1" stop-color="#fff" stop-opacity="0.9"/></linearGradient>
<linearGradient id="fv1" gradientUnits="userSpaceOnUse" x1="0" y1="797.9" x2="0" y2="857.6"><stop offset="0" stop-color="#fff" stop-opacity="0"/><stop offset="0.7" stop-color="#fff" stop-opacity="0"/><stop offset="1" stop-color="#204070" stop-opacity="0.10"/></linearGradient>
<filter id="bl1" x="-30%" y="-200%" width="160%" height="500%"><feGaussianBlur stdDeviation="10"/></filter>
<clipPath id="cf1"><rect x="797.7" y="857.6" width="456.3" height="70.0"/></clipPath>
</defs>
<rect x="797.7" y="857.6" width="456.3" height="70.0" fill="url(#fl1)"/>
<g clip-path="url(#cf1)"><ellipse cx="1030" cy="898" rx="205" ry="16" fill="#c8c8c8" filter="url(#bl1)"/></g>
<rect x="797.7" y="857.6" width="456.3" height="70.0" fill="url(#fs1)"/>
<path d="M820.0 692.8L1232.5 692.8L1251.5 744.6L800.3 744.6Z" fill="url(#tg1)"/>
<path d="M800.3 744.6L820.0 692.8L822.0 744.6Z" fill="#fff" fill-opacity="0.08"/>
<path d="M800.3 744.6L1251.5 744.6L1246.6 857.6L805.0 857.6Z" fill="url(#fg1)"/>
<defs><linearGradient id="bs1" gradientUnits="userSpaceOnUse" x1="800.3" y1="0" x2="1251.5" y2="0"><stop offset="-0.0007" stop-color="#cc6c88"/><stop offset="0.2875" stop-color="#c87490"/><stop offset="0.4426" stop-color="#98a0c0"/><stop offset="0.5202" stop-color="#6c9cc4"/><stop offset="0.713" stop-color="#6aa0c8"/><stop offset="0.7529" stop-color="#bc7890"/><stop offset="1.0011" stop-color="#cc7088"/></linearGradient><linearGradient id="bm1" gradientUnits="userSpaceOnUse" x1="0" y1="819.6" x2="0" y2="857.6"><stop offset="0" stop-color="#fff" stop-opacity="0"/><stop offset="1" stop-color="#fff" stop-opacity="1"/></linearGradient><mask id="mk1" maskUnits="userSpaceOnUse" x="0" y="0" width="1998" height="1199"><rect x="0" y="819.6" width="1998" height="40" fill="url(#bm1)"/></mask></defs>
<path d="M800.3 744.6L1251.5 744.6L1246.6 857.6L805.0 857.6Z" fill="url(#bs1)" mask="url(#mk1)" opacity="0.55"/>
<path d="M800.3 744.6L1251.5 744.6L1250.2 797.9L802.3 797.9Z" fill="url(#ug1)"/>
<path d="M800.3 744.6L822.0 744.6L812.0 857.6L805.0 857.6Z" fill="#fff" fill-opacity="0.10"/>
<path d="M1230.5 744.6L1251.5 744.6L1246.6 857.6L1238.5 857.6Z" fill="#fff" fill-opacity="0.10"/>
<g><path d="M812 875.2L829 867M869 875.2L897.5 875.2M852.1 883.5L869 875.2M823.6 883.5L852.1 883.5M829 867L857.5 867M897.5 875.2L909.1 883.5M874.5 858.8L903 858.8M903 858.8L914.5 867M897.5 875.2L914.5 867M857.5 867L874.5 858.8M857.5 867L869 875.2M812 875.2L823.6 883.5M817.5 858.8L829 867" stroke="#a4a6c0" stroke-width="1.3" fill="none"/><circle cx="874.5" cy="858.8" r="3.6" fill="url(#ag)"/><circle cx="817.5" cy="858.8" r="3.6" fill="url(#ag)"/><circle cx="903" cy="858.8" r="3.6" fill="url(#ag)"/><circle cx="857.5" cy="867" r="3.6" fill="url(#ag)"/><circle cx="914.5" cy="867" r="3.6" fill="url(#ag)"/><circle cx="829" cy="867" r="3.6" fill="url(#ag)"/><circle cx="897.5" cy="875.2" r="3.6" fill="url(#ag)"/><circle cx="812" cy="875.2" r="3.6" fill="url(#ag)"/><circle cx="869" cy="875.2" r="3.6" fill="url(#ag)"/><circle cx="823.6" cy="883.5" r="3.6" fill="url(#ag)"/><circle cx="852.1" cy="883.5" r="3.6" fill="url(#ag)"/><circle cx="909.1" cy="883.5" r="3.6" fill="url(#ag)"/></g>
<g><path d="M1183.3 876.5L1195.9 868.2M1224.4 868.2L1240.3 876.5M1154.8 876.5L1183.3 876.5M1138.9 868.2L1154.8 876.5M1224.4 868.2L1237 860M1195.9 868.2L1224.4 868.2M1138.9 868.2L1151.5 860M1227.7 884.8L1240.3 876.5M1180 860L1195.9 868.2M1142.2 884.8L1154.8 876.5M1183.3 876.5L1199.2 884.8M1151.5 860L1180 860M1199.2 884.8L1227.7 884.8" stroke="#a4a6c0" stroke-width="1.3" fill="none"/><circle cx="1151.5" cy="860" r="3.6" fill="url(#ag)"/><circle cx="1237" cy="860" r="3.6" fill="url(#ag)"/><circle cx="1180" cy="860" r="3.6" fill="url(#ag)"/><circle cx="1195.9" cy="868.2" r="3.6" fill="url(#ag)"/><circle cx="1224.4" cy="868.2" r="3.6" fill="url(#ag)"/><circle cx="1138.9" cy="868.2" r="3.6" fill="url(#ag)"/><circle cx="1154.8" cy="876.5" r="3.6" fill="url(#ag)"/><circle cx="1240.3" cy="876.5" r="3.6" fill="url(#ag)"/><circle cx="1183.3" cy="876.5" r="3.6" fill="url(#ag)"/><circle cx="1142.2" cy="884.8" r="3.6" fill="url(#ag)"/><circle cx="1227.7" cy="884.8" r="3.6" fill="url(#ag)"/><circle cx="1199.2" cy="884.8" r="3.6" fill="url(#ag)"/></g>
<g opacity="0.62"><path d="M833.4 797.9L848.9 790.3M825.1 828.3L836.6 835.9M914.4 797.9L929.9 790.3M875.9 790.3L887.4 797.9M871.8 805.5L883.3 813.1M871.8 805.5L887.4 797.9M836.6 835.9L863.6 835.9M821 843.5L832.5 851.1M863.6 835.9L879.1 828.3M902 843.5L917.6 835.9M829.3 813.1L840.7 820.7M906.1 828.3L921.7 820.7M833.4 797.9L844.8 805.5M844.8 805.5L871.8 805.5M863.6 835.9L875 843.5M906.1 828.3L917.6 835.9M914.4 797.9L925.8 805.5M910.3 813.1L925.8 805.5M840.7 820.7L867.7 820.7M867.7 820.7L883.3 813.1M832.5 851.1L859.5 851.1M902 843.5L913.5 851.1M821 843.5L836.6 835.9M910.3 813.1L921.7 820.7M859.5 851.1L875 843.5M883.3 813.1L910.3 813.1M875 843.5L902 843.5M887.4 797.9L914.4 797.9M848.9 790.3L875.9 790.3M825.1 828.3L840.7 820.7M829.3 813.1L844.8 805.5M879.1 828.3L906.1 828.3M867.7 820.7L879.1 828.3" stroke="#c4466e" stroke-width="1.1" fill="none"/><circle cx="929.9" cy="790.3" r="3.2" fill="url(#ap)"/><circle cx="875.9" cy="790.3" r="3.2" fill="url(#ap)"/><circle cx="848.9" cy="790.3" r="3.2" fill="url(#ap)"/><circle cx="914.4" cy="797.9" r="3.2" fill="url(#ap)"/><circle cx="887.4" cy="797.9" r="3.2" fill="url(#ap)"/><circle cx="833.4" cy="797.9" r="3.2" fill="url(#ap)"/><circle cx="925.8" cy="805.5" r="3.2" fill="url(#ap)"/><circle cx="871.8" cy="805.5" r="3.2" fill="url(#ap)"/><circle cx="844.8" cy="805.5" r="3.2" fill="url(#ap)"/><circle cx="910.3" cy="813.1" r="3.2" fill="url(#ap)"/><circle cx="883.3" cy="813.1" r="3.2" fill="url(#ap)"/><circle cx="829.3" cy="813.1" r="3.2" fill="url(#ap)"/><circle cx="840.7" cy="820.7" r="3.2" fill="url(#ap)"/><circle cx="921.7" cy="820.7" r="3.2" fill="url(#ap)"/><circle cx="867.7" cy="820.7" r="3.2" fill="url(#ap)"/><circle cx="825.1" cy="828.3" r="3.2" fill="url(#ap)"/><circle cx="906.1" cy="828.3" r="3.2" fill="url(#ap)"/><circle cx="879.1" cy="828.3" r="3.2" fill="url(#ap)"/><circle cx="917.6" cy="835.9" r="3.2" fill="url(#ap)"/><circle cx="863.6" cy="835.9" r="3.2" fill="url(#ap)"/><circle cx="836.6" cy="835.9" r="3.2" fill="url(#ap)"/><circle cx="902" cy="843.5" r="3.2" fill="url(#ap)"/><circle cx="875" cy="843.5" r="3.2" fill="url(#ap)"/><circle cx="821" cy="843.5" r="3.2" fill="url(#ap)"/><circle cx="832.5" cy="851.1" r="3.2" fill="url(#ap)"/><circle cx="859.5" cy="851.1" r="3.2" fill="url(#ap)"/><circle cx="913.5" cy="851.1" r="3.2" fill="url(#ap)"/></g>
<g opacity="0.62"><path d="M1190.5 851.5L1217.5 851.5M1143.9 815.8L1170.9 815.8M1217.5 851.5L1229.8 844.4M1207.8 794.3L1220.1 787.2M1207.8 794.4L1220.1 787.2M1141.5 801.5L1168.5 801.5M1183.2 808.6L1210.2 808.6M1134.1 837.2L1146.4 830.1M1139.1 787.2L1166.1 787.2M1173.4 830.1L1185.6 823M1185.6 822.9L1212.6 822.9M1188.1 837.2L1215.1 837.2M1175.8 844.4L1188.1 837.2M1175.8 844.4L1190.5 851.5M1212.6 822.9L1227.4 830.1M1136.5 851.5L1148.8 844.4M1168.5 801.5L1183.2 808.6M1134.1 837.2L1148.8 844.4M1207.8 794.4L1222.5 801.5M1129.2 808.6L1143.9 815.8M1210.2 808.6L1222.5 801.5M1180.8 794.3L1207.8 794.3M1129.2 808.6L1141.5 801.5M1126.8 794.3L1139.1 787.2M1210.2 808.6L1224.9 815.8M1212.6 822.9L1224.9 815.8M1146.4 830.1L1173.4 830.1M1173.4 830.1L1185.6 822.9M1131.6 822.9L1146.4 830.1M1215.1 837.2L1229.8 844.4M1212.6 823L1227.4 830.1M1166.1 787.2L1180.8 794.3M1173.4 830.1L1188.1 837.2M1168.5 801.5L1180.8 794.4M1148.8 844.4L1175.8 844.4M1166.1 787.2L1180.8 794.4M1170.9 815.8L1185.6 822.9M1215.1 837.2L1227.4 830.1M1131.6 823L1146.4 830.1M1185.6 823L1212.6 823M1131.6 822.9L1143.9 815.8M1170.9 815.8L1183.2 808.6M1126.8 794.4L1141.5 801.5M1180.8 794.4L1207.8 794.4M1126.8 794.4L1139.1 787.2" stroke="#c4466e" stroke-width="1.1" fill="none"/><circle cx="1220.1" cy="787.2" r="3.2" fill="url(#ap)"/><circle cx="1166.1" cy="787.2" r="3.2" fill="url(#ap)"/><circle cx="1139.1" cy="787.2" r="3.2" fill="url(#ap)"/><circle cx="1207.8" cy="794.3" r="3.2" fill="url(#ap)"/><circle cx="1180.8" cy="794.3" r="3.2" fill="url(#ap)"/><circle cx="1126.8" cy="794.3" r="3.2" fill="url(#ab)"/><circle cx="1180.8" cy="794.4" r="3.2" fill="url(#ap)"/><circle cx="1126.8" cy="794.4" r="3.2" fill="url(#ab)"/><circle cx="1207.8" cy="794.4" r="3.2" fill="url(#ap)"/><circle cx="1222.5" cy="801.5" r="3.2" fill="url(#ap)"/><circle cx="1168.5" cy="801.5" r="3.2" fill="url(#ap)"/><circle cx="1141.5" cy="801.5" r="3.2" fill="url(#ap)"/><circle cx="1210.2" cy="808.6" r="3.2" fill="url(#ap)"/><circle cx="1183.2" cy="808.6" r="3.2" fill="url(#ap)"/><circle cx="1129.2" cy="808.6" r="3.2" fill="url(#ab)"/><circle cx="1170.9" cy="815.8" r="3.2" fill="url(#ap)"/><circle cx="1143.9" cy="815.8" r="3.2" fill="url(#ap)"/><circle cx="1224.9" cy="815.8" r="3.2" fill="url(#ap)"/><circle cx="1212.6" cy="822.9" r="3.2" fill="url(#ap)"/><circle cx="1185.6" cy="822.9" r="3.2" fill="url(#ap)"/><circle cx="1131.6" cy="822.9" r="3.2" fill="url(#ab)"/><circle cx="1185.6" cy="823" r="3.2" fill="url(#ap)"/><circle cx="1131.6" cy="823" r="3.2" fill="url(#ab)"/><circle cx="1212.6" cy="823" r="3.2" fill="url(#ap)"/><circle cx="1227.4" cy="830.1" r="3.2" fill="url(#ap)"/><circle cx="1173.4" cy="830.1" r="3.2" fill="url(#ap)"/><circle cx="1146.4" cy="830.1" r="3.2" fill="url(#ap)"/><circle cx="1215.1" cy="837.2" r="3.2" fill="url(#ap)"/><circle cx="1188.1" cy="837.2" r="3.2" fill="url(#ap)"/><circle cx="1134.1" cy="837.2" r="3.2" fill="url(#ab)"/><circle cx="1229.8" cy="844.4" r="3.2" fill="url(#ap)"/><circle cx="1148.8" cy="844.4" r="3.2" fill="url(#ap)"/><circle cx="1175.8" cy="844.4" r="3.2" fill="url(#ap)"/><circle cx="1190.5" cy="851.5" r="3.2" fill="url(#ap)"/><circle cx="1136.5" cy="851.5" r="3.2" fill="url(#ap)"/><circle cx="1217.5" cy="851.5" r="3.2" fill="url(#ap)"/></g>
<path d="M861.8 760L861 769.4" stroke="#b22c52" stroke-width="3" fill="none"/>
<path d="M852.7 768.4Q858 769.8 861 768.8Q864 769.8 869.3 768.4L861 773.6Z" fill="#b22c52"/>
<path d="M858.8 776L858 785.4" stroke="#b22c52" stroke-width="3" fill="none"/>
<path d="M849.7 784.4Q855 785.8 858 784.8Q861 785.8 866.3 784.4L858 789.6Z" fill="#b22c52"/>
<path d="M860.8 803.5L860 812.9" stroke="#b22c52" stroke-width="3" fill="none"/>
<path d="M851.7 811.9Q857 813.3 860 812.3Q863 813.3 868.3 811.9L860 817.1Z" fill="#b22c52"/>
<path d="M859.3 820L858.5 829.4" stroke="#b22c52" stroke-width="3" fill="none"/>
<path d="M850.2 828.4Q855.5 829.8 858.5 828.8Q861.5 829.8 866.8 828.4L858.5 833.6Z" fill="#b22c52"/>
<path d="M905.3 760L904.5 769.4" stroke="#b22c52" stroke-width="3" fill="none"/>
<path d="M896.2 768.4Q901.5 769.8 904.5 768.8Q907.5 769.8 912.8 768.4L904.5 773.6Z" fill="#b22c52"/>
<path d="M902.3 776L901.5 785.4" stroke="#b22c52" stroke-width="3" fill="none"/>
<path d="M893.2 784.4Q898.5 785.8 901.5 784.8Q904.5 785.8 909.8 784.4L901.5 789.6Z" fill="#b22c52"/>
<path d="M904.3 803.5L903.5 812.9" stroke="#b22c52" stroke-width="3" fill="none"/>
<path d="M895.2 811.9Q900.5 813.3 903.5 812.3Q906.5 813.3 911.8 811.9L903.5 817.1Z" fill="#b22c52"/>
<path d="M902.8 820L902 829.4" stroke="#b22c52" stroke-width="3" fill="none"/>
<path d="M893.7 828.4Q899 829.8 902 828.8Q905 829.8 910.3 828.4L902 833.6Z" fill="#b22c52"/>
<path d="M1156.4 760L1155.6 769.4" stroke="#b22c52" stroke-width="3" fill="none"/>
<path d="M1147.3 768.4Q1152.6 769.8 1155.6 768.8Q1158.6 769.8 1163.9 768.4L1155.6 773.6Z" fill="#b22c52"/>
<path d="M1158.4 776L1157.6 785.4" stroke="#b22c52" stroke-width="3" fill="none"/>
<path d="M1149.3 784.4Q1154.6 785.8 1157.6 784.8Q1160.6 785.8 1165.9 784.4L1157.6 789.6Z" fill="#b22c52"/>
<path d="M1157.4 803.5L1156.6 812.9" stroke="#b22c52" stroke-width="3" fill="none"/>
<path d="M1148.3 811.9Q1153.6 813.3 1156.6 812.3Q1159.6 813.3 1164.9 811.9L1156.6 817.1Z" fill="#b22c52"/>
<path d="M1158.4 820L1157.6 829.4" stroke="#b22c52" stroke-width="3" fill="none"/>
<path d="M1149.3 828.4Q1154.6 829.8 1157.6 828.8Q1160.6 829.8 1165.9 828.4L1157.6 833.6Z" fill="#b22c52"/>
<path d="M1198.8 760L1198 769.4" stroke="#b22c52" stroke-width="3" fill="none"/>
<path d="M1189.7 768.4Q1195 769.8 1198 768.8Q1201 769.8 1206.3 768.4L1198 773.6Z" fill="#b22c52"/>
<path d="M1200.8 776L1200 785.4" stroke="#b22c52" stroke-width="3" fill="none"/>
<path d="M1191.7 784.4Q1197 785.8 1200 784.8Q1203 785.8 1208.3 784.4L1200 789.6Z" fill="#b22c52"/>
<path d="M1199.8 803.5L1199 812.9" stroke="#b22c52" stroke-width="3" fill="none"/>
<path d="M1190.7 811.9Q1196 813.3 1199 812.3Q1202 813.3 1207.3 811.9L1199 817.1Z" fill="#b22c52"/>
<path d="M1200.8 820L1200 829.4" stroke="#b22c52" stroke-width="3" fill="none"/>
<path d="M1191.7 828.4Q1197 829.8 1200 828.8Q1203 829.8 1208.3 828.4L1200 833.6Z" fill="#b22c52"/>
<path d="M962.6 762.5L938.2 769.2" stroke="#d6428a" stroke-width="2.2" fill="none"/>
<path d="M929.5 771.6L939.4 766.2L937.7 769.3L940.8 771.2Z" fill="#d6428a"/>
<path d="M960.7 778.6L936.3 785.4" stroke="#d6428a" stroke-width="2.2" fill="none"/>
<path d="M927.6 787.8L937.5 782.3L935.8 785.5L938.9 787.4Z" fill="#d6428a"/>
<path d="M1009.8 766.9L975.3 766.9" stroke="#7a6a7c" stroke-width="2.2" fill="none"/>
<path d="M966.3 766.9L977.3 764.3L974.8 766.9L977.3 769.5Z" fill="#7a6a7c"/>
<path d="M1009.8 782.9L974.6 782.9" stroke="#7a6a7c" stroke-width="2.2" fill="none"/>
<path d="M965.6 782.9L976.6 780.3L974.1 782.9L976.6 785.5Z" fill="#7a6a7c"/>
<path d="M1046.6 772L1023.2 765.1" stroke="#4a9ad2" stroke-width="2.2" fill="none"/>
<path d="M1014.6 762.6L1025.9 763.2L1022.8 765L1024.4 768.2Z" fill="#4a9ad2"/>
<path d="M1046.6 788.2L1022.6 781.3" stroke="#4a9ad2" stroke-width="2.2" fill="none"/>
<path d="M1014 778.8L1025.3 779.3L1022.2 781.2L1023.8 784.3Z" fill="#4a9ad2"/>
<path d="M1072 764L1072.6 774" stroke="#2f6fcc" stroke-width="3" fill="none"/>
<path d="M1064.2 765.2Q1069 764 1072 764.8Q1075 764 1079.8 765.2L1072 760.8Z" fill="#2f6fcc"/>
<path d="M1072.6 780L1073.2 790" stroke="#2f6fcc" stroke-width="3" fill="none"/>
<path d="M1064.8 781.2Q1069.6 780 1072.6 780.8Q1075.6 780 1080.4 781.2L1072.6 776.8Z" fill="#2f6fcc"/>
<path d="M1072.3 803L1071.5 812.4" stroke="#2f6fcc" stroke-width="3" fill="none"/>
<path d="M1063.2 811.4Q1068.5 812.8 1071.5 811.8Q1074.5 812.8 1079.8 811.4L1071.5 816.6Z" fill="#2f6fcc"/>
<path d="M1072.8 820L1072 829.4" stroke="#2f6fcc" stroke-width="3" fill="none"/>
<path d="M1063.7 828.4Q1069 829.8 1072 828.8Q1075 829.8 1080.3 828.4L1072 833.6Z" fill="#2f6fcc"/>
<path d="M1114.3 764L1114.9 774" stroke="#2f6fcc" stroke-width="3" fill="none"/>
<path d="M1106.5 765.2Q1111.3 764 1114.3 764.8Q1117.3 764 1122.1 765.2L1114.3 760.8Z" fill="#2f6fcc"/>
<path d="M1114.9 780L1115.5 790" stroke="#2f6fcc" stroke-width="3" fill="none"/>
<path d="M1107.1 781.2Q1111.9 780 1114.9 780.8Q1117.9 780 1122.7 781.2L1114.9 776.8Z" fill="#2f6fcc"/>
<path d="M1114.6 803L1113.8 812.4" stroke="#2f6fcc" stroke-width="3" fill="none"/>
<path d="M1105.5 811.4Q1110.8 812.8 1113.8 811.8Q1116.8 812.8 1122.1 811.4L1113.8 816.6Z" fill="#2f6fcc"/>
<path d="M1115.1 820L1114.3 829.4" stroke="#2f6fcc" stroke-width="3" fill="none"/>
<path d="M1106 828.4Q1111.3 829.8 1114.3 828.8Q1117.3 829.8 1122.6 828.4L1114.3 833.6Z" fill="#2f6fcc"/>
<path d="M945.2 803L944.4 812.4" stroke="#d84a8c" stroke-width="3" fill="none"/>
<path d="M936.1 811.4Q941.4 812.8 944.4 811.8Q947.4 812.8 952.7 811.4L944.4 816.6Z" fill="#d84a8c"/>
<path d="M944.4 820L943.6 829.4" stroke="#d84a8c" stroke-width="3" fill="none"/>
<path d="M935.3 828.4Q940.6 829.8 943.6 828.8Q946.6 829.8 951.9 828.4L943.6 833.6Z" fill="#d84a8c"/>
<path d="M987.5 803L986.7 812.4" stroke="#7a6a7c" stroke-width="3" fill="none"/>
<path d="M978.4 811.4Q983.7 812.8 986.7 811.8Q989.7 812.8 995 811.4L986.7 816.6Z" fill="#7a6a7c"/>
<path d="M987 820L986.2 829.4" stroke="#7a6a7c" stroke-width="3" fill="none"/>
<path d="M977.9 828.4Q983.2 829.8 986.2 828.8Q989.2 829.8 994.5 828.4L986.2 833.6Z" fill="#7a6a7c"/>
<path d="M1029.8 803L1029 812.4" stroke="#4a9ad2" stroke-width="3" fill="none"/>
<path d="M1020.7 811.4Q1026 812.8 1029 811.8Q1032 812.8 1037.3 811.4L1029 816.6Z" fill="#4a9ad2"/>
<path d="M1029.8 820L1029 829.4" stroke="#4a9ad2" stroke-width="3" fill="none"/>
<path d="M1020.7 828.4Q1026 829.8 1029 828.8Q1032 829.8 1037.3 828.4L1029 833.6Z" fill="#4a9ad2"/>
<defs><linearGradient id="ja1" gradientUnits="userSpaceOnUse" x1="848" y1="0" x2="978" y2="0"><stop offset="0" stop-color="#98485f"/><stop offset="0.6" stop-color="#9a5468"/><stop offset="1" stop-color="#8c6474"/></linearGradient><linearGradient id="ja2" gradientUnits="userSpaceOnUse" x1="844" y1="0" x2="1111" y2="0"><stop offset="0" stop-color="#924560"/><stop offset="0.55" stop-color="#92566a"/><stop offset="1" stop-color="#6e6878"/></linearGradient></defs>
<path d="M848.5 793.8 L955.9 799.6 L955.9 797.0 L977.8 803.6 L955.9 809.8 L955.9 806.8 L848.5 810.2 Z" fill="url(#ja1)" fill-opacity="0.66"/>
<text x="1040.0" y="730.5" font-size="34" transform="matrix(1 0 0 1.04 0 -29.2)">AFM</text>
<text x="807.0" y="803.6" font-size="34" transform="matrix(1 0 0 1.04 0 -32.1)"><tspan font-style="italic">j</tspan><tspan font-size="23.5" dy="7.4">DS</tspan></text>
<defs>
<linearGradient id="tg2" gradientUnits="userSpaceOnUse" x1="794.5" y1="0" x2="1263.8" y2="0"><stop offset="-0.0011" stop-color="#f4acbe"/><stop offset="0.4166" stop-color="#eeb0c2"/><stop offset="0.5231" stop-color="#e6bace"/><stop offset="0.6084" stop-color="#d8c2d8"/><stop offset="0.6467" stop-color="#c6cae2"/><stop offset="0.668" stop-color="#a8d0ec"/><stop offset="0.7064" stop-color="#acd0ea"/><stop offset="0.7277" stop-color="#dcaac0"/><stop offset="0.749" stop-color="#eaa2b6"/><stop offset="0.9621" stop-color="#eaa4b8"/><stop offset="0.9706" stop-color="#f2b0c0"/><stop offset="1.0004" stop-color="#f2b2c2"/></linearGradient>
<linearGradient id="fg2" gradientUnits="userSpaceOnUse" x1="794.5" y1="0" x2="1263.8" y2="0"><stop offset="-0.0011" stop-color="#dcaab8"/><stop offset="0.0501" stop-color="#d8a4b4"/><stop offset="0.4379" stop-color="#d2a6b6"/><stop offset="0.5444" stop-color="#c4aabc"/><stop offset="0.6297" stop-color="#b6b0c6"/><stop offset="0.6595" stop-color="#9cbcd8"/><stop offset="0.7106" stop-color="#9ec0da"/><stop offset="0.7362" stop-color="#cc9eb2"/><stop offset="0.7575" stop-color="#d89eb0"/><stop offset="0.9621" stop-color="#d89eb0"/><stop offset="1.0004" stop-color="#e0aabb"/></linearGradient>
<linearGradient id="ug2" gradientUnits="userSpaceOnUse" x1="794.5" y1="0" x2="1263.8" y2="0"><stop offset="-0.0011" stop-color="#d4a8b4"/><stop offset="0.0501" stop-color="#cca2b0"/><stop offset="0.4379" stop-color="#c6a4b2"/><stop offset="0.5444" stop-color="#b8a6b6"/><stop offset="0.6297" stop-color="#aaa8bc"/><stop offset="0.6595" stop-color="#96b0c6"/><stop offset="0.7106" stop-color="#98b2c6"/><stop offset="0.7362" stop-color="#c09aac"/><stop offset="0.7575" stop-color="#c898a8"/><stop offset="0.9621" stop-color="#c898a8"/><stop offset="1.0004" stop-color="#d2a6b4"/></linearGradient>
<linearGradient id="fl2" gradientUnits="userSpaceOnUse" x1="0" y1="1126.6" x2="0" y2="1176.1"><stop offset="0" stop-color="#eeeeee"/><stop offset="0.5" stop-color="#ebebeb"/><stop offset="0.85" stop-color="#f1f1f1"/><stop offset="1" stop-color="#f8f8f8"/></linearGradient>
<linearGradient id="fs2" gradientUnits="userSpaceOnUse" x1="788.0" y1="0" x2="1268.6" y2="0"><stop offset="0" stop-color="#fff" stop-opacity="0.9"/><stop offset="0.06" stop-color="#fff" stop-opacity="0"/><stop offset="0.94" stop-color="#fff" stop-opacity="0"/><stop offset="1" stop-color="#fff" stop-opacity="0.9"/></linearGradient>
<linearGradient id="fv2" gradientUnits="userSpaceOnUse" x1="0" y1="1069.0" x2="0" y2="1126.6"><stop offset="0" stop-color="#fff" stop-opacity="0"/><stop offset="0.7" stop-color="#fff" stop-opacity="0"/><stop offset="1" stop-color="#204070" stop-opacity="0.10"/></linearGradient>
<filter id="bl2" x="-30%" y="-200%" width="160%" height="500%"><feGaussianBlur stdDeviation="9"/></filter>
<clipPath id="cf2"><rect x="788.0" y="1126.6" width="480.6" height="49.5"/></clipPath>
</defs>
<rect x="788.0" y="1126.6" width="480.6" height="49.5" fill="url(#fl2)"/>
<g clip-path="url(#cf2)"><ellipse cx="1030" cy="1157" rx="215" ry="11" fill="#c4c4c4" filter="url(#bl2)"/></g>
<rect x="788.0" y="1126.6" width="480.6" height="49.5" fill="url(#fs2)"/>
<path d="M817.0 963.2L1246.2 963.2L1263.8 1006.5L794.5 1006.5Z" fill="url(#tg2)"/>
<path d="M794.5 1006.5L817.0 963.2L819.0 1006.5Z" fill="#fff" fill-opacity="0.08"/>
<path d="M794.5 1006.5L1263.8 1006.5L1259.6 1126.6L798.4 1126.6Z" fill="url(#fg2)"/>
<defs><linearGradient id="bs2" gradientUnits="userSpaceOnUse" x1="794.5" y1="0" x2="1263.8" y2="0"><stop offset="-0.0011" stop-color="#cc6c88"/><stop offset="0.4379" stop-color="#c87490"/><stop offset="0.6084" stop-color="#a890b0"/><stop offset="0.6595" stop-color="#6c9cc4"/><stop offset="0.7106" stop-color="#6aa0c8"/><stop offset="0.7405" stop-color="#bc7890"/><stop offset="1.0004" stop-color="#cc7088"/></linearGradient><linearGradient id="bm2" gradientUnits="userSpaceOnUse" x1="0" y1="1088.6" x2="0" y2="1126.6"><stop offset="0" stop-color="#fff" stop-opacity="0"/><stop offset="1" stop-color="#fff" stop-opacity="1"/></linearGradient><mask id="mk2" maskUnits="userSpaceOnUse" x="0" y="0" width="1998" height="1199"><rect x="0" y="1088.6" width="1998" height="40" fill="url(#bm2)"/></mask></defs>
<path d="M794.5 1006.5L1263.8 1006.5L1259.6 1126.6L798.4 1126.6Z" fill="url(#bs2)" mask="url(#mk2)" opacity="0.55"/>
<path d="M794.5 1006.5L1263.8 1006.5L1262.5 1069.0L796.5 1069.0Z" fill="url(#ug2)"/>
<path d="M794.5 1006.5L819.0 1006.5L809.0 1126.6L798.4 1126.6Z" fill="#fff" fill-opacity="0.10"/>
<path d="M1244.2 1006.5L1263.8 1006.5L1259.6 1126.6L1252.2 1126.6Z" fill="#fff" fill-opacity="0.10"/>
<g><path d="M822 1128.5L852 1128.5M817 1144L847 1144M894.5 1136.2L912 1128.5M847 1144L864.5 1136.2M852 1128.5L864.5 1136.2M804.5 1136.2L822 1128.5M864.5 1136.2L894.5 1136.2M804.5 1136.2L817 1144M894.5 1136.2L907 1144" stroke="#a4a6c0" stroke-width="1.3" fill="none"/><circle cx="822" cy="1128.5" r="3.6" fill="url(#ag)"/><circle cx="852" cy="1128.5" r="3.6" fill="url(#ag)"/><circle cx="912" cy="1128.5" r="3.6" fill="url(#ag)"/><circle cx="804.5" cy="1136.2" r="3.6" fill="url(#ag)"/><circle cx="864.5" cy="1136.2" r="3.6" fill="url(#ag)"/><circle cx="894.5" cy="1136.2" r="3.6" fill="url(#ag)"/><circle cx="817" cy="1144" r="3.6" fill="url(#ag)"/><circle cx="847" cy="1144" r="3.6" fill="url(#ag)"/><circle cx="907" cy="1144" r="3.6" fill="url(#ag)"/></g>
<g><path d="M1162.3 1138.2L1192.8 1138.2M1149 1146L1162.3 1138.2M1236.5 1130.5L1253.8 1138.2M1192.8 1138.2L1206 1130.5M1210 1146L1240.5 1146M1206 1130.5L1236.5 1130.5M1145 1130.5L1162.3 1138.2M1240.5 1146L1253.8 1138.2M1192.8 1138.2L1210 1146" stroke="#a4a6c0" stroke-width="1.3" fill="none"/><circle cx="1145" cy="1130.5" r="3.6" fill="url(#ag)"/><circle cx="1236.5" cy="1130.5" r="3.6" fill="url(#ag)"/><circle cx="1206" cy="1130.5" r="3.6" fill="url(#ag)"/><circle cx="1192.8" cy="1138.2" r="3.6" fill="url(#ag)"/><circle cx="1253.8" cy="1138.2" r="3.6" fill="url(#ag)"/><circle cx="1162.3" cy="1138.2" r="3.6" fill="url(#ag)"/><circle cx="1149" cy="1146" r="3.6" fill="url(#ag)"/><circle cx="1240.5" cy="1146" r="3.6" fill="url(#ag)"/><circle cx="1210" cy="1146" r="3.6" fill="url(#ag)"/></g>
<g opacity="0.62"><path d="M902.1 1109L914.1 1115.5M897.1 1122L914.1 1115.5M870.9 1076.5L887.9 1070M878 1096L907 1096M883 1083L912 1083M861.1 1102.5L873.1 1109M868.1 1122L897.1 1122M916.9 1070L928.9 1076.5M815.1 1109L827.1 1115.5M829.9 1070L841.9 1076.5M829.9 1070L846.9 1063.5M887.9 1070L916.9 1070M820 1096L832.1 1102.5M870.9 1076.5L883 1083M907 1096L924 1089.5M815.1 1109L832.1 1102.5M856.1 1115.5L873.1 1109M832.1 1102.5L861.1 1102.5M825 1083L837 1089.5M810.1 1122L827.1 1115.5M866 1089.5L878 1096M856.1 1115.5L868.1 1122M866 1089.5L883 1083M827.1 1115.5L856.1 1115.5M846.9 1063.5L875.9 1063.5M873.1 1109L902.1 1109M841.9 1076.5L870.9 1076.5M861.1 1102.5L878 1096M892.9 1057L921.9 1057M875.9 1063.5L887.9 1070M875.9 1063.5L892.9 1057M907 1096L919.1 1102.5M902.1 1109L919.1 1102.5M820 1096L837 1089.5M834.9 1057L846.9 1063.5M912 1083L928.9 1076.5M837 1089.5L866 1089.5M825 1083L841.9 1076.5M912 1083L924 1089.5" stroke="#c4466e" stroke-width="1.1" fill="none"/><circle cx="921.9" cy="1057" r="3.2" fill="url(#ap)"/><circle cx="834.9" cy="1057" r="3.2" fill="url(#ap)"/><circle cx="892.9" cy="1057" r="3.2" fill="url(#ap)"/><circle cx="846.9" cy="1063.5" r="3.2" fill="url(#ap)"/><circle cx="875.9" cy="1063.5" r="3.2" fill="url(#ap)"/><circle cx="916.9" cy="1070" r="3.2" fill="url(#ap)"/><circle cx="829.9" cy="1070" r="3.2" fill="url(#ap)"/><circle cx="887.9" cy="1070" r="3.2" fill="url(#ap)"/><circle cx="870.9" cy="1076.5" r="3.2" fill="url(#ap)"/><circle cx="841.9" cy="1076.5" r="3.2" fill="url(#ap)"/><circle cx="928.9" cy="1076.5" r="3.2" fill="url(#ap)"/><circle cx="883" cy="1083" r="3.2" fill="url(#ap)"/><circle cx="912" cy="1083" r="3.2" fill="url(#ap)"/><circle cx="825" cy="1083" r="3.2" fill="url(#ap)"/><circle cx="866" cy="1089.5" r="3.2" fill="url(#ap)"/><circle cx="924" cy="1089.5" r="3.2" fill="url(#ap)"/><circle cx="837" cy="1089.5" r="3.2" fill="url(#ap)"/><circle cx="878" cy="1096" r="3.2" fill="url(#ap)"/><circle cx="907" cy="1096" r="3.2" fill="url(#ap)"/><circle cx="820" cy="1096" r="3.2" fill="url(#ap)"/><circle cx="861.1" cy="1102.5" r="3.2" fill="url(#ap)"/><circle cx="919.1" cy="1102.5" r="3.2" fill="url(#ap)"/><circle cx="832.1" cy="1102.5" r="3.2" fill="url(#ap)"/><circle cx="902.1" cy="1109" r="3.2" fill="url(#ap)"/><circle cx="815.1" cy="1109" r="3.2" fill="url(#ap)"/><circle cx="873.1" cy="1109" r="3.2" fill="url(#ap)"/><circle cx="827.1" cy="1115.5" r="3.2" fill="url(#ap)"/><circle cx="914.1" cy="1115.5" r="3.2" fill="url(#ap)"/><circle cx="856.1" cy="1115.5" r="3.2" fill="url(#ap)"/><circle cx="810.1" cy="1122" r="3.2" fill="url(#ap)"/><circle cx="897.1" cy="1122" r="3.2" fill="url(#ap)"/><circle cx="868.1" cy="1122" r="3.2" fill="url(#ap)"/></g>
<g opacity="0.62"><path d="M1181 1085L1193.9 1078.8M1144.3 1116.2L1157.2 1110M1135.8 1066.2L1150.9 1072.5M1137.9 1078.8L1150.9 1072.5M1196.1 1091.2L1224.1 1091.2M1181 1085L1196.1 1091.2M1142.2 1103.8L1155.1 1097.5M1198.2 1103.8L1226.2 1103.8M1228.3 1116.2L1241.2 1110M1159.4 1122.5L1187.4 1122.5M1178.9 1072.5L1193.9 1078.8M1185.2 1110L1200.3 1116.2M1185.2 1110L1198.2 1103.8M1183.1 1097.5L1196.1 1091.2M1183.1 1097.5L1198.2 1103.8M1187.4 1122.5L1200.3 1116.2M1228.3 1116.2L1243.4 1122.5M1176.8 1060L1191.8 1066.2M1221.9 1078.8L1237 1085M1200.3 1116.2L1228.3 1116.2M1137.9 1078.8L1153 1085M1224.1 1091.2L1239.1 1097.5M1226.2 1103.8L1239.1 1097.5M1142.2 1103.8L1157.2 1110M1157.2 1110L1185.2 1110M1178.9 1072.5L1191.8 1066.2M1140.1 1091.2L1153 1085M1153 1085L1181 1085M1155.1 1097.5L1183.1 1097.5M1144.3 1116.2L1159.4 1122.5M1135.8 1066.2L1148.8 1060M1140.1 1091.2L1155.1 1097.5M1226.2 1103.8L1241.2 1110M1221.9 1078.8L1234.9 1072.5M1193.9 1078.8L1221.9 1078.8M1148.8 1060L1176.8 1060M1191.8 1066.2L1219.8 1066.2M1150.9 1072.5L1178.9 1072.5M1219.8 1066.2L1232.8 1060M1224.1 1091.2L1237 1085M1219.8 1066.2L1234.9 1072.5" stroke="#c4466e" stroke-width="1.1" fill="none"/><circle cx="1176.8" cy="1060" r="3.2" fill="url(#ap)"/><circle cx="1232.8" cy="1060" r="3.2" fill="url(#ap)"/><circle cx="1148.8" cy="1060" r="3.2" fill="url(#ap)"/><circle cx="1191.8" cy="1066.2" r="3.2" fill="url(#ap)"/><circle cx="1219.8" cy="1066.2" r="3.2" fill="url(#ap)"/><circle cx="1135.8" cy="1066.2" r="3.2" fill="url(#ab)"/><circle cx="1234.9" cy="1072.5" r="3.2" fill="url(#ap)"/><circle cx="1178.9" cy="1072.5" r="3.2" fill="url(#ap)"/><circle cx="1150.9" cy="1072.5" r="3.2" fill="url(#ap)"/><circle cx="1193.9" cy="1078.8" r="3.2" fill="url(#ap)"/><circle cx="1221.9" cy="1078.8" r="3.2" fill="url(#ap)"/><circle cx="1137.9" cy="1078.8" r="3.2" fill="url(#ab)"/><circle cx="1237" cy="1085" r="3.2" fill="url(#ap)"/><circle cx="1153" cy="1085" r="3.2" fill="url(#ap)"/><circle cx="1181" cy="1085" r="3.2" fill="url(#ap)"/><circle cx="1224.1" cy="1091.2" r="3.2" fill="url(#ap)"/><circle cx="1140.1" cy="1091.2" r="3.2" fill="url(#ab)"/><circle cx="1196.1" cy="1091.2" r="3.2" fill="url(#ap)"/><circle cx="1239.1" cy="1097.5" r="3.2" fill="url(#ap)"/><circle cx="1155.1" cy="1097.5" r="3.2" fill="url(#ap)"/><circle cx="1183.1" cy="1097.5" r="3.2" fill="url(#ap)"/><circle cx="1142.2" cy="1103.8" r="3.2" fill="url(#ab)"/><circle cx="1198.2" cy="1103.8" r="3.2" fill="url(#ap)"/><circle cx="1226.2" cy="1103.8" r="3.2" fill="url(#ap)"/><circle cx="1185.2" cy="1110" r="3.2" fill="url(#ap)"/><circle cx="1157.2" cy="1110" r="3.2" fill="url(#ap)"/><circle cx="1241.2" cy="1110" r="3.2" fill="url(#ap)"/><circle cx="1200.3" cy="1116.2" r="3.2" fill="url(#ap)"/><circle cx="1228.3" cy="1116.2" r="3.2" fill="url(#ap)"/><circle cx="1144.3" cy="1116.2" r="3.2" fill="url(#ab)"/><circle cx="1187.4" cy="1122.5" r="3.2" fill="url(#ap)"/><circle cx="1243.4" cy="1122.5" r="3.2" fill="url(#ap)"/><circle cx="1159.4" cy="1122.5" r="3.2" fill="url(#ap)"/></g>
<path d="M856.2 1027.5L855.4 1036.9" stroke="#b22c52" stroke-width="3" fill="none"/>
<path d="M847.1 1035.9Q852.4 1037.3 855.4 1036.3Q858.4 1037.3 863.7 1035.9L855.4 1041.1Z" fill="#b22c52"/>
<path d="M856.2 1041.5L855.4 1050.9" stroke="#b22c52" stroke-width="3" fill="none"/>
<path d="M847.1 1049.9Q852.4 1051.3 855.4 1050.3Q858.4 1051.3 863.7 1049.9L855.4 1055.1Z" fill="#b22c52"/>
<path d="M856.2 1072.5L855.4 1081.9" stroke="#b22c52" stroke-width="3" fill="none"/>
<path d="M847.1 1080.9Q852.4 1082.3 855.4 1081.3Q858.4 1082.3 863.7 1080.9L855.4 1086.1Z" fill="#b22c52"/>
<path d="M856.2 1088.5L855.4 1097.9" stroke="#b22c52" stroke-width="3" fill="none"/>
<path d="M847.1 1096.9Q852.4 1098.3 855.4 1097.3Q858.4 1098.3 863.7 1096.9L855.4 1102.1Z" fill="#b22c52"/>
<path d="M899.4 1027.5L898.6 1036.9" stroke="#b22c52" stroke-width="3" fill="none"/>
<path d="M890.3 1035.9Q895.6 1037.3 898.6 1036.3Q901.6 1037.3 906.9 1035.9L898.6 1041.1Z" fill="#b22c52"/>
<path d="M899.4 1041.5L898.6 1050.9" stroke="#b22c52" stroke-width="3" fill="none"/>
<path d="M890.3 1049.9Q895.6 1051.3 898.6 1050.3Q901.6 1051.3 906.9 1049.9L898.6 1055.1Z" fill="#b22c52"/>
<path d="M899.4 1072.5L898.6 1081.9" stroke="#b22c52" stroke-width="3" fill="none"/>
<path d="M890.3 1080.9Q895.6 1082.3 898.6 1081.3Q901.6 1082.3 906.9 1080.9L898.6 1086.1Z" fill="#b22c52"/>
<path d="M899.4 1088.5L898.6 1097.9" stroke="#b22c52" stroke-width="3" fill="none"/>
<path d="M890.3 1096.9Q895.6 1098.3 898.6 1097.3Q901.6 1098.3 906.9 1096.9L898.6 1102.1Z" fill="#b22c52"/>
<path d="M942.7 1027.5L941.9 1036.9" stroke="#b22c52" stroke-width="3" fill="none"/>
<path d="M933.6 1035.9Q938.9 1037.3 941.9 1036.3Q944.9 1037.3 950.2 1035.9L941.9 1041.1Z" fill="#b22c52"/>
<path d="M942.7 1041.5L941.9 1050.9" stroke="#b22c52" stroke-width="3" fill="none"/>
<path d="M933.6 1049.9Q938.9 1051.3 941.9 1050.3Q944.9 1051.3 950.2 1049.9L941.9 1055.1Z" fill="#b22c52"/>
<path d="M942.7 1072.5L941.9 1081.9" stroke="#b22c52" stroke-width="3" fill="none"/>
<path d="M933.6 1080.9Q938.9 1082.3 941.9 1081.3Q944.9 1082.3 950.2 1080.9L941.9 1086.1Z" fill="#b22c52"/>
<path d="M942.7 1088.5L941.9 1097.9" stroke="#b22c52" stroke-width="3" fill="none"/>
<path d="M933.6 1096.9Q938.9 1098.3 941.9 1097.3Q944.9 1098.3 950.2 1096.9L941.9 1102.1Z" fill="#b22c52"/>
<path d="M986.8 1027.5L986 1036.9" stroke="#b22c52" stroke-width="3" fill="none"/>
<path d="M977.7 1035.9Q983 1037.3 986 1036.3Q989 1037.3 994.3 1035.9L986 1041.1Z" fill="#b22c52"/>
<path d="M986.8 1041.5L986 1050.9" stroke="#b22c52" stroke-width="3" fill="none"/>
<path d="M977.7 1049.9Q983 1051.3 986 1050.3Q989 1051.3 994.3 1049.9L986 1055.1Z" fill="#b22c52"/>
<path d="M986.8 1072.5L986 1081.9" stroke="#b22c52" stroke-width="3" fill="none"/>
<path d="M977.7 1080.9Q983 1082.3 986 1081.3Q989 1082.3 994.3 1080.9L986 1086.1Z" fill="#b22c52"/>
<path d="M986.8 1088.5L986 1097.9" stroke="#b22c52" stroke-width="3" fill="none"/>
<path d="M977.7 1096.9Q983 1098.3 986 1097.3Q989 1098.3 994.3 1096.9L986 1102.1Z" fill="#b22c52"/>
<path d="M1165.3 1027.5L1164.5 1036.9" stroke="#b22c52" stroke-width="3" fill="none"/>
<path d="M1156.2 1035.9Q1161.5 1037.3 1164.5 1036.3Q1167.5 1037.3 1172.8 1035.9L1164.5 1041.1Z" fill="#b22c52"/>
<path d="M1165.3 1041.5L1164.5 1050.9" stroke="#b22c52" stroke-width="3" fill="none"/>
<path d="M1156.2 1049.9Q1161.5 1051.3 1164.5 1050.3Q1167.5 1051.3 1172.8 1049.9L1164.5 1055.1Z" fill="#b22c52"/>
<path d="M1165.3 1072.5L1164.5 1081.9" stroke="#b22c52" stroke-width="3" fill="none"/>
<path d="M1156.2 1080.9Q1161.5 1082.3 1164.5 1081.3Q1167.5 1082.3 1172.8 1080.9L1164.5 1086.1Z" fill="#b22c52"/>
<path d="M1165.3 1088.5L1164.5 1097.9" stroke="#b22c52" stroke-width="3" fill="none"/>
<path d="M1156.2 1096.9Q1161.5 1098.3 1164.5 1097.3Q1167.5 1098.3 1172.8 1096.9L1164.5 1102.1Z" fill="#b22c52"/>
<path d="M1210.1 1027.5L1209.3 1036.9" stroke="#b22c52" stroke-width="3" fill="none"/>
<path d="M1201 1035.9Q1206.3 1037.3 1209.3 1036.3Q1212.3 1037.3 1217.6 1035.9L1209.3 1041.1Z" fill="#b22c52"/>
<path d="M1210.1 1041.5L1209.3 1050.9" stroke="#b22c52" stroke-width="3" fill="none"/>
<path d="M1201 1049.9Q1206.3 1051.3 1209.3 1050.3Q1212.3 1051.3 1217.6 1049.9L1209.3 1055.1Z" fill="#b22c52"/>
<path d="M1210.1 1072.5L1209.3 1081.9" stroke="#b22c52" stroke-width="3" fill="none"/>
<path d="M1201 1080.9Q1206.3 1082.3 1209.3 1081.3Q1212.3 1082.3 1217.6 1080.9L1209.3 1086.1Z" fill="#b22c52"/>
<path d="M1210.1 1088.5L1209.3 1097.9" stroke="#b22c52" stroke-width="3" fill="none"/>
<path d="M1201 1096.9Q1206.3 1098.3 1209.3 1097.3Q1212.3 1098.3 1217.6 1096.9L1209.3 1102.1Z" fill="#b22c52"/>
<path d="M1047.5 1029L1022.8 1034.9" stroke="#d6428a" stroke-width="2.2" fill="none"/>
<path d="M1014 1037L1024.1 1031.9L1022.3 1035L1025.3 1037Z" fill="#d6428a"/>
<path d="M1047.5 1043L1022.8 1048.9" stroke="#d6428a" stroke-width="2.2" fill="none"/>
<path d="M1014 1051L1024.1 1045.9L1022.3 1049L1025.3 1051Z" fill="#d6428a"/>
<path d="M1098 1033.5L1062 1033.5" stroke="#7a6a7c" stroke-width="2.2" fill="none"/>
<path d="M1053 1033.5L1064 1030.9L1061.5 1033.5L1064 1036.1Z" fill="#7a6a7c"/>
<path d="M1098 1047.5L1062 1047.5" stroke="#7a6a7c" stroke-width="2.2" fill="none"/>
<path d="M1053 1047.5L1064 1044.9L1061.5 1047.5L1064 1050.1Z" fill="#7a6a7c"/>
<path d="M1136 1037.5L1112.8 1032.1" stroke="#4a9ad2" stroke-width="2.2" fill="none"/>
<path d="M1104 1030L1115.3 1030L1112.3 1031.9L1114.1 1035Z" fill="#4a9ad2"/>
<path d="M1138 1051.5L1114.8 1046.1" stroke="#4a9ad2" stroke-width="2.2" fill="none"/>
<path d="M1106 1044L1117.3 1044L1114.3 1045.9L1116.1 1049Z" fill="#4a9ad2"/>
<path d="M1032.3 1072.5L1031.5 1081.9" stroke="#d84a8c" stroke-width="3" fill="none"/>
<path d="M1023.2 1080.9Q1028.5 1082.3 1031.5 1081.3Q1034.5 1082.3 1039.8 1080.9L1031.5 1086.1Z" fill="#d84a8c"/>
<path d="M1032.3 1088.5L1031.5 1097.9" stroke="#d84a8c" stroke-width="3" fill="none"/>
<path d="M1023.2 1096.9Q1028.5 1098.3 1031.5 1097.3Q1034.5 1098.3 1039.8 1096.9L1031.5 1102.1Z" fill="#d84a8c"/>
<path d="M1077.2 1072.5L1076.4 1081.9" stroke="#7a6a7c" stroke-width="3" fill="none"/>
<path d="M1068.1 1080.9Q1073.4 1082.3 1076.4 1081.3Q1079.4 1082.3 1084.7 1080.9L1076.4 1086.1Z" fill="#7a6a7c"/>
<path d="M1077.2 1088.5L1076.4 1097.9" stroke="#7a6a7c" stroke-width="3" fill="none"/>
<path d="M1068.1 1096.9Q1073.4 1098.3 1076.4 1097.3Q1079.4 1098.3 1084.7 1096.9L1076.4 1102.1Z" fill="#7a6a7c"/>
<path d="M1122 1072.5L1121.2 1081.9" stroke="#4a9ad2" stroke-width="3" fill="none"/>
<path d="M1112.9 1080.9Q1118.2 1082.3 1121.2 1081.3Q1124.2 1082.3 1129.5 1080.9L1121.2 1086.1Z" fill="#4a9ad2"/>
<path d="M1122 1088.5L1121.2 1097.9" stroke="#4a9ad2" stroke-width="3" fill="none"/>
<path d="M1112.9 1096.9Q1118.2 1098.3 1121.2 1097.3Q1124.2 1098.3 1129.5 1096.9L1121.2 1102.1Z" fill="#4a9ad2"/>
<path d="M844.2 1057.7 L1066.8 1067.0 L1066.8 1061.0 L1111.0 1072.0 L1066.8 1083.4 L1066.8 1077.0 L844.2 1086.6 Z" fill="url(#ja2)" fill-opacity="0.66"/>
<text x="1063.5" y="995.9" font-size="34" transform="matrix(1 0 0 1.04 0 -39.8)">AFM</text>
<text x="801.5" y="1073.8" font-size="34" transform="matrix(1 0 0 1.04 0 -43)"><tspan font-style="italic">j</tspan><tspan font-size="23.5" dy="7.4">DS</tspan></text>
<text x="982.0" y="1159.3" font-size="34" transform="matrix(1 0 0 1.04 0 -46.4)">CrSBr</text>
<text x="835.5" y="1187.5" font-size="34" transform="matrix(1 0 0 1.04 0 -47.5)">Gr</text>
<text x="1179.2" y="1185.9" font-size="34" transform="matrix(1 0 0 1.04 0 -47.4)">Gr</text>
</g>
</svg>
</body></html>
